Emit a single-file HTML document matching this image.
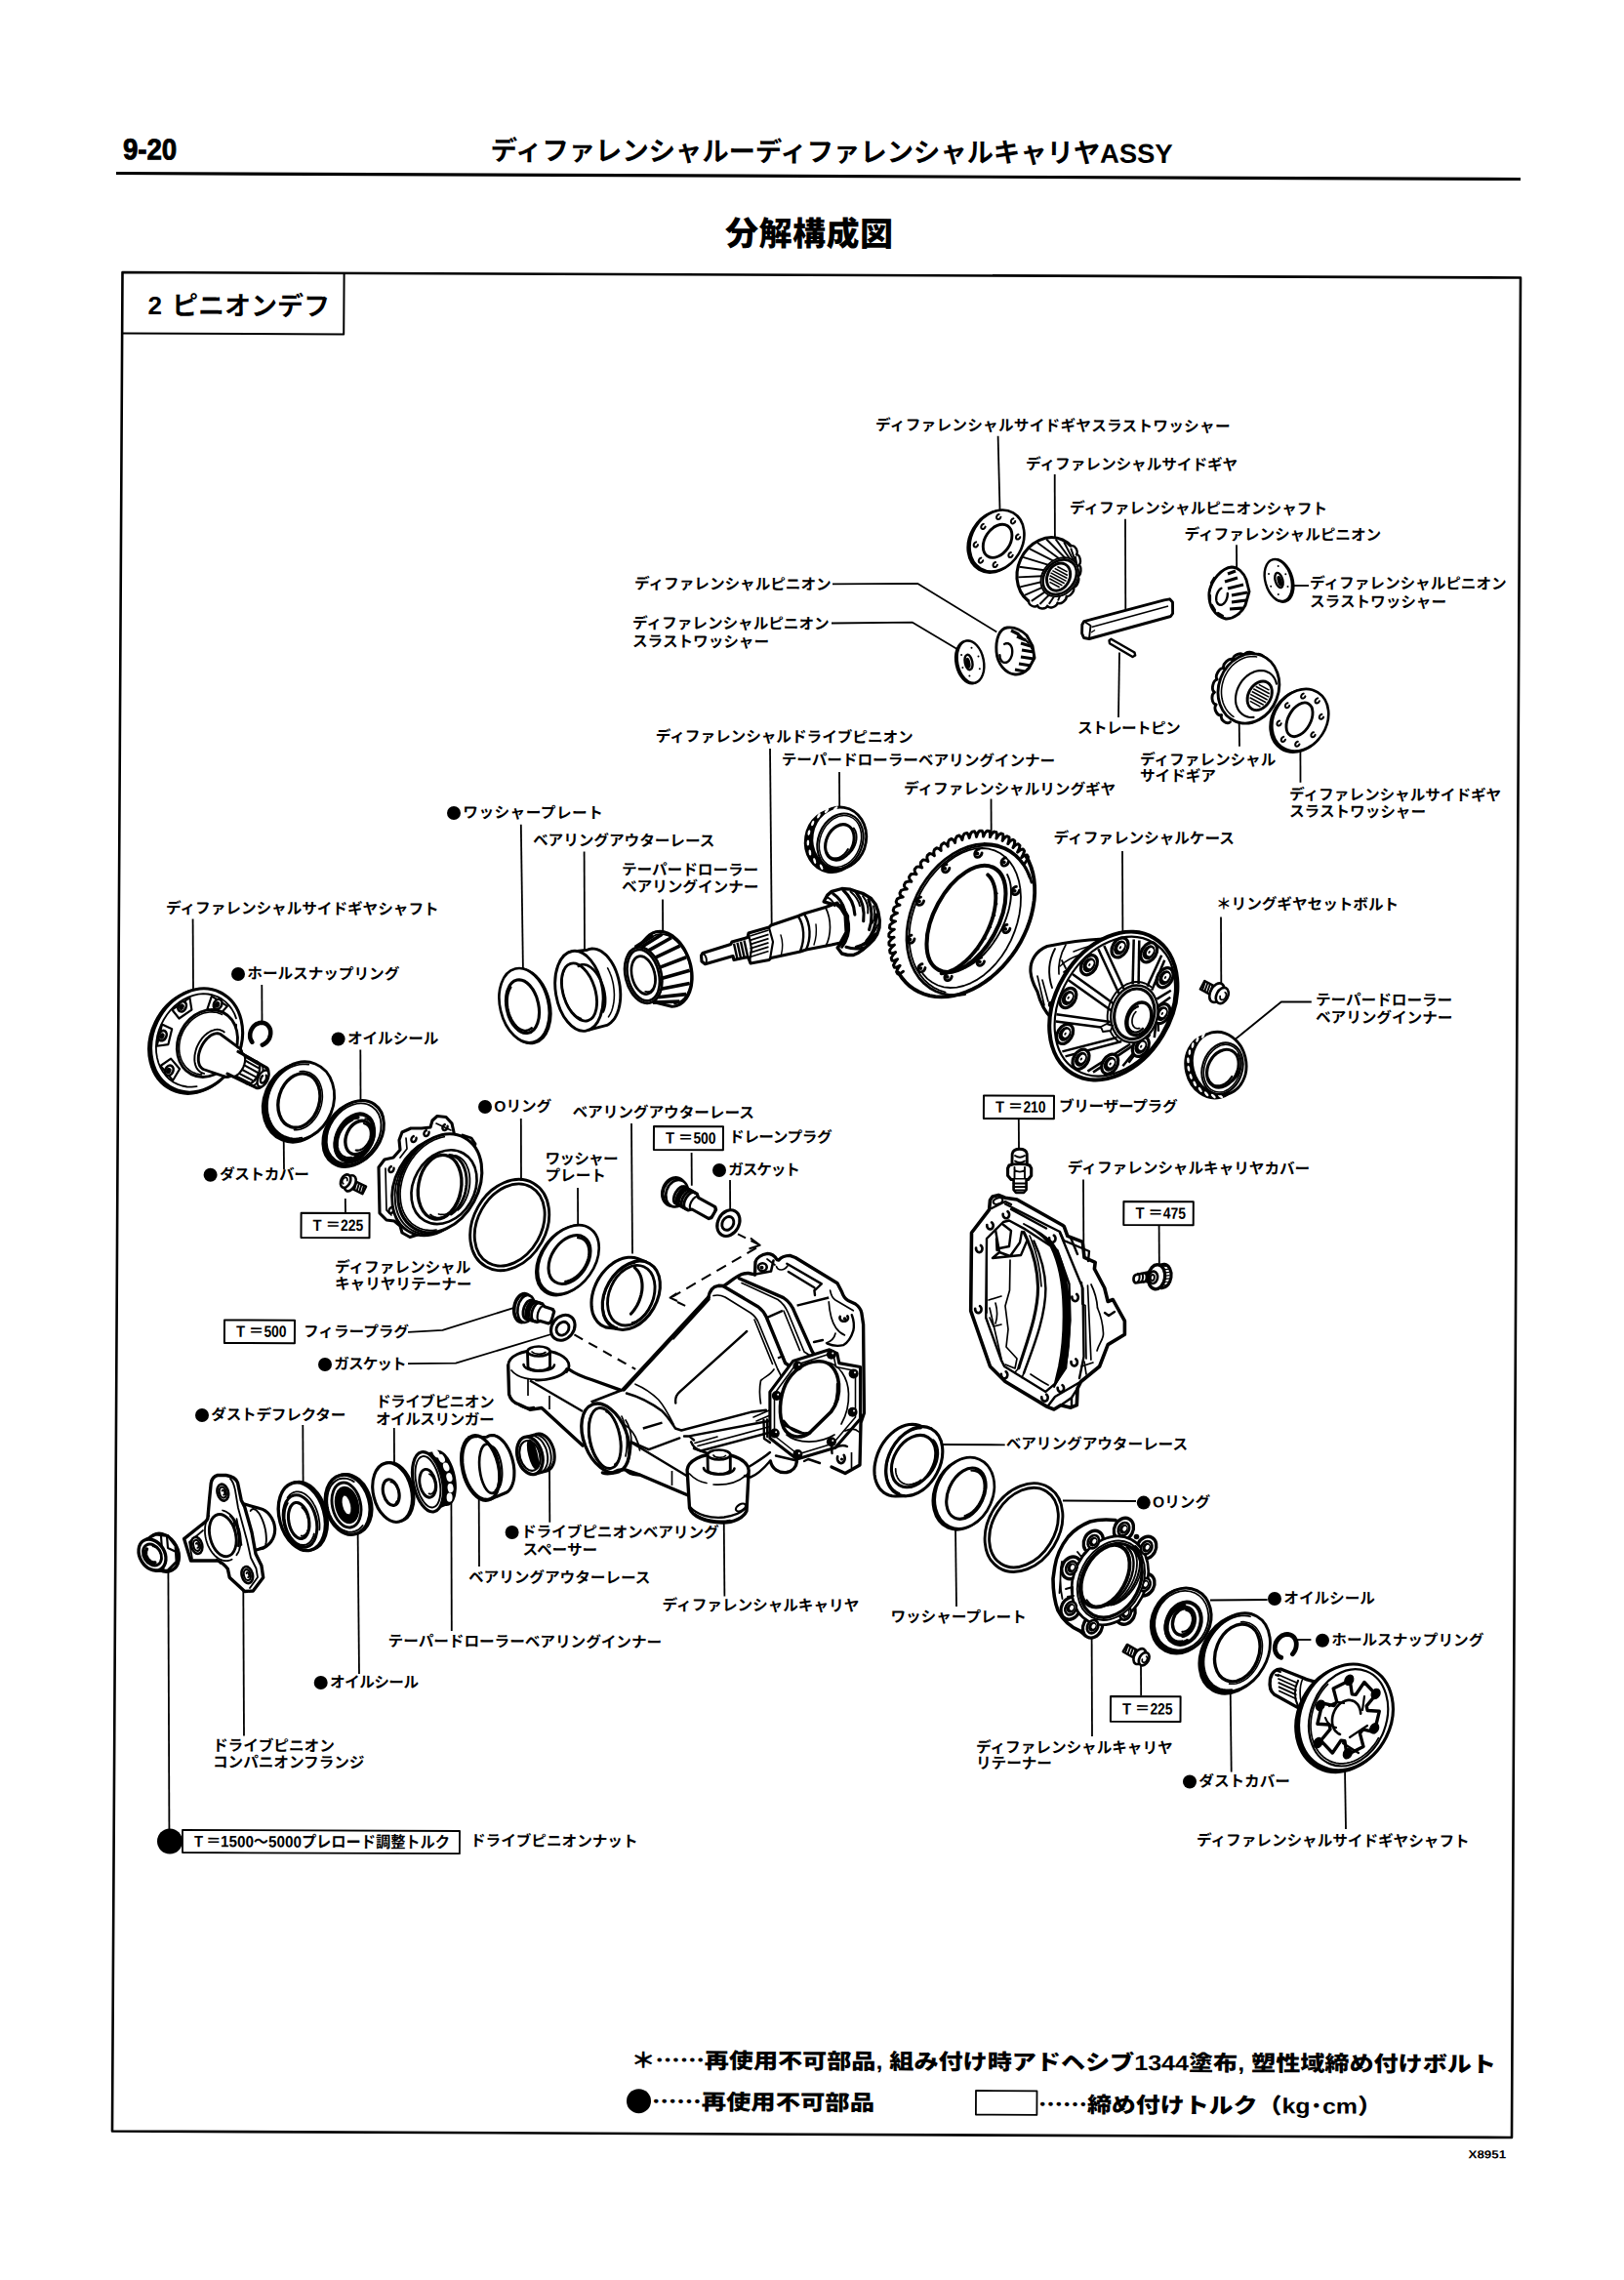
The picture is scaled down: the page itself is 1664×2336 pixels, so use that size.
<!DOCTYPE html>
<html lang="ja"><head><meta charset="utf-8"><title>9-20 分解構成図</title>
<style>
html,body{margin:0;padding:0;background:#fff;}
body{width:1664px;height:2336px;overflow:hidden;}
svg{display:block;}
text{font-family:"Liberation Sans","Noto Sans CJK JP",sans-serif;fill:#000;}
</style></head><body>
<svg width="1664" height="2336" viewBox="0 0 1664 2336">
<text x="126.0" y="163.1" font-size="30" font-weight="700" font-family='"Liberation Sans",sans-serif' stroke="#000" stroke-width="0.9" transform="rotate(0.27 126.0 163.1) translate(126.0 163.1) scale(0.92 1) translate(-126.0 -163.1)">9-20</text>
<path d="M119.0 177.5 L1558.0 183.5" fill="none" stroke="#000" stroke-width="3.20" stroke-linecap="butt" stroke-linejoin="round"/>
<text x="502.5" y="163.7" font-size="27.5" font-weight="700" textLength="699.0" lengthAdjust="spacing" transform="rotate(0.27 502.5 163.7)">ディファレンシャルーディファレンシャルキャリヤASSY</text>
<text x="743.0" y="251.1" font-size="34" font-weight="900" textLength="172.0" lengthAdjust="spacing" transform="rotate(0.27 743.0 251.1)">分解構成図</text>
<path d="M125.5 279.0 L1558.0 284.5 L1549.0 2190.0 L115.0 2183.5 Z" fill="none" stroke="#000" stroke-width="2.60" stroke-linecap="butt" stroke-linejoin="round"/>
<path d="M125.2 341.5 L352.2 342.5 L352.6 281.0" fill="none" stroke="#000" stroke-width="2.00" stroke-linecap="butt" stroke-linejoin="round"/>
<text x="151.5" y="322.1" font-size="26" font-weight="700" font-family='"Liberation Sans",sans-serif' transform="rotate(0.27 151.5 322.1)">2</text>
<text x="176.0" y="322.5" font-size="27" font-weight="700" textLength="162.0" lengthAdjust="spacing" transform="rotate(0.27 176.0 322.5)">ピニオンデフ</text>
<path d="M1022.6 446.8 L1024.5 522.4" fill="none" stroke="#000" stroke-width="1.80" stroke-linecap="butt" stroke-linejoin="round"/>
<path d="M1080.7 486.0 L1080.9 550.7" fill="none" stroke="#000" stroke-width="1.80" stroke-linecap="butt" stroke-linejoin="round"/>
<path d="M1153.0 531.8 L1153.3 624.6" fill="none" stroke="#000" stroke-width="1.80" stroke-linecap="butt" stroke-linejoin="round"/>
<path d="M853.0 598.3 L940.0 597.8 L1021.3 647.5" fill="none" stroke="#000" stroke-width="1.80" stroke-linecap="butt" stroke-linejoin="round"/>
<path d="M852.0 638.5 L935.0 637.7 L982.4 666.0" fill="none" stroke="#000" stroke-width="1.80" stroke-linecap="butt" stroke-linejoin="round"/>
<path d="M1147.0 668.5 L1146.0 735.0" fill="none" stroke="#000" stroke-width="1.80" stroke-linecap="butt" stroke-linejoin="round"/>
<path d="M1267.0 558.3 L1267.2 583.4" fill="none" stroke="#000" stroke-width="1.80" stroke-linecap="butt" stroke-linejoin="round"/>
<path d="M1324.4 600.0 L1341.0 600.0" fill="none" stroke="#000" stroke-width="1.80" stroke-linecap="butt" stroke-linejoin="round"/>
<path d="M1269.7 741.0 L1270.0 764.8" fill="none" stroke="#000" stroke-width="1.80" stroke-linecap="butt" stroke-linejoin="round"/>
<path d="M1332.4 768.0 L1332.5 801.7" fill="none" stroke="#000" stroke-width="1.80" stroke-linecap="butt" stroke-linejoin="round"/>
<path d="M1150.0 872.0 L1150.4 954.5" fill="none" stroke="#000" stroke-width="1.80" stroke-linecap="butt" stroke-linejoin="round"/>
<path d="M1251.0 939.6 L1251.3 1007.0" fill="none" stroke="#000" stroke-width="1.80" stroke-linecap="butt" stroke-linejoin="round"/>
<path d="M789.0 767.0 L790.7 947.0" fill="none" stroke="#000" stroke-width="1.80" stroke-linecap="butt" stroke-linejoin="round"/>
<path d="M860.0 791.0 L860.2 826.5" fill="none" stroke="#000" stroke-width="1.80" stroke-linecap="butt" stroke-linejoin="round"/>
<path d="M1015.5 818.6 L1015.7 854.0" fill="none" stroke="#000" stroke-width="1.80" stroke-linecap="butt" stroke-linejoin="round"/>
<path d="M533.8 844.8 L535.9 992.0" fill="none" stroke="#000" stroke-width="1.80" stroke-linecap="butt" stroke-linejoin="round"/>
<path d="M598.6 872.4 L599.0 973.0" fill="none" stroke="#000" stroke-width="1.80" stroke-linecap="butt" stroke-linejoin="round"/>
<path d="M679.0 921.4 L679.2 955.9" fill="none" stroke="#000" stroke-width="1.80" stroke-linecap="butt" stroke-linejoin="round"/>
<path d="M533.8 1146.0 L534.0 1209.7" fill="none" stroke="#000" stroke-width="1.80" stroke-linecap="butt" stroke-linejoin="round"/>
<path d="M647.0 1151.0 L648.0 1284.5" fill="none" stroke="#000" stroke-width="1.80" stroke-linecap="butt" stroke-linejoin="round"/>
<path d="M592.0 1217.0 L592.2 1255.0" fill="none" stroke="#000" stroke-width="1.80" stroke-linecap="butt" stroke-linejoin="round"/>
<path d="M708.6 1181.0 L708.8 1214.8" fill="none" stroke="#000" stroke-width="1.80" stroke-linecap="butt" stroke-linejoin="round"/>
<path d="M748.0 1209.0 L748.2 1240.7" fill="none" stroke="#000" stroke-width="1.80" stroke-linecap="butt" stroke-linejoin="round"/>
<path d="M1043.8 1147.0 L1044.0 1176.5" fill="none" stroke="#000" stroke-width="1.80" stroke-linecap="butt" stroke-linejoin="round"/>
<path d="M1343.8 1026.5 L1312.8 1026.5 L1266.0 1064.5" fill="none" stroke="#000" stroke-width="1.80" stroke-linecap="butt" stroke-linejoin="round"/>
<path d="M197.6 941.4 L198.0 1013.8" fill="none" stroke="#000" stroke-width="1.80" stroke-linecap="butt" stroke-linejoin="round"/>
<path d="M268.3 1009.0 L268.5 1048.0" fill="none" stroke="#000" stroke-width="1.80" stroke-linecap="butt" stroke-linejoin="round"/>
<path d="M369.3 1075.5 L369.5 1128.0" fill="none" stroke="#000" stroke-width="1.80" stroke-linecap="butt" stroke-linejoin="round"/>
<path d="M290.7 1166.0 L291.0 1198.0" fill="none" stroke="#000" stroke-width="1.80" stroke-linecap="butt" stroke-linejoin="round"/>
<path d="M353.8 1228.0 L354.0 1242.0" fill="none" stroke="#000" stroke-width="1.80" stroke-linecap="butt" stroke-linejoin="round"/>
<path d="M418.0 1364.8 L453.4 1362.8 L527.6 1339.7" fill="none" stroke="#000" stroke-width="1.80" stroke-linecap="butt" stroke-linejoin="round"/>
<path d="M418.0 1397.2 L467.0 1396.6 L564.8 1367.0" fill="none" stroke="#000" stroke-width="1.80" stroke-linecap="butt" stroke-linejoin="round"/>
<path d="M310.3 1460.0 L310.6 1518.0" fill="none" stroke="#000" stroke-width="1.80" stroke-linecap="butt" stroke-linejoin="round"/>
<path d="M403.8 1463.0 L404.0 1498.6" fill="none" stroke="#000" stroke-width="1.80" stroke-linecap="butt" stroke-linejoin="round"/>
<path d="M563.0 1502.8 L563.3 1559.7" fill="none" stroke="#000" stroke-width="1.80" stroke-linecap="butt" stroke-linejoin="round"/>
<path d="M490.7 1535.5 L491.0 1605.0" fill="none" stroke="#000" stroke-width="1.80" stroke-linecap="butt" stroke-linejoin="round"/>
<path d="M462.4 1537.0 L462.8 1671.0" fill="none" stroke="#000" stroke-width="1.80" stroke-linecap="butt" stroke-linejoin="round"/>
<path d="M366.6 1568.0 L368.0 1715.0" fill="none" stroke="#000" stroke-width="1.80" stroke-linecap="butt" stroke-linejoin="round"/>
<path d="M249.3 1630.0 L250.0 1778.6" fill="none" stroke="#000" stroke-width="1.80" stroke-linecap="butt" stroke-linejoin="round"/>
<path d="M172.4 1609.0 L173.4 1874.0" fill="none" stroke="#000" stroke-width="1.80" stroke-linecap="butt" stroke-linejoin="round"/>
<path d="M741.7 1556.0 L742.4 1635.5" fill="none" stroke="#000" stroke-width="1.80" stroke-linecap="butt" stroke-linejoin="round"/>
<path d="M979.0 1565.0 L980.0 1646.0" fill="none" stroke="#000" stroke-width="1.80" stroke-linecap="butt" stroke-linejoin="round"/>
<path d="M966.0 1480.0 L1029.7 1480.3" fill="none" stroke="#000" stroke-width="1.80" stroke-linecap="butt" stroke-linejoin="round"/>
<path d="M1089.0 1537.5 L1164.0 1538.0" fill="none" stroke="#000" stroke-width="1.80" stroke-linecap="butt" stroke-linejoin="round"/>
<path d="M1118.6 1676.0 L1119.0 1779.0" fill="none" stroke="#000" stroke-width="1.80" stroke-linecap="butt" stroke-linejoin="round"/>
<path d="M1169.0 1707.0 L1169.2 1737.0" fill="none" stroke="#000" stroke-width="1.80" stroke-linecap="butt" stroke-linejoin="round"/>
<path d="M1240.0 1639.5 L1298.6 1639.0" fill="none" stroke="#000" stroke-width="1.80" stroke-linecap="butt" stroke-linejoin="round"/>
<path d="M1328.0 1680.0 L1343.4 1680.0" fill="none" stroke="#000" stroke-width="1.80" stroke-linecap="butt" stroke-linejoin="round"/>
<path d="M1260.7 1732.8 L1261.7 1815.5" fill="none" stroke="#000" stroke-width="1.80" stroke-linecap="butt" stroke-linejoin="round"/>
<path d="M1378.0 1812.0 L1379.0 1874.0" fill="none" stroke="#000" stroke-width="1.80" stroke-linecap="butt" stroke-linejoin="round"/>
<path d="M1110.0 1208.6 L1110.3 1272.4" fill="none" stroke="#000" stroke-width="1.80" stroke-linecap="butt" stroke-linejoin="round"/>
<path d="M1187.6 1256.0 L1187.8 1295.0" fill="none" stroke="#000" stroke-width="1.80" stroke-linecap="butt" stroke-linejoin="round"/>
<text x="897.0" y="440.7" font-size="15.6" font-weight="700" textLength="363.5" lengthAdjust="spacing" transform="rotate(0.27 897.0 440.7)">ディファレンシャルサイドギヤスラストワッシャー</text>
<text x="1051.0" y="480.7" font-size="15.6" font-weight="700" transform="rotate(0.27 1051.0 480.7)">ディファレンシャルサイドギヤ</text>
<text x="1096.0" y="525.7" font-size="15.6" font-weight="700" transform="rotate(0.27 1096.0 525.7)">ディファレンシャルピニオンシャフト</text>
<text x="1213.5" y="552.7" font-size="15.6" font-weight="700" transform="rotate(0.27 1213.5 552.7)">ディファレンシャルピニオン</text>
<text x="1342.0" y="602.7" font-size="15.6" font-weight="700" transform="rotate(0.27 1342.0 602.7)">ディファレンシャルピニオン</text>
<text x="1342.0" y="621.7" font-size="15.6" font-weight="700" transform="rotate(0.27 1342.0 621.7)">スラストワッシャー</text>
<text x="650.0" y="603.3" font-size="15.6" font-weight="700" transform="rotate(0.27 650.0 603.3)">ディファレンシャルピニオン</text>
<text x="648.0" y="643.7" font-size="15.6" font-weight="700" transform="rotate(0.27 648.0 643.7)">ディファレンシャルピニオン</text>
<text x="648.0" y="662.5" font-size="15.6" font-weight="700" transform="rotate(0.27 648.0 662.5)">スラストワッシャー</text>
<text x="1104.0" y="751.2" font-size="15.6" font-weight="700" textLength="105.5" lengthAdjust="spacing" transform="rotate(0.27 1104.0 751.2)">ストレートピン</text>
<text x="1168.0" y="783.5" font-size="15.6" font-weight="700" transform="rotate(0.27 1168.0 783.5)">ディファレンシャル</text>
<text x="1168.0" y="800.2" font-size="15.6" font-weight="700" transform="rotate(0.27 1168.0 800.2)">サイドギア</text>
<text x="1321.0" y="819.3" font-size="15.6" font-weight="700" transform="rotate(0.27 1321.0 819.3)">ディファレンシャルサイドギヤ</text>
<text x="1321.0" y="836.7" font-size="15.6" font-weight="700" transform="rotate(0.27 1321.0 836.7)">スラストワッシャー</text>
<text x="1079.6" y="863.7" font-size="15.6" font-weight="700" transform="rotate(0.27 1079.6 863.7)">ディファレンシャルケース</text>
<text x="1246.0" y="931.4" font-size="15.6" font-weight="700" transform="rotate(0.27 1246.0 931.4)">＊リングギヤセットボルト</text>
<text x="671.7" y="759.7" font-size="15.6" font-weight="700" transform="rotate(0.27 671.7 759.7)">ディファレンシャルドライブピニオン</text>
<text x="800.7" y="783.7" font-size="15.6" font-weight="700" transform="rotate(0.27 800.7 783.7)">テーパードローラーベアリングインナー</text>
<text x="926.0" y="813.3" font-size="15.6" font-weight="700" transform="rotate(0.27 926.0 813.3)">ディファレンシャルリングギヤ</text>
<circle cx="465.0" cy="833.0" r="7.0" fill="#000" stroke="none" stroke-width="0"/>
<text x="474.3" y="837.7" font-size="15.6" font-weight="700" textLength="143.5" lengthAdjust="spacing" transform="rotate(0.27 474.3 837.7)">ワッシャープレート</text>
<text x="546.0" y="866.2" font-size="15.6" font-weight="700" transform="rotate(0.27 546.0 866.2)">ベアリングアウターレース</text>
<text x="637.0" y="896.2" font-size="15.6" font-weight="700" transform="rotate(0.27 637.0 896.2)">テーパードローラー</text>
<text x="637.0" y="913.7" font-size="15.6" font-weight="700" transform="rotate(0.27 637.0 913.7)">ベアリングインナー</text>
<circle cx="497.0" cy="1134.0" r="7.0" fill="#000" stroke="none" stroke-width="0"/>
<text x="506.3" y="1138.7" font-size="15.6" font-weight="700" transform="rotate(0.27 506.3 1138.7)">Oリング</text>
<text x="586.5" y="1144.7" font-size="15.6" font-weight="700" transform="rotate(0.27 586.5 1144.7)">ベアリングアウターレース</text>
<path d="M670.0 1154.0 L741.0 1154.3 L740.9 1178.3 L669.9 1178.0 Z" fill="#fff" stroke="#000" stroke-width="2.00" stroke-linecap="butt" stroke-linejoin="round"/>
<text x="682.0" y="1171.6" font-size="16.4" font-weight="700" font-family='"Liberation Sans",sans-serif' transform="rotate(0.27 682.0 1171.6) translate(682.0 1171.6) scale(0.9 1) translate(-682.0 -1171.6)">T</text>
<text x="694.8" y="1170.9" font-size="15.5" font-weight="700" transform="rotate(0.27 694.8 1170.9) translate(694.8 1170.9) scale(1.0 1) translate(-694.8 -1170.9)">＝</text>
<text x="710.4" y="1171.6" font-size="16.4" font-weight="700" textLength="23.2" lengthAdjust="spacingAndGlyphs" font-family='"Liberation Sans",sans-serif' transform="rotate(0.27 710.4 1171.6)">500</text>
<text x="747.0" y="1170.2" font-size="15.6" font-weight="700" textLength="105.5" lengthAdjust="spacing" transform="rotate(0.27 747.0 1170.2)">ドレーンプラグ</text>
<text x="558.5" y="1192.5" font-size="15.6" font-weight="700" textLength="75.0" lengthAdjust="spacing" transform="rotate(0.27 558.5 1192.5)">ワッシャー</text>
<text x="558.5" y="1209.7" font-size="15.6" font-weight="700" transform="rotate(0.27 558.5 1209.7)">プレート</text>
<circle cx="737.0" cy="1199.0" r="7.0" fill="#000" stroke="none" stroke-width="0"/>
<text x="746.3" y="1203.7" font-size="15.6" font-weight="700" textLength="73.5" lengthAdjust="spacing" transform="rotate(0.27 746.3 1203.7)">ガスケット</text>
<path d="M1008.0 1122.4 L1080.0 1122.7 L1079.9 1146.3 L1007.9 1146.0 Z" fill="#fff" stroke="#000" stroke-width="2.00" stroke-linecap="butt" stroke-linejoin="round"/>
<text x="1020.0" y="1139.8" font-size="16.4" font-weight="700" font-family='"Liberation Sans",sans-serif' transform="rotate(0.27 1020.0 1139.8) translate(1020.0 1139.8) scale(0.9 1) translate(-1020.0 -1139.8)">T</text>
<text x="1032.8" y="1139.1" font-size="15.5" font-weight="700" transform="rotate(0.27 1032.8 1139.1) translate(1032.8 1139.1) scale(1.0 1) translate(-1032.8 -1139.1)">＝</text>
<text x="1048.4" y="1139.8" font-size="16.4" font-weight="700" textLength="23.2" lengthAdjust="spacingAndGlyphs" font-family='"Liberation Sans",sans-serif' transform="rotate(0.27 1048.4 1139.8)">210</text>
<text x="1085.0" y="1138.7" font-size="15.6" font-weight="700" textLength="121.5" lengthAdjust="spacing" transform="rotate(0.27 1085.0 1138.7)">ブリーザープラグ</text>
<text x="1348.0" y="1029.7" font-size="15.6" font-weight="700" transform="rotate(0.27 1348.0 1029.7)">テーパードローラー</text>
<text x="1348.0" y="1047.7" font-size="15.6" font-weight="700" transform="rotate(0.27 1348.0 1047.7)">ベアリングインナー</text>
<text x="170.0" y="935.7" font-size="15.6" font-weight="700" transform="rotate(0.27 170.0 935.7)">ディファレンシャルサイドギヤシャフト</text>
<circle cx="244.0" cy="998.0" r="7.0" fill="#000" stroke="none" stroke-width="0"/>
<text x="253.3" y="1002.7" font-size="15.6" font-weight="700" transform="rotate(0.27 253.3 1002.7)">ホールスナップリング</text>
<circle cx="346.6" cy="1064.5" r="7.0" fill="#000" stroke="none" stroke-width="0"/>
<text x="355.9" y="1069.2" font-size="15.6" font-weight="700" transform="rotate(0.27 355.9 1069.2)">オイルシール</text>
<circle cx="215.6" cy="1203.8" r="7.0" fill="#000" stroke="none" stroke-width="0"/>
<text x="224.9" y="1208.5" font-size="15.6" font-weight="700" textLength="92.0" lengthAdjust="spacing" transform="rotate(0.27 224.9 1208.5)">ダストカバー</text>
<path d="M308.6 1242.8 L378.6 1243.1 L378.5 1268.3 L308.5 1268.0 Z" fill="#fff" stroke="#000" stroke-width="2.00" stroke-linecap="butt" stroke-linejoin="round"/>
<text x="320.6" y="1261.0" font-size="16.4" font-weight="700" font-family='"Liberation Sans",sans-serif' transform="rotate(0.27 320.6 1261.0) translate(320.6 1261.0) scale(0.9 1) translate(-320.6 -1261.0)">T</text>
<text x="333.4" y="1260.3" font-size="15.5" font-weight="700" transform="rotate(0.27 333.4 1260.3) translate(333.4 1260.3) scale(1.0 1) translate(-333.4 -1260.3)">＝</text>
<text x="349.0" y="1261.0" font-size="16.4" font-weight="700" textLength="23.2" lengthAdjust="spacingAndGlyphs" font-family='"Liberation Sans",sans-serif' transform="rotate(0.27 349.0 1261.0)">225</text>
<text x="343.0" y="1303.5" font-size="15.6" font-weight="700" transform="rotate(0.27 343.0 1303.5)">ディファレンシャル</text>
<text x="343.0" y="1320.7" font-size="15.6" font-weight="700" transform="rotate(0.27 343.0 1320.7)">キャリヤリテーナー</text>
<path d="M230.0 1352.4 L302.0 1352.7 L301.9 1376.3 L229.9 1376.0 Z" fill="#fff" stroke="#000" stroke-width="2.00" stroke-linecap="butt" stroke-linejoin="round"/>
<text x="242.0" y="1369.8" font-size="16.4" font-weight="700" font-family='"Liberation Sans",sans-serif' transform="rotate(0.27 242.0 1369.8) translate(242.0 1369.8) scale(0.9 1) translate(-242.0 -1369.8)">T</text>
<text x="254.8" y="1369.1" font-size="15.5" font-weight="700" transform="rotate(0.27 254.8 1369.1) translate(254.8 1369.1) scale(1.0 1) translate(-254.8 -1369.1)">＝</text>
<text x="270.4" y="1369.8" font-size="16.4" font-weight="700" textLength="23.2" lengthAdjust="spacingAndGlyphs" font-family='"Liberation Sans",sans-serif' transform="rotate(0.27 270.4 1369.8)">500</text>
<text x="311.0" y="1369.5" font-size="15.6" font-weight="700" transform="rotate(0.27 311.0 1369.5)">フィラープラグ</text>
<circle cx="333.0" cy="1398.0" r="7.0" fill="#000" stroke="none" stroke-width="0"/>
<text x="342.3" y="1402.7" font-size="15.6" font-weight="700" textLength="74.3" lengthAdjust="spacing" transform="rotate(0.27 342.3 1402.7)">ガスケット</text>
<circle cx="207.0" cy="1450.0" r="7.0" fill="#000" stroke="none" stroke-width="0"/>
<text x="216.3" y="1454.7" font-size="15.6" font-weight="700" textLength="138.0" lengthAdjust="spacing" transform="rotate(0.27 216.3 1454.7)">ダストデフレクター</text>
<text x="385.0" y="1441.4" font-size="15.6" font-weight="700" textLength="121.5" lengthAdjust="spacing" transform="rotate(0.27 385.0 1441.4)">ドライブピニオン</text>
<text x="385.0" y="1459.4" font-size="15.6" font-weight="700" textLength="121.5" lengthAdjust="spacing" transform="rotate(0.27 385.0 1459.4)">オイルスリンガー</text>
<text x="1093.8" y="1201.7" font-size="15.6" font-weight="700" transform="rotate(0.27 1093.8 1201.7)">ディファレンシャルキャリヤカバー</text>
<path d="M1151.4 1231.0 L1222.8 1231.3 L1222.7 1255.3 L1151.3 1255.0 Z" fill="#fff" stroke="#000" stroke-width="2.00" stroke-linecap="butt" stroke-linejoin="round"/>
<text x="1163.4" y="1248.6" font-size="16.4" font-weight="700" font-family='"Liberation Sans",sans-serif' transform="rotate(0.27 1163.4 1248.6) translate(1163.4 1248.6) scale(0.9 1) translate(-1163.4 -1248.6)">T</text>
<text x="1176.2" y="1247.9" font-size="15.5" font-weight="700" transform="rotate(0.27 1176.2 1247.9) translate(1176.2 1247.9) scale(1.0 1) translate(-1176.2 -1247.9)">＝</text>
<text x="1191.8" y="1248.6" font-size="16.4" font-weight="700" textLength="23.2" lengthAdjust="spacingAndGlyphs" font-family='"Liberation Sans",sans-serif' transform="rotate(0.27 1191.8 1248.6)">475</text>
<text x="1030.7" y="1484.4" font-size="15.6" font-weight="700" transform="rotate(0.27 1030.7 1484.4)">ベアリングアウターレース</text>
<circle cx="524.6" cy="1570.0" r="7.0" fill="#000" stroke="none" stroke-width="0"/>
<text x="533.9" y="1574.7" font-size="15.6" font-weight="700" transform="rotate(0.27 533.9 1574.7)">ドライブピニオンベアリング</text>
<text x="535.5" y="1593.1" font-size="15.6" font-weight="700" transform="rotate(0.27 535.5 1593.1)">スペーサー</text>
<text x="480.0" y="1621.2" font-size="15.6" font-weight="700" transform="rotate(0.27 480.0 1621.2)">ベアリングアウターレース</text>
<text x="397.6" y="1686.7" font-size="15.6" font-weight="700" transform="rotate(0.27 397.6 1686.7)">テーパードローラーベアリングインナー</text>
<circle cx="328.7" cy="1724.0" r="7.0" fill="#000" stroke="none" stroke-width="0"/>
<text x="338.0" y="1728.7" font-size="15.6" font-weight="700" textLength="91.0" lengthAdjust="spacing" transform="rotate(0.27 338.0 1728.7)">オイルシール</text>
<text x="218.0" y="1793.7" font-size="15.6" font-weight="700" transform="rotate(0.27 218.0 1793.7)">ドライブピニオン</text>
<text x="218.0" y="1810.7" font-size="15.6" font-weight="700" transform="rotate(0.27 218.0 1810.7)">コンパニオンフランジ</text>
<text x="678.6" y="1649.7" font-size="15.6" font-weight="700" transform="rotate(0.27 678.6 1649.7)">ディファレンシャルキャリヤ</text>
<text x="912.4" y="1661.7" font-size="15.6" font-weight="700" transform="rotate(0.27 912.4 1661.7)">ワッシャープレート</text>
<text x="1000.0" y="1795.4" font-size="15.6" font-weight="700" transform="rotate(0.27 1000.0 1795.4)">ディファレンシャルキャリヤ</text>
<text x="1000.0" y="1811.7" font-size="15.6" font-weight="700" transform="rotate(0.27 1000.0 1811.7)">リテーナー</text>
<path d="M1138.0 1738.0 L1209.6 1738.3 L1209.5 1764.1 L1137.9 1763.8 Z" fill="#fff" stroke="#000" stroke-width="2.00" stroke-linecap="butt" stroke-linejoin="round"/>
<text x="1150.0" y="1756.5" font-size="16.4" font-weight="700" font-family='"Liberation Sans",sans-serif' transform="rotate(0.27 1150.0 1756.5) translate(1150.0 1756.5) scale(0.9 1) translate(-1150.0 -1756.5)">T</text>
<text x="1162.8" y="1755.8" font-size="15.5" font-weight="700" transform="rotate(0.27 1162.8 1755.8) translate(1162.8 1755.8) scale(1.0 1) translate(-1162.8 -1755.8)">＝</text>
<text x="1178.4" y="1756.5" font-size="16.4" font-weight="700" textLength="23.2" lengthAdjust="spacingAndGlyphs" font-family='"Liberation Sans",sans-serif' transform="rotate(0.27 1178.4 1756.5)">225</text>
<circle cx="1171.8" cy="1539.6" r="7.0" fill="#000" stroke="none" stroke-width="0"/>
<text x="1181.1" y="1544.3" font-size="15.6" font-weight="700" transform="rotate(0.27 1181.1 1544.3)">Oリング</text>
<circle cx="1306.0" cy="1638.0" r="7.0" fill="#000" stroke="none" stroke-width="0"/>
<text x="1315.3" y="1642.7" font-size="15.6" font-weight="700" transform="rotate(0.27 1315.3 1642.7)">オイルシール</text>
<circle cx="1355.0" cy="1680.7" r="7.0" fill="#000" stroke="none" stroke-width="0"/>
<text x="1364.3" y="1685.4" font-size="15.6" font-weight="700" transform="rotate(0.27 1364.3 1685.4)">ホールスナップリング</text>
<circle cx="1219.0" cy="1825.5" r="7.0" fill="#000" stroke="none" stroke-width="0"/>
<text x="1228.3" y="1830.2" font-size="15.6" font-weight="700" transform="rotate(0.27 1228.3 1830.2)">ダストカバー</text>
<text x="1226.0" y="1890.7" font-size="15.6" font-weight="700" transform="rotate(0.27 1226.0 1890.7)">ディファレンシャルサイドギヤシャフト</text>
<path d="M187.0 1874.8 L471.0 1876.0 L470.9 1899.2 L187.0 1898.0 Z" fill="#fff" stroke="#000" stroke-width="1.80" stroke-linecap="butt" stroke-linejoin="round"/>
<circle cx="174.0" cy="1886.5" r="13.0" fill="#000" stroke="none" stroke-width="0"/>
<text x="199.0" y="1892.3" font-size="16.4" font-weight="700" font-family='"Liberation Sans",sans-serif' transform="rotate(0.27 199.0 1892.3) translate(199.0 1892.3) scale(0.9 1) translate(-199.0 -1892.3)">T</text>
<text x="211.0" y="1891.6" font-size="15.5" font-weight="700" transform="rotate(0.27 211.0 1891.6)">＝</text>
<text x="226.0" y="1892.3" font-size="16.4" font-weight="700" textLength="235.0" lengthAdjust="spacingAndGlyphs" transform="rotate(0.27 226.0 1892.3)">1500～5000プレロード調整トルク</text>
<text x="482.0" y="1891.2" font-size="15.6" font-weight="700" transform="rotate(0.27 482.0 1891.2)">ドライブピニオンナット</text>
<text x="646.5" y="2118.6" font-size="22" font-weight="900" textLength="886.5" lengthAdjust="spacingAndGlyphs" transform="rotate(0.27 646.5 2118.6)">＊<tspan font-family="Noto Sans CJK JP, sans-serif">……</tspan>再使用不可部品, 組み付け時アドヘシブ1344塗布, 塑性域締め付けボルト</text>
<circle cx="654.5" cy="2152.7" r="12.5" fill="#000" stroke="none" stroke-width="0"/>
<text x="668.0" y="2161.1" font-size="22" font-weight="900" textLength="228.0" lengthAdjust="spacingAndGlyphs" transform="rotate(0.27 668.0 2161.1)"><tspan font-family="Noto Sans CJK JP, sans-serif">……</tspan>再使用不可部品</text>
<path d="M1000.0 2142.0 L1062.5 2142.3 L1062.4 2166.8 L999.9 2166.5 Z" fill="none" stroke="#000" stroke-width="1.80" stroke-linecap="butt" stroke-linejoin="round"/>
<text x="1064.0" y="2164.1" font-size="22" font-weight="900" textLength="352.0" lengthAdjust="spacingAndGlyphs" transform="rotate(0.27 1064.0 2164.1)"><tspan font-family="Noto Sans CJK JP, sans-serif">……</tspan>締め付けトルク（kg･cm）</text>
<text x="1504.6" y="2211.2" font-size="11.5" font-weight="700" textLength="38.5" lengthAdjust="spacingAndGlyphs" transform="rotate(0.27 1504.6 2211.2)">X8951</text>
<ellipse cx="1019.9" cy="554.9" rx="33.0" ry="26.0" fill="#fff" stroke="#000" stroke-width="3.12" transform="rotate(-59.8 1019.9 554.9)"/>
<ellipse cx="1021.5" cy="554.0" rx="33.0" ry="26.0" fill="#fff" stroke="#000" stroke-width="2.64" transform="rotate(-59.8 1021.5 554.0)"/>
<ellipse cx="1022.1" cy="554.3" rx="18.6" ry="12.8" fill="none" stroke="#000" stroke-width="2.88" transform="rotate(-56.4 1022.1 554.3)"/>
<path d="M1040.2 534.0 L1039.8 535.0 L1039.2 535.7 L1038.4 536.2 L1037.5 536.4 L1036.8 536.2 L1036.2 535.7 L1035.9 534.9 L1035.9 534.0 L1036.2 533.0 L1036.8 532.2 L1037.5 531.6 L1038.4 531.3" fill="none" stroke="#000" stroke-width="2.04" stroke-linecap="round" stroke-linejoin="round"/>
<path d="M1045.3 550.2 L1044.9 551.1 L1044.3 551.9 L1043.5 552.4 L1042.6 552.6 L1041.9 552.4 L1041.3 551.9 L1041.0 551.1 L1041.0 550.2 L1041.3 549.2 L1041.9 548.4 L1042.6 547.8 L1043.5 547.5" fill="none" stroke="#000" stroke-width="2.04" stroke-linecap="round" stroke-linejoin="round"/>
<path d="M1037.7 568.7 L1037.3 569.6 L1036.7 570.4 L1035.9 570.9 L1035.1 571.1 L1034.3 570.9 L1033.7 570.4 L1033.4 569.6 L1033.4 568.6 L1033.7 567.7 L1034.3 566.9 L1035.1 566.3 L1035.9 566.0" fill="none" stroke="#000" stroke-width="2.04" stroke-linecap="round" stroke-linejoin="round"/>
<path d="M1021.9 578.7 L1021.5 579.6 L1020.9 580.4 L1020.1 580.9 L1019.3 581.1 L1018.5 580.9 L1017.9 580.4 L1017.6 579.6 L1017.6 578.6 L1017.9 577.7 L1018.5 576.9 L1019.3 576.3 L1020.1 576.0" fill="none" stroke="#000" stroke-width="2.04" stroke-linecap="round" stroke-linejoin="round"/>
<path d="M1007.2 574.3 L1006.8 575.2 L1006.1 576.0 L1005.3 576.5 L1004.5 576.7 L1003.7 576.5 L1003.1 576.0 L1002.8 575.2 L1002.8 574.3 L1003.2 573.3 L1003.7 572.5 L1004.5 571.9 L1005.3 571.6" fill="none" stroke="#000" stroke-width="2.04" stroke-linecap="round" stroke-linejoin="round"/>
<path d="M1002.0 558.1 L1001.6 559.1 L1001.0 559.8 L1000.2 560.4 L999.4 560.5 L998.6 560.3 L998.0 559.8 L997.7 559.0 L997.7 558.1 L998.0 557.2 L998.6 556.3 L999.4 555.7 L1000.2 555.4" fill="none" stroke="#000" stroke-width="2.04" stroke-linecap="round" stroke-linejoin="round"/>
<path d="M1009.6 539.6 L1009.2 540.6 L1008.6 541.3 L1007.8 541.9 L1006.9 542.0 L1006.2 541.8 L1005.6 541.3 L1005.3 540.5 L1005.3 539.6 L1005.6 538.7 L1006.2 537.8 L1006.9 537.2 L1007.8 536.9" fill="none" stroke="#000" stroke-width="2.04" stroke-linecap="round" stroke-linejoin="round"/>
<path d="M1025.4 529.7 L1025.0 530.6 L1024.4 531.4 L1023.6 531.9 L1022.7 532.0 L1022.0 531.9 L1021.4 531.3 L1021.1 530.5 L1021.1 529.6 L1021.4 528.7 L1022.0 527.8 L1022.7 527.2 L1023.6 527.0" fill="none" stroke="#000" stroke-width="2.04" stroke-linecap="round" stroke-linejoin="round"/>
<ellipse cx="1073.5" cy="585.7" rx="36.0" ry="30.5" fill="#fff" stroke="#000" stroke-width="3.12" transform="rotate(-65.2 1073.5 585.7)"/>
<path d="M1097.4 559.4 C1101.1 557.8 1105.4 564.8 1102.9 568.4 C1106.7 568.1 1108.5 576.5 1105.2 579.2 C1108.8 580.3 1107.9 589.3 1104.2 590.7 C1107.0 593.1 1103.7 601.7 1099.9 601.7 C1101.7 605.1 1096.2 612.3 1092.7 610.9 C1093.4 615.0 1086.3 620.1 1083.6 617.5 C1083.0 621.8 1075.0 624.2 1073.3 620.7 C1071.6 624.7 1063.6 624.2 1063.2 620.1 C1060.4 623.4 1053.4 620.0 1054.1 615.8" fill="#fff" stroke="#000" stroke-width="2.40" stroke-linecap="round" stroke-linejoin="round" />
<path d="M1090.2 555.5 L1100.9 576.1" fill="none" stroke="#000" stroke-width="1.92" stroke-linecap="butt" stroke-linejoin="round"/>
<path d="M1097.2 561.6 L1103.7 580.6" fill="none" stroke="#000" stroke-width="1.92" stroke-linecap="butt" stroke-linejoin="round"/>
<path d="M1101.8 570.0 L1104.7 586.2" fill="none" stroke="#000" stroke-width="1.92" stroke-linecap="butt" stroke-linejoin="round"/>
<path d="M1103.7 580.0 L1103.9 592.3" fill="none" stroke="#000" stroke-width="1.92" stroke-linecap="butt" stroke-linejoin="round"/>
<path d="M1102.6 590.6 L1101.3 598.3" fill="none" stroke="#000" stroke-width="1.92" stroke-linecap="butt" stroke-linejoin="round"/>
<path d="M1098.7 600.6 L1097.2 603.6" fill="none" stroke="#000" stroke-width="1.92" stroke-linecap="butt" stroke-linejoin="round"/>
<path d="M1092.3 609.2 L1092.0 607.6" fill="none" stroke="#000" stroke-width="1.92" stroke-linecap="butt" stroke-linejoin="round"/>
<path d="M1084.0 615.5 L1086.2 610.1" fill="none" stroke="#000" stroke-width="1.92" stroke-linecap="butt" stroke-linejoin="round"/>
<path d="M1074.8 618.9 L1080.3 610.7" fill="none" stroke="#000" stroke-width="1.92" stroke-linecap="butt" stroke-linejoin="round"/>
<path d="M1065.4 619.0 L1075.0 609.5" fill="none" stroke="#000" stroke-width="1.92" stroke-linecap="butt" stroke-linejoin="round"/>
<path d="M1056.8 615.9 L1070.8 606.4" fill="none" stroke="#000" stroke-width="1.92" stroke-linecap="butt" stroke-linejoin="round"/>
<path d="M1049.8 609.8 L1068.0 601.9" fill="none" stroke="#000" stroke-width="1.92" stroke-linecap="butt" stroke-linejoin="round"/>
<path d="M1045.2 601.4 L1067.0 596.3" fill="none" stroke="#000" stroke-width="1.92" stroke-linecap="butt" stroke-linejoin="round"/>
<path d="M1043.3 591.4 L1067.8 590.2" fill="none" stroke="#000" stroke-width="1.92" stroke-linecap="butt" stroke-linejoin="round"/>
<path d="M1044.4 580.8 L1070.4 584.2" fill="none" stroke="#000" stroke-width="1.92" stroke-linecap="butt" stroke-linejoin="round"/>
<path d="M1048.3 570.8 L1074.5 578.9" fill="none" stroke="#000" stroke-width="1.92" stroke-linecap="butt" stroke-linejoin="round"/>
<path d="M1054.7 562.2 L1079.7 574.9" fill="none" stroke="#000" stroke-width="1.92" stroke-linecap="butt" stroke-linejoin="round"/>
<path d="M1063.0 555.9 L1085.5 572.4" fill="none" stroke="#000" stroke-width="1.92" stroke-linecap="butt" stroke-linejoin="round"/>
<path d="M1072.2 552.5 L1091.4 571.8" fill="none" stroke="#000" stroke-width="1.92" stroke-linecap="butt" stroke-linejoin="round"/>
<path d="M1081.6 552.4 L1096.7 573.0" fill="none" stroke="#000" stroke-width="1.92" stroke-linecap="butt" stroke-linejoin="round"/>
<ellipse cx="1085.8" cy="591.2" rx="21.7" ry="17.4" fill="#fff" stroke="#000" stroke-width="1.80" transform="rotate(-49.0 1085.8 591.2)"/>
<ellipse cx="1085.8" cy="591.2" rx="19.5" ry="15.2" fill="#fff" stroke="#000" stroke-width="2.64" transform="rotate(-49.0 1085.8 591.2)"/>
<ellipse cx="1084.6" cy="591.1" rx="14.7" ry="11.4" fill="#fff" stroke="#000" stroke-width="2.88" transform="rotate(-63.6 1084.6 591.1)"/>
<path d="M1083.4 580.5 L1093.6 585.9" fill="none" stroke="#000" stroke-width="1.56" stroke-linecap="butt" stroke-linejoin="round"/>
<path d="M1080.7 582.4 L1093.9 589.5" fill="none" stroke="#000" stroke-width="1.56" stroke-linecap="butt" stroke-linejoin="round"/>
<path d="M1078.4 584.6 L1093.4 592.5" fill="none" stroke="#000" stroke-width="1.56" stroke-linecap="butt" stroke-linejoin="round"/>
<path d="M1076.6 586.9 L1092.5 595.4" fill="none" stroke="#000" stroke-width="1.56" stroke-linecap="butt" stroke-linejoin="round"/>
<path d="M1075.7 589.8 L1090.7 597.7" fill="none" stroke="#000" stroke-width="1.56" stroke-linecap="butt" stroke-linejoin="round"/>
<path d="M1075.2 592.8 L1088.4 599.9" fill="none" stroke="#000" stroke-width="1.56" stroke-linecap="butt" stroke-linejoin="round"/>
<path d="M1075.5 596.4 L1085.7 601.8" fill="none" stroke="#000" stroke-width="1.56" stroke-linecap="butt" stroke-linejoin="round"/>
<path d="M1110.8 636.6 L1192.8 614.9 L1198.5 613.8 L1201.5 617.0 L1201.6 628.5 L1199.5 631.5 L1116.0 654.5 L1110.5 653.5 L1108.6 649.0 L1108.8 640.0 Z" fill="#fff" stroke="#000" stroke-width="2.88" stroke-linecap="round" stroke-linejoin="round"/>
<path d="M1118.5 642.5 L1197.0 621.0" fill="none" stroke="#000" stroke-width="1.68" stroke-linecap="butt" stroke-linejoin="round"/>
<path d="M1116.0 654.0 L1117.5 641.0 L1111.0 636.8" fill="none" stroke="#000" stroke-width="1.92" stroke-linecap="butt" stroke-linejoin="round"/>
<path d="M1118.0 648.0 L1122.0 645.5" fill="none" stroke="#000" stroke-width="1.44" stroke-linecap="butt" stroke-linejoin="round"/>
<path d="M1138.5 654.8 L1162.5 668.5 L1163.2 671.5 L1160.5 673.0 L1137.0 659.2 L1136.5 656.3 Z" fill="#fff" stroke="#000" stroke-width="2.40" stroke-linecap="round" stroke-linejoin="round"/>
<ellipse cx="993.2" cy="678.5" rx="21.9" ry="13.4" fill="#fff" stroke="#000" stroke-width="2.88" transform="rotate(-101.6 993.2 678.5)"/>
<ellipse cx="994.5" cy="678.1" rx="21.9" ry="13.4" fill="#fff" stroke="#000" stroke-width="2.40" transform="rotate(-101.6 994.5 678.1)"/>
<ellipse cx="992.5" cy="678.5" rx="7.8" ry="3.8" fill="none" stroke="#000" stroke-width="2.40" transform="rotate(-101.6 992.5 678.5)"/>
<ellipse cx="991.9" cy="679.3" rx="4.6" ry="1.5" fill="#000" stroke="#000" stroke-width="1.80" transform="rotate(-101.6 991.9 679.3)"/>
<circle cx="995.5" cy="663.7" r="1.0" fill="#000" stroke="none" stroke-width="0"/>
<circle cx="1002.5" cy="672.4" r="1.0" fill="#000" stroke="none" stroke-width="0"/>
<circle cx="1003.8" cy="685.2" r="1.0" fill="#000" stroke="none" stroke-width="0"/>
<circle cx="993.4" cy="692.6" r="1.0" fill="#000" stroke="none" stroke-width="0"/>
<circle cx="986.4" cy="683.9" r="1.0" fill="#000" stroke="none" stroke-width="0"/>
<circle cx="985.1" cy="671.1" r="1.0" fill="#000" stroke="none" stroke-width="0"/>
<path d="M1032 643 C1024 644 1020 655 1021 668 C1022 680 1030 690 1040 691 C1046 691.5 1050 689 1054 685 L1060 674 L1058 662 L1052 651 C1046 645 1040 642 1032 643 Z" fill="#fff" stroke="#000" stroke-width="2.88" stroke-linecap="round" stroke-linejoin="round" />
<path d="M1029.2 659.9 L1030.1 659.5 L1030.9 659.2 L1031.8 659.1 L1032.7 659.2 L1033.5 659.4 L1034.2 659.9 L1034.9 660.5 L1035.6 661.3 L1036.1 662.2 L1036.6 663.2 L1036.9 664.3 L1037.1 665.6 L1037.2 666.8 L1037.2 668.2 L1037.1 669.5 L1036.9 670.9 L1036.5 672.2 L1036.0 673.4 L1035.5 674.6 L1034.8 675.6 L1034.1 676.6 L1033.3 677.4 L1032.5 678.0 L1031.7 678.5 L1030.8 678.8 L1029.9 678.9 L1029.1 678.8 L1028.2 678.6 L1027.5 678.2 L1026.7 677.6 L1026.1 676.9 L1025.6 676.0 L1025.1 675.0 L1024.7 673.8 L1024.5 672.6 L1024.4 671.3" fill="none" stroke="#000" stroke-width="2.40" stroke-linecap="round" stroke-linejoin="round"/>
<path d="M1036.0 646.0 L1044.0 650.0" fill="none" stroke="#000" stroke-width="3.12" stroke-linecap="butt" stroke-linejoin="round"/>
<path d="M1042.0 652.0 L1051.0 656.0" fill="none" stroke="#000" stroke-width="3.12" stroke-linecap="butt" stroke-linejoin="round"/>
<path d="M1046.0 659.0 L1056.0 662.0" fill="none" stroke="#000" stroke-width="3.12" stroke-linecap="butt" stroke-linejoin="round"/>
<path d="M1047.0 666.0 L1059.0 668.0" fill="none" stroke="#000" stroke-width="3.12" stroke-linecap="butt" stroke-linejoin="round"/>
<path d="M1046.0 673.0 L1059.0 675.0" fill="none" stroke="#000" stroke-width="3.12" stroke-linecap="butt" stroke-linejoin="round"/>
<path d="M1044.0 680.0 L1056.0 682.0" fill="none" stroke="#000" stroke-width="3.12" stroke-linecap="butt" stroke-linejoin="round"/>
<path d="M1040.0 686.0 L1050.0 688.0" fill="none" stroke="#000" stroke-width="3.12" stroke-linecap="butt" stroke-linejoin="round"/>
<path d="M1044 650 l3 3 M1051 656 l3 3 M1056 662 l2 4 M1059 668 l0 5 M1059 675 l-2 5 M1056 682 l-4 4" fill="none" stroke="#000" stroke-width="1.92" stroke-linecap="round" stroke-linejoin="round" />
<path d="M1262 581 C1252 582 1241 594 1239 607 C1238 620 1244 631 1256 634 C1264 634.5 1272 628 1276 620 L1280 606 L1277 594 C1274 586 1268 581 1262 581 Z" fill="#fff" stroke="#000" stroke-width="2.88" stroke-linecap="round" stroke-linejoin="round" />
<path d="M1257.8 607.9 L1257.8 609.0 L1257.7 610.1 L1257.6 611.3 L1257.3 612.4 L1257.0 613.5 L1256.5 614.6 L1256.0 615.6 L1255.4 616.6 L1254.8 617.4 L1254.1 618.2 L1253.4 618.8 L1252.6 619.2 L1251.9 619.6 L1251.1 619.8 L1250.4 619.8 L1249.7 619.7 L1249.0 619.4 L1248.4 619.0 L1247.8 618.5 L1247.3 617.8 L1246.9 617.0 L1246.6 616.1 L1246.4 615.2 L1246.2 614.1 L1246.2 613.0 L1246.3 611.9 L1246.4 610.7 L1246.7 609.6 L1247.0 608.5 L1247.5 607.4 L1248.0 606.4 L1248.6 605.4 L1249.2 604.6 L1249.9 603.8 L1250.6 603.2 L1251.4 602.8" fill="none" stroke="#000" stroke-width="2.40" stroke-linecap="round" stroke-linejoin="round"/>
<path d="M1258.0 588.0 L1266.0 585.0" fill="none" stroke="#000" stroke-width="3.12" stroke-linecap="butt" stroke-linejoin="round"/>
<path d="M1255.0 596.0 L1268.0 592.0" fill="none" stroke="#000" stroke-width="3.12" stroke-linecap="butt" stroke-linejoin="round"/>
<path d="M1258.0 603.0 L1274.0 599.0" fill="none" stroke="#000" stroke-width="3.12" stroke-linecap="butt" stroke-linejoin="round"/>
<path d="M1262.0 610.0 L1278.0 607.0" fill="none" stroke="#000" stroke-width="3.12" stroke-linecap="butt" stroke-linejoin="round"/>
<path d="M1262.0 617.0 L1277.0 615.0" fill="none" stroke="#000" stroke-width="3.12" stroke-linecap="butt" stroke-linejoin="round"/>
<path d="M1260.0 624.0 L1273.0 623.0" fill="none" stroke="#000" stroke-width="3.12" stroke-linecap="butt" stroke-linejoin="round"/>
<path d="M1244 592 l-3 5 M1241 600 l-2 6 M1240 610 l0 6 M1242 620 l3 5 M1248 628 l5 3" fill="none" stroke="#000" stroke-width="2.16" stroke-linecap="round" stroke-linejoin="round" />
<ellipse cx="1311.0" cy="595.0" rx="22.0" ry="13.3" fill="#fff" stroke="#000" stroke-width="2.88" transform="rotate(-105.8 1311.0 595.0)"/>
<ellipse cx="1309.8" cy="594.5" rx="22.0" ry="13.3" fill="#fff" stroke="#000" stroke-width="2.40" transform="rotate(-105.8 1309.8 594.5)"/>
<ellipse cx="1310.5" cy="594.5" rx="7.8" ry="3.8" fill="none" stroke="#000" stroke-width="2.40" transform="rotate(-105.8 1310.5 594.5)"/>
<ellipse cx="1311.2" cy="595.3" rx="4.6" ry="1.5" fill="#000" stroke="#000" stroke-width="1.80" transform="rotate(-105.8 1311.2 595.3)"/>
<circle cx="1309.7" cy="580.0" r="1.0" fill="#000" stroke="none" stroke-width="0"/>
<circle cx="1317.3" cy="588.2" r="1.0" fill="#000" stroke="none" stroke-width="0"/>
<circle cx="1319.5" cy="600.9" r="1.0" fill="#000" stroke="none" stroke-width="0"/>
<circle cx="1309.8" cy="609.0" r="1.0" fill="#000" stroke="none" stroke-width="0"/>
<circle cx="1302.2" cy="600.8" r="1.0" fill="#000" stroke="none" stroke-width="0"/>
<circle cx="1300.0" cy="588.1" r="1.0" fill="#000" stroke="none" stroke-width="0"/>
<path d="M1260.4 739.7 C1256.7 743.0 1249.8 737.3 1251.6 732.5 C1247.3 734.2 1242.9 725.8 1246.1 721.8 C1241.6 721.7 1240.4 711.7 1244.5 709.2 C1240.6 707.3 1242.7 697.0 1247.2 696.2 C1244.3 692.7 1249.5 683.6 1253.7 684.7 C1252.3 680.1 1259.8 673.3 1263.2 676.1 C1263.4 671.0 1272.3 667.5 1274.4 671.7 C1276.2 666.8 1285.2 667.0 1285.8 672.0 C1288.9 667.9 1296.9 671.9 1295.9 676.9" fill="#fff" stroke="#000" stroke-width="2.88" stroke-linecap="round" stroke-linejoin="round" />
<ellipse cx="1279.4" cy="705.4" rx="36.3" ry="30.6" fill="#fff" stroke="#000" stroke-width="2.88" transform="rotate(-69.0 1279.4 705.4)"/>
<path d="M1264.0 734.3 L1262.2 733.1 L1260.6 731.6 L1259.0 730.0 L1257.5 728.3 L1256.2 726.4 L1255.1 724.4 L1254.1 722.2 L1253.2 720.0 L1252.6 717.7 L1252.0 715.3 L1251.7 712.8 L1251.5 710.3 L1251.5 707.8 L1251.7 705.3 L1252.1 702.7 L1252.6 700.2 L1253.3 697.7 L1254.1 695.3 L1255.1 692.9 L1256.3 690.6 L1257.6 688.3 L1259.0 686.2 L1260.6 684.2 L1262.3 682.3 L1264.1 680.6 L1266.0 679.0 L1268.0 677.6 L1270.0 676.3 L1272.1 675.2 L1274.3 674.3 L1276.5 673.6 L1278.8 673.0 L1281.0 672.7 L1283.2 672.6 L1285.4 672.6 L1287.6 672.9" fill="none" stroke="#000" stroke-width="1.56" stroke-linecap="round" stroke-linejoin="round"/>
<path d="M1284.5 734.9 L1281.9 735.0 L1279.5 734.7 L1277.2 734.1 L1275.0 733.2 L1273.0 731.9 L1271.2 730.3 L1269.6 728.5 L1268.3 726.4 L1267.3 724.0 L1266.5 721.5 L1266.1 718.8 L1266.0 716.0 L1266.2 713.1 L1266.7 710.2 L1267.5 707.3 L1268.6 704.5 L1270.0 701.7 L1271.6 699.1 L1273.4 696.7 L1275.5 694.5 L1277.7 692.5 L1280.1 690.8 L1282.6 689.4 L1285.1 688.3 L1287.7 687.5 L1290.2 687.1 L1292.8 687.0 L1295.2 687.3 L1297.5 687.9 L1299.7 688.9 L1301.7 690.2 L1303.5 691.8 L1305.0 693.7 L1306.3 695.8 L1307.3 698.2 L1308.0 700.7" fill="none" stroke="#000" stroke-width="2.16" stroke-linecap="round" stroke-linejoin="round"/>
<ellipse cx="1290.7" cy="712.8" rx="15.7" ry="11.5" fill="#fff" stroke="#000" stroke-width="2.88" transform="rotate(-60.0 1290.7 712.8)"/>
<path d="M1289.9 701.4 L1300.5 707.1" fill="none" stroke="#000" stroke-width="1.56" stroke-linecap="butt" stroke-linejoin="round"/>
<path d="M1286.7 703.3 L1300.8 710.8" fill="none" stroke="#000" stroke-width="1.56" stroke-linecap="butt" stroke-linejoin="round"/>
<path d="M1284.3 705.7 L1300.2 714.1" fill="none" stroke="#000" stroke-width="1.56" stroke-linecap="butt" stroke-linejoin="round"/>
<path d="M1282.8 708.5 L1298.6 717.0" fill="none" stroke="#000" stroke-width="1.56" stroke-linecap="butt" stroke-linejoin="round"/>
<path d="M1281.2 711.4 L1297.1 719.8" fill="none" stroke="#000" stroke-width="1.56" stroke-linecap="butt" stroke-linejoin="round"/>
<path d="M1280.6 714.7 L1294.7 722.2" fill="none" stroke="#000" stroke-width="1.56" stroke-linecap="butt" stroke-linejoin="round"/>
<path d="M1280.9 718.4 L1291.5 724.1" fill="none" stroke="#000" stroke-width="1.56" stroke-linecap="butt" stroke-linejoin="round"/>
<ellipse cx="1330.8" cy="738.6" rx="33.5" ry="26.9" fill="#fff" stroke="#000" stroke-width="3.12" transform="rotate(-57.5 1330.8 738.6)"/>
<ellipse cx="1332.3" cy="737.7" rx="33.5" ry="26.9" fill="#fff" stroke="#000" stroke-width="2.64" transform="rotate(-57.5 1332.3 737.7)"/>
<ellipse cx="1331.5" cy="737.3" rx="18.8" ry="11.4" fill="none" stroke="#000" stroke-width="2.88" transform="rotate(-60.8 1331.5 737.3)"/>
<path d="M1351.9 718.2 L1351.4 719.1 L1350.8 719.8 L1349.9 720.3 L1349.1 720.5 L1348.4 720.3 L1347.8 719.7 L1347.6 718.9 L1347.6 718.0 L1348.0 717.1 L1348.6 716.3 L1349.4 715.7 L1350.2 715.4" fill="none" stroke="#000" stroke-width="2.04" stroke-linecap="round" stroke-linejoin="round"/>
<path d="M1356.1 734.6 L1355.7 735.5 L1355.0 736.2 L1354.2 736.7 L1353.4 736.8 L1352.6 736.6 L1352.1 736.1 L1351.8 735.3 L1351.9 734.4 L1352.2 733.5 L1352.8 732.6 L1353.6 732.1 L1354.4 731.8" fill="none" stroke="#000" stroke-width="2.04" stroke-linecap="round" stroke-linejoin="round"/>
<path d="M1347.6 752.9 L1347.2 753.8 L1346.5 754.6 L1345.7 755.1 L1344.9 755.2 L1344.2 755.0 L1343.6 754.5 L1343.4 753.7 L1343.4 752.8 L1343.8 751.8 L1344.4 751.0 L1345.2 750.4 L1346.0 750.2" fill="none" stroke="#000" stroke-width="2.04" stroke-linecap="round" stroke-linejoin="round"/>
<path d="M1331.4 762.5 L1331.0 763.4 L1330.3 764.2 L1329.5 764.6 L1328.7 764.8 L1328.0 764.6 L1327.4 764.0 L1327.2 763.3 L1327.2 762.3 L1327.6 761.4 L1328.2 760.6 L1329.0 760.0 L1329.8 759.8" fill="none" stroke="#000" stroke-width="2.04" stroke-linecap="round" stroke-linejoin="round"/>
<path d="M1317.0 757.7 L1316.6 758.6 L1315.9 759.3 L1315.1 759.8 L1314.2 760.0 L1313.5 759.8 L1313.0 759.2 L1312.7 758.4 L1312.8 757.5 L1313.1 756.6 L1313.7 755.8 L1314.5 755.2 L1315.3 754.9" fill="none" stroke="#000" stroke-width="2.04" stroke-linecap="round" stroke-linejoin="round"/>
<path d="M1312.7 741.3 L1312.3 742.2 L1311.6 743.0 L1310.8 743.4 L1310.0 743.6 L1309.3 743.4 L1308.7 742.8 L1308.5 742.1 L1308.5 741.1 L1308.9 740.2 L1309.5 739.4 L1310.3 738.8 L1311.1 738.6" fill="none" stroke="#000" stroke-width="2.04" stroke-linecap="round" stroke-linejoin="round"/>
<path d="M1321.2 722.9 L1320.8 723.8 L1320.1 724.6 L1319.3 725.1 L1318.5 725.2 L1317.7 725.0 L1317.2 724.5 L1316.9 723.7 L1317.0 722.8 L1317.3 721.8 L1317.9 721.0 L1318.7 720.5 L1319.5 720.2" fill="none" stroke="#000" stroke-width="2.04" stroke-linecap="round" stroke-linejoin="round"/>
<path d="M1337.4 713.4 L1337.0 714.3 L1336.3 715.0 L1335.5 715.5 L1334.7 715.6 L1333.9 715.4 L1333.4 714.9 L1333.1 714.1 L1333.2 713.2 L1333.5 712.3 L1334.1 711.5 L1334.9 710.9 L1335.7 710.6" fill="none" stroke="#000" stroke-width="2.04" stroke-linecap="round" stroke-linejoin="round"/>
<ellipse cx="538.5" cy="1030.7" rx="38.7" ry="24.7" fill="#fff" stroke="#000" stroke-width="2.88" transform="rotate(-103.6 538.5 1030.7)"/>
<ellipse cx="537.1" cy="1030.1" rx="38.7" ry="24.7" fill="#fff" stroke="#000" stroke-width="2.64" transform="rotate(-103.6 537.1 1030.1)"/>
<ellipse cx="535.5" cy="1031.2" rx="27.7" ry="16.4" fill="none" stroke="#000" stroke-width="3.12" transform="rotate(-101.9 535.5 1031.2)"/>
<path d="M544.8 1053.2 L543.8 1054.0 L542.7 1054.7 L541.6 1055.2 L540.4 1055.6 L539.2 1055.8 L538.0 1055.9 L536.8 1055.7 L535.5 1055.4 L534.2 1055.0 L533.0 1054.4 L531.7 1053.6 L530.5 1052.7 L529.3 1051.6 L528.2 1050.4 L527.1 1049.0 L526.0 1047.6 L525.0 1046.0 L524.1 1044.3 L523.3 1042.6 L522.5 1040.7 L521.8 1038.8 L521.2 1036.9 L520.7 1034.9 L520.3 1032.9 L520.0 1030.8 L519.8 1028.8 L519.7 1026.8 L519.7 1024.8 L519.8 1022.9 L520.0 1021.0 L520.3 1019.2 L520.8 1017.5 L521.3 1015.8 L521.9 1014.3 L522.6 1012.9 L523.3 1011.6" fill="none" stroke="#000" stroke-width="2.40" stroke-linecap="round" stroke-linejoin="round"/>
<path d="M583.1 975.5 L601.9 973.2 L604.2 972.4 L606.6 972.0 L609.1 972.1 L611.6 972.7 L614.1 973.6 L616.6 975.0 L619.0 976.8 L621.4 978.9 L623.6 981.5 L625.7 984.3 L627.7 987.5 L629.5 990.9 L631.1 994.6 L632.4 998.4 L633.6 1002.4 L634.5 1006.5 L635.2 1010.6 L635.6 1014.8 L635.8 1018.9 L635.7 1023.0 L635.3 1026.9 L634.7 1030.7 L633.8 1034.2 L632.7 1037.5 L631.3 1040.6 L629.8 1043.3 L628.0 1045.6 L626.1 1047.6 L624.0 1049.2 L621.8 1050.4 L603.6 1055.1" fill="#fff" stroke="#000" stroke-width="2.88" stroke-linecap="round" stroke-linejoin="round"/>
<ellipse cx="593.4" cy="1015.3" rx="41.4" ry="24.0" fill="#fff" stroke="#000" stroke-width="2.88" transform="rotate(-99.8 593.4 1015.3)"/>
<ellipse cx="593.5" cy="1016.5" rx="30.5" ry="16.4" fill="none" stroke="#000" stroke-width="2.88" transform="rotate(-107.2 593.5 1016.5)"/>
<path d="M595.4 1043.5 L594.3 1043.1 L593.3 1042.6 L592.2 1042.0 L591.1 1041.4 L590.1 1040.6 L589.0 1039.7 L588.0 1038.7 L587.0 1037.7 L586.0 1036.5 L585.0 1035.3 L584.1 1034.0 L583.2 1032.6 L582.3 1031.2 L581.5 1029.7 L580.7 1028.2 L580.0 1026.6 L579.3 1025.0 L578.7 1023.3 L578.1 1021.6 L577.6 1019.9 L577.1 1018.2 L576.7 1016.4 L576.4 1014.7 L576.1 1013.0 L575.9 1011.3 L575.8 1009.6 L575.7 1007.9 L575.7 1006.3 L575.7 1004.7 L575.9 1003.2 L576.0 1001.7 L576.3 1000.3 L576.6 998.9 L577.0 997.6 L577.4 996.4 L577.9 995.2" fill="none" stroke="#000" stroke-width="1.68" stroke-linecap="round" stroke-linejoin="round"/>
<path d="M592.8 989.8 L593.9 989.2 L594.9 988.7 L596.1 988.4 L597.3 988.3 L598.5 988.3 L599.7 988.5 L601.0 988.8 L602.3 989.3 L603.6 990.0 L604.8 990.8 L606.1 991.8 L607.4 992.9 L608.6 994.1 L609.8 995.5 L611.0 997.0 L612.2 998.6 L613.2 1000.3 L614.2 1002.1 L615.2 1004.0 L616.1 1005.9 L616.9 1007.9 L617.6 1010.0 L618.3 1012.0 L618.8 1014.1 L619.3 1016.2 L619.6 1018.3 L619.9 1020.4 L620.1 1022.5 L620.1 1024.5 L620.1 1026.5 L620.0 1028.4 L619.8 1030.2 L619.4 1031.9 L619.0 1033.5 L618.5 1035.0 L617.9 1036.4" fill="none" stroke="#000" stroke-width="2.64" stroke-linecap="round" stroke-linejoin="round"/>
<path d="M622.6 991.9 L623.3 993.2 L623.9 994.5 L624.6 995.9 L625.1 997.3 L625.7 998.7 L626.2 1000.1 L626.7 1001.6 L627.1 1003.1 L627.5 1004.6 L627.9 1006.2 L628.2 1007.7 L628.5 1009.2 L628.7 1010.8 L628.9 1012.4 L629.1 1013.9 L629.2 1015.5 L629.3 1017.0 L629.4 1018.6 L629.4 1020.1 L629.3 1021.6 L629.3 1023.1 L629.1 1024.6 L629.0 1026.1 L628.8 1027.5 L628.5 1028.9 L628.3 1030.3 L627.9 1031.7 L627.6 1033.0 L627.2 1034.2 L626.8 1035.5 L626.3 1036.7 L625.8 1037.8 L625.3 1038.9 L624.7 1039.9 L624.1 1040.9 L623.5 1041.9" fill="none" stroke="#000" stroke-width="1.56" stroke-linecap="round" stroke-linejoin="round"/>
<path d="M594.8 975.6 L598.0 977.0" fill="none" stroke="#000" stroke-width="1.44" stroke-linecap="butt" stroke-linejoin="round"/>
<path d="M649.2 975.0 L663.4 959.8 L665.3 958.1 L667.3 956.8 L669.4 955.7 L671.7 954.9 L674.0 954.5 L676.4 954.4 L678.8 954.6 L681.3 955.1 L683.8 956.0 L686.2 957.2 L688.7 958.6 L691.0 960.4 L693.3 962.4 L695.5 964.6 L697.6 967.1 L699.6 969.9 L701.4 972.8 L703.0 975.9 L704.5 979.1 L705.8 982.4 L706.9 985.9 L707.8 989.3 L708.4 992.8 L708.9 996.4 L709.1 999.8 L709.1 1003.3 L708.8 1006.6 L708.4 1009.8 L707.7 1012.9 L706.8 1015.8 L705.7 1018.5 L704.4 1021.0 L702.9 1023.3 L701.2 1025.3 L699.4 1027.0 L697.4 1028.5 L695.3 1029.6 L693.1 1030.5 L690.8 1031.0 L688.4 1031.2 L664.2 1025.3" fill="#fff" stroke="#000" stroke-width="3.12" stroke-linecap="round" stroke-linejoin="round"/>
<path d="M650.7 970.5 L669.2 958.8" fill="none" stroke="#000" stroke-width="3.60" stroke-linecap="butt" stroke-linejoin="round"/>
<path d="M657.5 970.1 L678.3 957.2" fill="none" stroke="#000" stroke-width="3.60" stroke-linecap="butt" stroke-linejoin="round"/>
<path d="M664.6 973.9 L687.9 960.8" fill="none" stroke="#000" stroke-width="3.60" stroke-linecap="butt" stroke-linejoin="round"/>
<path d="M670.9 981.3 L696.6 969.1" fill="none" stroke="#000" stroke-width="3.60" stroke-linecap="butt" stroke-linejoin="round"/>
<path d="M675.5 991.4 L703.2 980.8" fill="none" stroke="#000" stroke-width="3.60" stroke-linecap="butt" stroke-linejoin="round"/>
<path d="M677.7 1002.6 L706.8 994.2" fill="none" stroke="#000" stroke-width="3.60" stroke-linecap="butt" stroke-linejoin="round"/>
<path d="M677.3 1013.2 L706.7 1007.5" fill="none" stroke="#000" stroke-width="3.60" stroke-linecap="butt" stroke-linejoin="round"/>
<path d="M674.2 1021.8 L703.1 1018.6" fill="none" stroke="#000" stroke-width="3.60" stroke-linecap="butt" stroke-linejoin="round"/>
<path d="M668.9 1027.1 L696.3 1026.0" fill="none" stroke="#000" stroke-width="3.60" stroke-linecap="butt" stroke-linejoin="round"/>
<path d="M667.4 960.6 L669.3 959.3 L671.4 958.2 L673.7 957.5 L676.0 957.2 L678.3 957.1 L680.7 957.4 L683.2 958.0 L685.6 959.0 L688.0 960.3 L690.4 961.8 L692.7 963.7 L694.9 965.8 L697.0 968.2 L698.9 970.9 L700.8 973.7 L702.4 976.7 L703.9 979.9 L705.1 983.2 L706.2 986.5 L707.0 990.0 L707.7 993.4 L708.1 996.9 L708.2 1000.3 L708.1 1003.6 L707.8 1006.9 L707.3 1010.0 L706.5 1012.9 L705.5 1015.7 L704.3 1018.2 L702.9 1020.5 L701.3 1022.6 L699.5 1024.4 L697.6 1025.8 L695.5 1027.0 L693.3 1027.8 L691.1 1028.3" fill="none" stroke="#000" stroke-width="1.80" stroke-linecap="round" stroke-linejoin="round"/>
<ellipse cx="659.2" cy="999.1" rx="29.2" ry="18.4" fill="#fff" stroke="#000" stroke-width="2.64" transform="rotate(-103.7 659.2 999.1)"/>
<ellipse cx="659.2" cy="999.1" rx="26.7" ry="15.9" fill="#fff" stroke="#000" stroke-width="2.64" transform="rotate(-103.7 659.2 999.1)"/>
<ellipse cx="659.2" cy="999.1" rx="19.8" ry="11.7" fill="none" stroke="#000" stroke-width="2.64" transform="rotate(-103.7 659.2 999.1)"/>
<path d="M667.4 988.5 L667.9 989.5 L668.5 990.4 L669.0 991.5 L669.4 992.5 L669.9 993.6 L670.2 994.7 L670.6 995.8 L670.9 997.0 L671.1 998.1 L671.3 999.3 L671.4 1000.4 L671.5 1001.6 L671.6 1002.7 L671.6 1003.9 L671.5 1005.0 L671.4 1006.0 L671.3 1007.1 L671.1 1008.1 L670.8 1009.0 L670.5 1010.0 L670.2 1010.8 L669.8 1011.6 L669.4 1012.4 L668.9 1013.1 L668.4 1013.7 L667.9 1014.3 L667.3 1014.8 L666.7 1015.2 L666.1 1015.5 L665.4 1015.8 L664.8 1016.0 L664.1 1016.1 L663.4 1016.2 L662.7 1016.1 L661.9 1016.0 L661.2 1015.8" fill="none" stroke="#000" stroke-width="1.80" stroke-linecap="round" stroke-linejoin="round"/>
<path d="M844.1 923.8 L847.8 917.1 L852.2 913.4 L862.6 910.5 L871.4 911.2 L877.3 913.4 L884.7 915.7 L892.1 920.1 L897.3 926.7 L899.8 934.1 L901.3 943.0 L901.0 950.4 L898.8 957.0 L895.1 962.9 L889.9 968.1 L884.7 972.6 L879.5 976.2 L874.4 978.5 L868.5 978.5 L862.6 977.0 L858.1 971.1 L864.0 963.7 L868.5 951.9 L868.5 938.6 L862.6 928.2 L853.7 926.7 Z" fill="#fff" stroke="#000" stroke-width="3.36" stroke-linecap="round" stroke-linejoin="round"/>
<path d="M720 976.5 L748.8 967.4 L750 965 L766 960.5 L767 956 L788 950 L790 948 L818 938.5 L824 936 L846 929.5 L858 925 L866 938 L867 955 L861 966 L852 968 L826 973 L820 975 L790 981.5 L788 983.5 L769 987 L766.5 980.5 L752 983.5 L751 979.5 L722.5 987.8 L719 985 L718.5 979 Z" fill="#fff" stroke="#000" stroke-width="3.12" stroke-linecap="round" stroke-linejoin="round" />
<path d="M719.1 977.2 L719.3 977.1 L719.5 977.0 L719.8 977.0 L720.0 977.0 L720.3 977.0 L720.6 977.1 L720.9 977.3 L721.2 977.5 L721.4 977.7 L721.7 978.0 L722.0 978.3 L722.2 978.6 L722.5 979.0 L722.7 979.4 L722.9 979.8 L723.1 980.3 L723.3 980.8 L723.5 981.2 L723.6 981.7 L723.7 982.2 L723.8 982.7 L723.9 983.2 L723.9 983.6 L723.9 984.1 L723.9 984.5 L723.8 984.9 L723.8 985.3 L723.7 985.7 L723.5 986.0 L723.4 986.3 L723.2 986.5 L723.0 986.7 L722.8 986.9 L722.6 987.0 L722.3 987.0 L722.1 987.0" fill="none" stroke="#000" stroke-width="1.92" stroke-linecap="round" stroke-linejoin="round"/>
<path d="M752.0 966.8 L755.5 982.5" fill="none" stroke="#000" stroke-width="2.40" stroke-linecap="butt" stroke-linejoin="round"/>
<path d="M755.5 965.8 L759.0 981.5" fill="none" stroke="#000" stroke-width="2.40" stroke-linecap="butt" stroke-linejoin="round"/>
<path d="M759.0 964.7 L762.5 980.4" fill="none" stroke="#000" stroke-width="2.40" stroke-linecap="butt" stroke-linejoin="round"/>
<path d="M762.5 963.6 L766.0 979.4" fill="none" stroke="#000" stroke-width="2.40" stroke-linecap="butt" stroke-linejoin="round"/>
<path d="M768.5 959.0 L787.5 953.0" fill="none" stroke="#000" stroke-width="1.80" stroke-linecap="butt" stroke-linejoin="round"/>
<path d="M768.5 963.3 L787.5 957.3" fill="none" stroke="#000" stroke-width="1.80" stroke-linecap="butt" stroke-linejoin="round"/>
<path d="M768.5 967.6 L787.5 961.6" fill="none" stroke="#000" stroke-width="1.80" stroke-linecap="butt" stroke-linejoin="round"/>
<path d="M768.5 971.9 L787.5 965.9" fill="none" stroke="#000" stroke-width="1.80" stroke-linecap="butt" stroke-linejoin="round"/>
<path d="M768.5 976.2 L787.5 970.2" fill="none" stroke="#000" stroke-width="1.80" stroke-linecap="butt" stroke-linejoin="round"/>
<path d="M768.5 980.5 L787.5 974.5" fill="none" stroke="#000" stroke-width="1.80" stroke-linecap="butt" stroke-linejoin="round"/>
<path d="M788.0 950.5 L792.0 965.0 L789.0 982.5" fill="none" stroke="#000" stroke-width="2.16" stroke-linecap="butt" stroke-linejoin="round"/>
<path d="M767.0 956.5 L770.0 972.0 L768.0 986.0" fill="none" stroke="#000" stroke-width="2.16" stroke-linecap="butt" stroke-linejoin="round"/>
<path d="M818 939 C824 948 825 962 820 974.5" fill="none" stroke="#000" stroke-width="2.40" stroke-linecap="round" stroke-linejoin="round" />
<path d="M824 936.5 C831 947 831 962 826 973" fill="none" stroke="#000" stroke-width="2.40" stroke-linecap="round" stroke-linejoin="round" />
<path d="M800 958 C802 964 802 972 800.5 978" fill="none" stroke="#000" stroke-width="1.44" stroke-linecap="round" stroke-linejoin="round" />
<path d="M846 930 C852 942 852 958 846 969.5" fill="none" stroke="#000" stroke-width="1.68" stroke-linecap="round" stroke-linejoin="round" />
<path d="M836 947 C837 955 836 962 834 968" fill="none" stroke="#000" stroke-width="1.44" stroke-linecap="round" stroke-linejoin="round" />
<path d="M856.6 926.7 C872.2 935.6 873.6 956.3 862.6 970.3" fill="none" stroke="#000" stroke-width="2.88" stroke-linecap="round" stroke-linejoin="round" />
<path d="M853.7 915.7 Q862.6 921.6 865.5 932.7" fill="none" stroke="#000" stroke-width="3.12" stroke-linecap="round" stroke-linejoin="round" />
<path d="M864.0 912.0 Q875.1 922.3 875.9 937.1" fill="none" stroke="#000" stroke-width="3.12" stroke-linecap="round" stroke-linejoin="round" />
<path d="M877.3 914.2 Q886.9 926.7 884.7 943.7" fill="none" stroke="#000" stroke-width="3.12" stroke-linecap="round" stroke-linejoin="round" />
<path d="M889.9 921.6 Q895.8 937.1 890.6 952.6" fill="none" stroke="#000" stroke-width="3.12" stroke-linecap="round" stroke-linejoin="round" />
<path d="M898.0 937.1 Q897.3 954.1 887.7 964.4" fill="none" stroke="#000" stroke-width="3.12" stroke-linecap="round" stroke-linejoin="round" />
<path d="M897.3 957.0 Q888.4 967.4 877.3 970.3" fill="none" stroke="#000" stroke-width="3.12" stroke-linecap="round" stroke-linejoin="round" />
<path d="M885.5 971.1 Q875.1 973.3 867.0 970.3" fill="none" stroke="#000" stroke-width="3.12" stroke-linecap="round" stroke-linejoin="round" />
<path d="M847.8 919.4 Q853.7 922.3 855.2 928.2" fill="none" stroke="#000" stroke-width="1.92" stroke-linecap="round" stroke-linejoin="round" />
<path d="M871.4 913.4 Q879.5 920.1 881.0 928.2" fill="none" stroke="#000" stroke-width="1.92" stroke-linecap="round" stroke-linejoin="round" />
<path d="M884.0 917.9 Q890.6 926.7 889.2 935.6" fill="none" stroke="#000" stroke-width="1.92" stroke-linecap="round" stroke-linejoin="round" />
<path d="M895.1 928.2 Q898.0 940.0 893.6 946.0" fill="none" stroke="#000" stroke-width="1.92" stroke-linecap="round" stroke-linejoin="round" />
<path d="M899.5 947.4 Q895.1 957.8 890.6 960.7" fill="none" stroke="#000" stroke-width="1.92" stroke-linecap="round" stroke-linejoin="round" />
<path d="M892.1 965.2 Q884.7 968.9 881.8 968.9" fill="none" stroke="#000" stroke-width="1.92" stroke-linecap="round" stroke-linejoin="round" />
<ellipse cx="853.3" cy="861.7" rx="31.8" ry="27.8" fill="#000" stroke="#000" stroke-width="3.12" transform="rotate(-80.9 853.3 861.7)"/>
<ellipse cx="859.8" cy="858.7" rx="31.8" ry="27.8" fill="#fff" stroke="#000" stroke-width="2.88" transform="rotate(-80.9 859.8 858.7)"/>
<ellipse cx="841.6" cy="888.2" rx="3.0" ry="1.3" fill="#fff" stroke="none" transform="rotate(-115.9 841.6 888.2)"/>
<ellipse cx="834.7" cy="882.0" rx="3.0" ry="1.3" fill="#fff" stroke="none" transform="rotate(-106.5 834.7 882.0)"/>
<ellipse cx="829.9" cy="873.4" rx="3.0" ry="1.3" fill="#fff" stroke="none" transform="rotate(-97.1 829.9 873.4)"/>
<ellipse cx="827.9" cy="863.4" rx="3.0" ry="1.3" fill="#fff" stroke="none" transform="rotate(-87.8 827.9 863.4)"/>
<ellipse cx="828.9" cy="853.1" rx="3.0" ry="1.3" fill="#fff" stroke="none" transform="rotate(-78.4 828.9 853.1)"/>
<ellipse cx="832.7" cy="843.5" rx="3.0" ry="1.3" fill="#fff" stroke="none" transform="rotate(-69.0 832.7 843.5)"/>
<ellipse cx="838.9" cy="835.8" rx="3.0" ry="1.3" fill="#fff" stroke="none" transform="rotate(-59.6 838.9 835.8)"/>
<ellipse cx="847.0" cy="830.6" rx="3.0" ry="1.3" fill="#fff" stroke="none" transform="rotate(-50.3 847.0 830.6)"/>
<ellipse cx="856.0" cy="828.5" rx="3.0" ry="1.3" fill="#fff" stroke="none" transform="rotate(-40.9 856.0 828.5)"/>
<ellipse cx="861.0" cy="862.0" rx="29.2" ry="22.7" fill="none" stroke="#000" stroke-width="2.16" transform="rotate(-69.0 861.0 862.0)"/>
<ellipse cx="861.0" cy="862.0" rx="27.2" ry="20.7" fill="none" stroke="#000" stroke-width="1.56" transform="rotate(-69.0 861.0 862.0)"/>
<ellipse cx="860.4" cy="862.9" rx="19.0" ry="13.7" fill="#fff" stroke="#000" stroke-width="3.12" transform="rotate(-65.1 860.4 862.9)"/>
<path d="M868.9 870.1 L868.4 870.9 L867.9 871.7 L867.4 872.5 L866.8 873.2 L866.2 873.9 L865.6 874.6 L865.0 875.2 L864.3 875.8 L863.6 876.4 L862.9 876.9 L862.2 877.4 L861.5 877.8 L860.8 878.2 L860.1 878.5 L859.3 878.8 L858.6 879.0 L857.9 879.2 L857.1 879.4 L856.4 879.4 L855.7 879.5 L855.0 879.4 L854.3 879.3 L853.6 879.2 L852.9 879.0 L852.3 878.8 L851.7 878.5 L851.1 878.2 L850.5 877.8 L850.0 877.3 L849.4 876.9 L849.0 876.3 L848.5 875.8 L848.1 875.2 L847.7 874.5 L847.4 873.8 L847.1 873.1" fill="none" stroke="#000" stroke-width="2.16" stroke-linecap="round" stroke-linejoin="round"/>
<path d="M874.8 848.6 L875.2 849.2 L875.5 849.7 L875.9 850.3 L876.2 850.9 L876.4 851.5 L876.7 852.2 L876.9 852.9 L877.1 853.6 L877.3 854.3 L877.4 855.1 L877.5 855.8 L877.5 856.6 L877.6 857.4 L877.6 858.2 L877.5 859.0 L877.5 859.8 L877.4 860.6 L877.2 861.4 L877.1 862.2 L876.9 863.0 L876.6 863.9 L876.4 864.7 L876.1 865.5 L875.8 866.3 L875.4 867.0 L875.1 867.8 L874.7 868.6 L874.3 869.3 L873.8 870.0 L873.4 870.8 L872.9 871.4 L872.3 872.1 L871.8 872.7 L871.3 873.3 L870.7 873.9 L870.1 874.5" fill="none" stroke="#000" stroke-width="1.92" stroke-linecap="round" stroke-linejoin="round"/>
<ellipse cx="986.0" cy="936.9" rx="91.2" ry="65.7" fill="#fff" stroke="none" transform="rotate(-57.1 986.0 936.9)"/>
<path d="M1051.4 877.1 L1054.2 882.6 L1056.5 888.4 L1058.3 894.6 L1059.5 901.2 L1060.1 908.0 L1060.2 915.0 L1059.7 922.2 L1058.6 929.5 L1057.0 936.9 L1054.9 944.2 L1052.2 951.5 L1049.0 958.7 L1045.4 965.8 L1041.3 972.6 L1036.7 979.1 L1031.8 985.3 L1026.6 991.2 L1021.0 996.6 L1015.2 1001.6 L1009.1 1006.1 L1002.9 1010.1 L996.5 1013.5 L990.1 1016.3 L983.6 1018.5 L977.2 1020.1 L970.8 1021.1 L964.5 1021.4 L958.4 1021.1 L952.5 1020.1 L946.9 1018.5 L941.6 1016.3 L936.6 1013.5 L931.9 1010.1 L927.7 1006.1 L924.0 1001.7 L920.7 996.7" fill="none" stroke="#000" stroke-width="3.84" stroke-linecap="round" stroke-linejoin="round"/>
<path d="M925.4 995.3 Q921.7 998.4 919.8 997.8 L918.6 995.7 Q919.7 992.2 922.1 989.3 Q918.2 992.0 916.4 991.1 L915.5 988.9 Q916.9 985.4 919.5 982.7 Q915.5 985.0 913.8 983.9 L913.2 981.5 Q914.8 978.0 917.5 975.6 Q913.5 977.5 912.0 976.1 L911.6 973.6 Q913.5 970.3 916.4 968.1 Q912.3 969.5 911.0 968.0 L910.9 965.3 Q913.0 962.1 916.0 960.3 Q911.9 961.2 910.8 959.4 L910.9 956.6 Q913.3 953.7 916.3 952.2 Q912.3 952.6 911.5 950.7 L911.8 947.8 Q914.4 945.1 917.5 943.9 Q913.6 943.9 912.9 941.7 L913.6 938.9 Q916.3 936.4 919.4 935.5 Q915.6 935.0 915.2 932.8 L916.1 929.9 Q919.0 927.7 922.0 927.2 Q918.4 926.2 918.2 923.8 L919.3 921.0 Q922.3 919.1 925.3 919.0 Q921.9 917.5 922.0 915.0 L923.4 912.3 Q926.4 910.7 929.3 910.9 Q926.2 909.0 926.5 906.5 L928.0 903.8 Q931.2 902.6 933.9 903.2 Q931.1 900.8 931.6 898.3 L933.4 895.7 Q936.5 894.8 939.0 895.8 Q936.6 893.0 937.3 890.5 L939.3 888.1 Q942.4 887.5 944.7 888.9 Q942.6 885.7 943.6 883.2 L945.7 881.0 Q948.7 880.8 950.9 882.5 Q949.2 879.0 950.3 876.5 L952.6 874.5 Q955.5 874.7 957.4 876.7 Q956.1 872.9 957.5 870.5 L959.8 868.7 Q962.6 869.2 964.2 871.5 Q963.3 867.5 964.9 865.2 L967.3 863.6 Q970.0 864.5 971.3 867.1 Q970.8 862.8 972.6 860.6 L975.0 859.4 Q977.5 860.6 978.6 863.4 Q978.5 859.0 980.4 857.0 L982.9 856.0 Q985.1 857.6 985.9 860.5 Q986.3 856.0 988.2 854.1 L990.8 853.4 Q992.8 855.4 993.2 858.5 Q994.0 853.9 996.1 852.2 L998.6 851.8 Q1000.3 854.1 1000.5 857.4 Q1001.7 852.7 1003.8 851.3 L1006.3 851.2 Q1007.7 853.7 1007.6 857.1 Q1009.2 852.4 1011.4 851.2 L1013.7 851.4 Q1014.9 854.2 1014.4 857.6 Q1016.4 853.1 1018.7 852.1 L1020.9 852.6 Q1021.8 855.6 1020.9 859.1 Q1023.3 854.7 1025.6 854.0 L1027.7 854.7 Q1028.2 857.9 1027.1 861.4 Q1029.8 857.1 1032.0 856.7 L1034.0 857.8 Q1034.2 861.1 1032.8 864.5 Q1035.8 860.5 1038.0 860.3 L1039.8 861.7 Q1039.7 865.1 1038.0 868.4 Q1041.3 864.7 1043.4 864.8 L1045.0 866.4 Q1044.6 869.9 1042.6 873.1 Q1046.2 869.7 1048.2 870.0 L1049.6 871.9 Q1048.8 875.4 1046.7 878.5 Q1050.4 875.4 1052.3 876.0 L1053.5 878.1 Q1052.4 881.6 1050.0 884.5" fill="none" stroke="#000" stroke-width="3.00" stroke-linecap="round" stroke-linejoin="round" />
<path d="M988.8 1018.7 L981.0 1019.6 L973.3 1019.5 L966.0 1018.1 L959.1 1015.7 L952.7 1012.2 L947.0 1007.7 L941.9 1002.2 L937.6 995.8 L934.1 988.6 L931.5 980.8 L929.8 972.4 L929.0 963.5 L929.2 954.3 L930.4 945.0 L932.5 935.6 L935.5 926.3 L939.4 917.2 L944.0 908.5 L949.5 900.3 L955.5 892.7 L962.1 885.8 L969.2 879.8 L976.7 874.6 L984.4 870.5 L992.3 867.4 L1000.2 865.4 L1008.0 864.5 L1015.6 864.8 L1022.8 866.2 L1029.7 868.7 L1036.0 872.3 L1041.8 876.9 L1046.8 882.5 L1051.0 888.9 L1054.5 896.2 L1057.0 904.1" fill="none" stroke="#000" stroke-width="2.76" stroke-linecap="round" stroke-linejoin="round"/>
<path d="M968.6 1016.5 L962.4 1014.5 L956.7 1011.7 L951.4 1008.0 L946.7 1003.6 L942.5 998.4 L938.9 992.6 L936.1 986.1 L933.9 979.2 L932.4 971.8 L931.7 964.0 L931.7 956.0 L932.5 947.8 L934.1 939.6 L936.4 931.4 L939.3 923.3 L942.9 915.4 L947.2 907.9 L952.0 900.7 L957.4 894.1 L963.1 888.0 L969.3 882.6 L975.8 877.8 L982.5 873.9 L989.3 870.7 L996.2 868.4 L1003.1 867.0 L1010.0 866.4 L1016.6 866.8 L1023.0 868.1 L1029.0 870.2 L1034.7 873.2 L1039.9 877.0 L1044.5 881.6 L1048.6 886.9 L1052.0 892.9 L1054.7 899.4" fill="none" stroke="#000" stroke-width="1.80" stroke-linecap="round" stroke-linejoin="round"/>
<path d="M965.3 888.2 L971.7 882.5 L978.5 877.7 L985.5 873.9 L992.5 871.2 L999.5 869.5 L1006.3 869.0 L1012.9 869.6 L1019.1 871.4 L1024.9 874.2 L1030.1 878.1 L1034.7 883.0 L1038.6 888.8 L1041.7 895.4 L1044.0 902.7 L1045.4 910.6 L1046.0 919.0 L1045.7 927.8 L1044.5 936.7 L1042.4 945.7 L1039.5 954.7 L1035.9 963.4 L1031.5 971.7 L1026.5 979.5 L1020.8 986.8 L1014.7 993.2 L1008.2 998.9 L1001.5 1003.6 L994.5 1007.3 L987.5 1010.0 L980.5 1011.6 L973.7 1012.0 L967.1 1011.3 L960.9 1009.5 L955.2 1006.5 L950.0 1002.6 L945.5 997.6" fill="none" stroke="#000" stroke-width="1.80" stroke-linecap="round" stroke-linejoin="round"/>
<ellipse cx="990.0" cy="941.4" rx="59.5" ry="32.8" fill="#fff" stroke="#000" stroke-width="4.08" transform="rotate(-61.4 990.0 941.4)"/>
<path d="M1012.2 896.3 L1013.9 898.0 L1015.4 900.0 L1016.7 902.3 L1017.8 904.8 L1018.7 907.5 L1019.4 910.4 L1019.9 913.5 L1020.2 916.7 L1020.3 920.1 L1020.1 923.6 L1019.8 927.3 L1019.2 931.0 L1018.5 934.8 L1017.5 938.7 L1016.3 942.6 L1014.9 946.5 L1013.4 950.4 L1011.7 954.2 L1009.8 958.0 L1007.7 961.8 L1005.5 965.4 L1003.2 968.9 L1000.8 972.3 L998.2 975.5 L995.6 978.6 L992.8 981.5 L990.1 984.2 L987.2 986.6 L984.3 988.9 L981.5 990.9 L978.6 992.6 L975.7 994.1 L972.8 995.3 L970.0 996.3 L967.3 996.9 L964.6 997.3" fill="none" stroke="#000" stroke-width="3.84" stroke-linecap="round" stroke-linejoin="round"/>
<path d="M1032.1 896.1 L1033.1 898.3 L1034.0 900.6 L1034.7 903.0 L1035.3 905.6 L1035.7 908.4 L1035.9 911.3 L1036.0 914.2 L1035.9 917.3 L1035.7 920.5 L1035.3 923.8 L1034.7 927.1 L1034.0 930.4 L1033.2 933.8 L1032.1 937.3 L1031.0 940.7 L1029.7 944.2 L1028.2 947.6 L1026.7 951.0 L1025.0 954.3 L1023.2 957.6 L1021.3 960.8 L1019.2 963.9 L1017.1 967.0 L1014.9 969.9 L1012.7 972.7 L1010.3 975.4 L1007.9 978.0 L1005.4 980.3 L1003.0 982.6 L1000.4 984.6 L997.9 986.5 L995.3 988.2 L992.8 989.7 L990.3 991.0 L987.7 992.1 L985.2 993.0" fill="none" stroke="#000" stroke-width="1.92" stroke-linecap="round" stroke-linejoin="round"/>
<circle cx="1021.3" cy="915.3" r="1.3" fill="#000" stroke="none" stroke-width="0"/>
<circle cx="1021.1" cy="926.0" r="1.3" fill="#000" stroke="none" stroke-width="0"/>
<circle cx="1019.0" cy="937.7" r="1.3" fill="#000" stroke="none" stroke-width="0"/>
<circle cx="1014.9" cy="949.7" r="1.3" fill="#000" stroke="none" stroke-width="0"/>
<circle cx="1009.2" cy="961.4" r="1.3" fill="#000" stroke="none" stroke-width="0"/>
<circle cx="1002.0" cy="972.2" r="1.3" fill="#000" stroke="none" stroke-width="0"/>
<circle cx="993.9" cy="981.6" r="1.3" fill="#000" stroke="none" stroke-width="0"/>
<circle cx="985.2" cy="989.2" r="1.3" fill="#000" stroke="none" stroke-width="0"/>
<circle cx="976.3" cy="994.4" r="1.3" fill="#000" stroke="none" stroke-width="0"/>
<path d="M1033.4 882.7 L1033.0 884.1 L1032.2 885.4 L1031.1 886.3 L1029.9 886.9 L1028.7 887.1 L1027.6 886.8 L1026.7 886.1 L1026.2 885.0 L1026.0 883.7 L1026.3 882.3 L1027.0 881.0 L1028.0 879.9 L1029.1 879.2 L1030.4 878.9" fill="none" stroke="#000" stroke-width="2.88" stroke-linecap="round" stroke-linejoin="round"/>
<circle cx="1028.7" cy="883.3" r="1.9" fill="#000" stroke="none" stroke-width="0"/>
<path d="M1044.4 912.3 L1044.0 913.6 L1043.2 914.9 L1042.1 915.9 L1040.9 916.5 L1039.7 916.6 L1038.6 916.3 L1037.7 915.6 L1037.1 914.5 L1037.0 913.2 L1037.3 911.8 L1038.0 910.5 L1038.9 909.4 L1040.1 908.7 L1041.4 908.4" fill="none" stroke="#000" stroke-width="2.88" stroke-linecap="round" stroke-linejoin="round"/>
<circle cx="1039.7" cy="912.8" r="1.9" fill="#000" stroke="none" stroke-width="0"/>
<path d="M1034.9 951.3 L1034.5 952.7 L1033.7 953.9 L1032.6 954.9 L1031.4 955.5 L1030.2 955.7 L1029.0 955.4 L1028.2 954.6 L1027.6 953.6 L1027.5 952.3 L1027.8 950.9 L1028.4 949.6 L1029.4 948.5 L1030.6 947.7 L1031.9 947.4" fill="none" stroke="#000" stroke-width="2.88" stroke-linecap="round" stroke-linejoin="round"/>
<circle cx="1030.2" cy="951.9" r="1.9" fill="#000" stroke="none" stroke-width="0"/>
<path d="M1008.5 984.9 L1008.1 986.3 L1007.3 987.6 L1006.2 988.5 L1005.0 989.1 L1003.8 989.3 L1002.7 989.0 L1001.8 988.3 L1001.2 987.2 L1001.1 985.9 L1001.4 984.5 L1002.1 983.2 L1003.0 982.1 L1004.2 981.4 L1005.5 981.1" fill="none" stroke="#000" stroke-width="2.88" stroke-linecap="round" stroke-linejoin="round"/>
<circle cx="1003.8" cy="985.5" r="1.9" fill="#000" stroke="none" stroke-width="0"/>
<path d="M975.3 1000.3 L974.9 1001.7 L974.1 1002.9 L973.1 1003.9 L971.8 1004.5 L970.6 1004.7 L969.5 1004.4 L968.6 1003.7 L968.1 1002.6 L967.9 1001.3 L968.2 999.9 L968.9 998.6 L969.9 997.5 L971.0 996.8 L972.3 996.4" fill="none" stroke="#000" stroke-width="2.88" stroke-linecap="round" stroke-linejoin="round"/>
<circle cx="970.7" cy="1000.9" r="1.9" fill="#000" stroke="none" stroke-width="0"/>
<path d="M948.0 991.6 L947.6 992.9 L946.8 994.2 L945.8 995.2 L944.6 995.8 L943.3 995.9 L942.2 995.6 L941.3 994.9 L940.8 993.8 L940.6 992.5 L940.9 991.1 L941.6 989.8 L942.6 988.7 L943.8 988.0 L945.0 987.7" fill="none" stroke="#000" stroke-width="2.88" stroke-linecap="round" stroke-linejoin="round"/>
<circle cx="943.4" cy="992.1" r="1.9" fill="#000" stroke="none" stroke-width="0"/>
<path d="M937.0 962.0 L936.6 963.4 L935.8 964.7 L934.8 965.6 L933.6 966.2 L932.3 966.4 L931.2 966.1 L930.3 965.4 L929.8 964.3 L929.7 963.0 L929.9 961.6 L930.6 960.3 L931.6 959.2 L932.8 958.5 L934.0 958.2" fill="none" stroke="#000" stroke-width="2.88" stroke-linecap="round" stroke-linejoin="round"/>
<circle cx="932.4" cy="962.6" r="1.9" fill="#000" stroke="none" stroke-width="0"/>
<path d="M946.6 923.0 L946.1 924.4 L945.4 925.6 L944.3 926.6 L943.1 927.2 L941.8 927.4 L940.7 927.1 L939.8 926.3 L939.3 925.3 L939.2 924.0 L939.5 922.6 L940.1 921.3 L941.1 920.2 L942.3 919.4 L943.5 919.1" fill="none" stroke="#000" stroke-width="2.88" stroke-linecap="round" stroke-linejoin="round"/>
<circle cx="941.9" cy="923.5" r="1.9" fill="#000" stroke="none" stroke-width="0"/>
<path d="M972.9 889.4 L972.5 890.7 L971.7 892.0 L970.7 893.0 L969.5 893.6 L968.2 893.7 L967.1 893.4 L966.2 892.7 L965.7 891.6 L965.6 890.3 L965.8 888.9 L966.5 887.6 L967.5 886.5 L968.7 885.8 L969.9 885.5" fill="none" stroke="#000" stroke-width="2.88" stroke-linecap="round" stroke-linejoin="round"/>
<circle cx="968.3" cy="889.9" r="1.9" fill="#000" stroke="none" stroke-width="0"/>
<path d="M1006.1 874.0 L1005.7 875.4 L1004.9 876.6 L1003.9 877.6 L1002.6 878.2 L1001.4 878.4 L1000.3 878.1 L999.4 877.3 L998.9 876.3 L998.7 874.9 L999.0 873.6 L999.7 872.3 L1000.7 871.2 L1001.8 870.4 L1003.1 870.1" fill="none" stroke="#000" stroke-width="2.88" stroke-linecap="round" stroke-linejoin="round"/>
<circle cx="1001.4" cy="874.5" r="1.9" fill="#000" stroke="none" stroke-width="0"/>
<path d="M1130 962 C1110 963 1090 966 1073 969.5 C1062 974 1055 984 1056 996 C1057 1006 1061 1012 1063 1016 C1066 1028 1072 1038 1078 1044 L1090 1060 L1130 1000 Z" fill="#fff" stroke="#000" stroke-width="3.12" stroke-linecap="round" stroke-linejoin="round" />
<path d="M1081 972 C1074 985 1074 1000 1078 1012" fill="none" stroke="#000" stroke-width="1.92" stroke-linecap="round" stroke-linejoin="round" />
<path d="M1092 968 C1086 978 1084 990 1085 998" fill="none" stroke="#000" stroke-width="1.68" stroke-linecap="round" stroke-linejoin="round" />
<path d="M1100 975 C1110 971 1120 968 1128 967" fill="none" stroke="#000" stroke-width="1.56" stroke-linecap="round" stroke-linejoin="round" />
<path d="M1086 990 C1092 984 1100 980 1110 977" fill="none" stroke="#000" stroke-width="1.56" stroke-linecap="round" stroke-linejoin="round" />
<path d="M1090 996 L1098 990 M1088 984 L1092 992" fill="none" stroke="#000" stroke-width="1.80" stroke-linecap="round" stroke-linejoin="round" />
<path d="M1063 1000 L1070 1030 M1068 1004 L1074 1026" fill="none" stroke="#000" stroke-width="1.68" stroke-linecap="round" stroke-linejoin="round" />
<circle cx="1077.0" cy="1029.0" r="3.2" fill="#000" stroke="none" stroke-width="0"/>
<ellipse cx="1140.8" cy="1030.6" rx="81.1" ry="58.9" fill="#fff" stroke="#000" stroke-width="4.08" transform="rotate(-58.9 1140.8 1030.6)"/>
<ellipse cx="1142.3" cy="1031.1" rx="76.3" ry="55.4" fill="none" stroke="#000" stroke-width="2.16" transform="rotate(-58.9 1142.3 1031.1)"/>
<path d="M1175.5 1010.6 L1190.2 978.7" fill="none" stroke="#000" stroke-width="2.52" stroke-linecap="butt" stroke-linejoin="round"/>
<path d="M1180.2 1014.6 L1193.3 983.7" fill="none" stroke="#000" stroke-width="2.52" stroke-linecap="butt" stroke-linejoin="round"/>
<path d="M1185.3 1023.6 L1199.8 1014.7" fill="none" stroke="#000" stroke-width="2.52" stroke-linecap="butt" stroke-linejoin="round"/>
<path d="M1186.9 1030.6 L1199.2 1021.8" fill="none" stroke="#000" stroke-width="2.52" stroke-linecap="butt" stroke-linejoin="round"/>
<path d="M1186.4 1042.4 L1186.9 1056.8" fill="none" stroke="#000" stroke-width="2.52" stroke-linecap="butt" stroke-linejoin="round"/>
<path d="M1184.2 1049.7 L1182.8 1063.2" fill="none" stroke="#000" stroke-width="2.52" stroke-linecap="butt" stroke-linejoin="round"/>
<path d="M1178.3 1059.8 L1156.4 1088.8" fill="none" stroke="#000" stroke-width="2.52" stroke-linecap="butt" stroke-linejoin="round"/>
<path d="M1173.2 1064.6 L1150.4 1092.2" fill="none" stroke="#000" stroke-width="2.52" stroke-linecap="butt" stroke-linejoin="round"/>
<path d="M1164.1 1069.1 L1120.0 1098.6" fill="none" stroke="#000" stroke-width="2.52" stroke-linecap="butt" stroke-linejoin="round"/>
<path d="M1158.1 1069.7 L1114.4 1097.6" fill="none" stroke="#000" stroke-width="2.52" stroke-linecap="butt" stroke-linejoin="round"/>
<path d="M1149.2 1067.0 L1091.5 1082.4" fill="none" stroke="#000" stroke-width="2.52" stroke-linecap="butt" stroke-linejoin="round"/>
<path d="M1144.5 1063.0 L1088.4 1077.4" fill="none" stroke="#000" stroke-width="2.52" stroke-linecap="butt" stroke-linejoin="round"/>
<path d="M1139.4 1054.0 L1081.9 1046.4" fill="none" stroke="#000" stroke-width="2.52" stroke-linecap="butt" stroke-linejoin="round"/>
<path d="M1137.8 1047.0 L1082.5 1039.3" fill="none" stroke="#000" stroke-width="2.52" stroke-linecap="butt" stroke-linejoin="round"/>
<path d="M1138.3 1035.2 L1094.8 1004.3" fill="none" stroke="#000" stroke-width="2.52" stroke-linecap="butt" stroke-linejoin="round"/>
<path d="M1140.5 1027.9 L1098.9 997.9" fill="none" stroke="#000" stroke-width="2.52" stroke-linecap="butt" stroke-linejoin="round"/>
<path d="M1146.4 1017.8 L1125.3 972.3" fill="none" stroke="#000" stroke-width="2.52" stroke-linecap="butt" stroke-linejoin="round"/>
<path d="M1151.5 1013.0 L1131.3 968.9" fill="none" stroke="#000" stroke-width="2.52" stroke-linecap="butt" stroke-linejoin="round"/>
<path d="M1160.6 1008.5 L1161.7 962.5" fill="none" stroke="#000" stroke-width="2.52" stroke-linecap="butt" stroke-linejoin="round"/>
<path d="M1166.6 1007.9 L1167.3 963.5" fill="none" stroke="#000" stroke-width="2.52" stroke-linecap="butt" stroke-linejoin="round"/>
<ellipse cx="1177.2" cy="975.8" rx="10.8" ry="7.5" fill="#fff" stroke="#000" stroke-width="3.24" transform="rotate(-58.9 1177.2 975.8)"/>
<ellipse cx="1177.2" cy="975.8" rx="6.7" ry="4.7" fill="#000" stroke="#000" stroke-width="2.40" transform="rotate(-58.9 1177.2 975.8)"/>
<ellipse cx="1178.4" cy="975.2" rx="4.4" ry="2.9" fill="#fff" stroke="none" transform="rotate(-58.9 1178.4 975.2)"/>
<ellipse cx="1177.6" cy="975.6" rx="1.6" ry="1.0" fill="#000" stroke="none" transform="rotate(-58.9 1177.6 975.6)"/>
<ellipse cx="1193.6" cy="1001.7" rx="10.8" ry="7.5" fill="#fff" stroke="#000" stroke-width="3.24" transform="rotate(-58.9 1193.6 1001.7)"/>
<ellipse cx="1193.6" cy="1001.7" rx="6.7" ry="4.7" fill="#000" stroke="#000" stroke-width="2.40" transform="rotate(-58.9 1193.6 1001.7)"/>
<ellipse cx="1194.8" cy="1001.1" rx="4.4" ry="2.9" fill="#fff" stroke="none" transform="rotate(-58.9 1194.8 1001.1)"/>
<ellipse cx="1194.0" cy="1001.5" rx="1.6" ry="1.0" fill="#000" stroke="none" transform="rotate(-58.9 1194.0 1001.5)"/>
<ellipse cx="1190.4" cy="1038.6" rx="10.8" ry="7.5" fill="#fff" stroke="#000" stroke-width="3.24" transform="rotate(-58.9 1190.4 1038.6)"/>
<ellipse cx="1190.4" cy="1038.6" rx="6.7" ry="4.7" fill="#000" stroke="#000" stroke-width="2.40" transform="rotate(-58.9 1190.4 1038.6)"/>
<ellipse cx="1191.6" cy="1038.0" rx="4.4" ry="2.9" fill="#fff" stroke="none" transform="rotate(-58.9 1191.6 1038.0)"/>
<ellipse cx="1190.8" cy="1038.4" rx="1.6" ry="1.0" fill="#000" stroke="none" transform="rotate(-58.9 1190.8 1038.4)"/>
<ellipse cx="1168.8" cy="1072.4" rx="10.8" ry="7.5" fill="#fff" stroke="#000" stroke-width="3.24" transform="rotate(-58.9 1168.8 1072.4)"/>
<ellipse cx="1168.8" cy="1072.4" rx="6.7" ry="4.7" fill="#000" stroke="#000" stroke-width="2.40" transform="rotate(-58.9 1168.8 1072.4)"/>
<ellipse cx="1170.0" cy="1071.8" rx="4.4" ry="2.9" fill="#fff" stroke="none" transform="rotate(-58.9 1170.0 1071.8)"/>
<ellipse cx="1169.2" cy="1072.2" rx="1.6" ry="1.0" fill="#000" stroke="none" transform="rotate(-58.9 1169.2 1072.2)"/>
<ellipse cx="1137.2" cy="1090.2" rx="10.8" ry="7.5" fill="#fff" stroke="#000" stroke-width="3.24" transform="rotate(-58.9 1137.2 1090.2)"/>
<ellipse cx="1137.2" cy="1090.2" rx="6.7" ry="4.7" fill="#000" stroke="#000" stroke-width="2.40" transform="rotate(-58.9 1137.2 1090.2)"/>
<ellipse cx="1138.4" cy="1089.6" rx="4.4" ry="2.9" fill="#fff" stroke="none" transform="rotate(-58.9 1138.4 1089.6)"/>
<ellipse cx="1137.6" cy="1090.0" rx="1.6" ry="1.0" fill="#000" stroke="none" transform="rotate(-58.9 1137.6 1090.0)"/>
<ellipse cx="1107.5" cy="1085.3" rx="10.8" ry="7.5" fill="#fff" stroke="#000" stroke-width="3.24" transform="rotate(-58.9 1107.5 1085.3)"/>
<ellipse cx="1107.5" cy="1085.3" rx="6.7" ry="4.7" fill="#000" stroke="#000" stroke-width="2.40" transform="rotate(-58.9 1107.5 1085.3)"/>
<ellipse cx="1108.7" cy="1084.7" rx="4.4" ry="2.9" fill="#fff" stroke="none" transform="rotate(-58.9 1108.7 1084.7)"/>
<ellipse cx="1107.9" cy="1085.1" rx="1.6" ry="1.0" fill="#000" stroke="none" transform="rotate(-58.9 1107.9 1085.1)"/>
<ellipse cx="1091.1" cy="1059.4" rx="10.8" ry="7.5" fill="#fff" stroke="#000" stroke-width="3.24" transform="rotate(-58.9 1091.1 1059.4)"/>
<ellipse cx="1091.1" cy="1059.4" rx="6.7" ry="4.7" fill="#000" stroke="#000" stroke-width="2.40" transform="rotate(-58.9 1091.1 1059.4)"/>
<ellipse cx="1092.3" cy="1058.8" rx="4.4" ry="2.9" fill="#fff" stroke="none" transform="rotate(-58.9 1092.3 1058.8)"/>
<ellipse cx="1091.5" cy="1059.2" rx="1.6" ry="1.0" fill="#000" stroke="none" transform="rotate(-58.9 1091.5 1059.2)"/>
<ellipse cx="1094.3" cy="1022.5" rx="10.8" ry="7.5" fill="#fff" stroke="#000" stroke-width="3.24" transform="rotate(-58.9 1094.3 1022.5)"/>
<ellipse cx="1094.3" cy="1022.5" rx="6.7" ry="4.7" fill="#000" stroke="#000" stroke-width="2.40" transform="rotate(-58.9 1094.3 1022.5)"/>
<ellipse cx="1095.5" cy="1021.9" rx="4.4" ry="2.9" fill="#fff" stroke="none" transform="rotate(-58.9 1095.5 1021.9)"/>
<ellipse cx="1094.7" cy="1022.3" rx="1.6" ry="1.0" fill="#000" stroke="none" transform="rotate(-58.9 1094.7 1022.3)"/>
<ellipse cx="1115.9" cy="988.7" rx="10.8" ry="7.5" fill="#fff" stroke="#000" stroke-width="3.24" transform="rotate(-58.9 1115.9 988.7)"/>
<ellipse cx="1115.9" cy="988.7" rx="6.7" ry="4.7" fill="#000" stroke="#000" stroke-width="2.40" transform="rotate(-58.9 1115.9 988.7)"/>
<ellipse cx="1117.1" cy="988.1" rx="4.4" ry="2.9" fill="#fff" stroke="none" transform="rotate(-58.9 1117.1 988.1)"/>
<ellipse cx="1116.3" cy="988.5" rx="1.6" ry="1.0" fill="#000" stroke="none" transform="rotate(-58.9 1116.3 988.5)"/>
<ellipse cx="1147.5" cy="970.9" rx="10.8" ry="7.5" fill="#fff" stroke="#000" stroke-width="3.24" transform="rotate(-58.9 1147.5 970.9)"/>
<ellipse cx="1147.5" cy="970.9" rx="6.7" ry="4.7" fill="#000" stroke="#000" stroke-width="2.40" transform="rotate(-58.9 1147.5 970.9)"/>
<ellipse cx="1148.7" cy="970.3" rx="4.4" ry="2.9" fill="#fff" stroke="none" transform="rotate(-58.9 1148.7 970.3)"/>
<ellipse cx="1147.9" cy="970.7" rx="1.6" ry="1.0" fill="#000" stroke="none" transform="rotate(-58.9 1147.9 970.7)"/>
<path d="M1145.4 1066.5 L1143.5 1064.9 L1141.8 1063.1 L1140.3 1061.0 L1138.9 1058.9 L1137.7 1056.5 L1136.7 1054.0 L1135.9 1051.5 L1135.3 1048.8 L1134.9 1046.0 L1134.7 1043.2 L1134.7 1040.3 L1135.0 1037.5 L1135.4 1034.6 L1136.1 1031.8 L1136.9 1029.0 L1137.9 1026.4 L1139.2 1023.8 L1140.6 1021.3 L1142.1 1018.9 L1143.8 1016.7 L1145.7 1014.7 L1147.7 1012.9 L1149.8 1011.2 L1152.0 1009.8 L1154.2 1008.5 L1156.6 1007.6 L1159.0 1006.8 L1161.4 1006.3 L1163.8 1006.0 L1166.2 1006.0 L1168.5 1006.3 L1170.9 1006.8 L1173.1 1007.5 L1175.3 1008.5 L1177.4 1009.7 L1179.3 1011.1" fill="none" stroke="#000" stroke-width="1.92" stroke-linecap="round" stroke-linejoin="round"/>
<ellipse cx="1162.3" cy="1038.8" rx="29.6" ry="23.7" fill="#fff" stroke="#000" stroke-width="2.28" transform="rotate(-75.1 1162.3 1038.8)"/>
<ellipse cx="1162.3" cy="1038.8" rx="26.1" ry="20.2" fill="#fff" stroke="#000" stroke-width="3.12" transform="rotate(-75.1 1162.3 1038.8)"/>
<ellipse cx="1166.8" cy="1043.8" rx="17.4" ry="12.1" fill="#fff" stroke="#000" stroke-width="3.36" transform="rotate(-68.0 1166.8 1043.8)"/>
<path d="M1170.9 1053.8 L1170.0 1054.7 L1169.0 1055.5 L1168.0 1056.2 L1166.9 1056.8 L1165.9 1057.2 L1164.8 1057.5 L1163.8 1057.6 L1162.7 1057.6 L1161.8 1057.5 L1160.8 1057.3 L1159.9 1056.9 L1159.1 1056.3 L1158.3 1055.7 L1157.6 1054.9 L1157.0 1054.0 L1156.5 1053.0 L1156.1 1052.0 L1155.7 1050.8 L1155.5 1049.6 L1155.4 1048.3 L1155.4 1047.0 L1155.5 1045.7 L1155.7 1044.3 L1156.0 1042.9 L1156.4 1041.6 L1157.0 1040.3 L1157.6 1039.0 L1158.2 1037.8 L1159.0 1036.6 L1159.8 1035.5 L1160.7 1034.5 L1161.7 1033.6 L1162.7 1032.9 L1163.7 1032.2 L1164.7 1031.7 L1165.8 1031.3" fill="none" stroke="#000" stroke-width="2.40" stroke-linecap="round" stroke-linejoin="round"/>
<path d="M1167.7 1053.5 L1167.2 1053.6 L1166.6 1053.7 L1166.0 1053.8 L1165.5 1053.8 L1165.0 1053.7 L1164.4 1053.6 L1163.9 1053.5 L1163.5 1053.3 L1163.0 1053.0 L1162.6 1052.7 L1162.2 1052.3 L1161.8 1051.9 L1161.4 1051.5 L1161.1 1051.0 L1160.8 1050.5 L1160.6 1049.9 L1160.4 1049.3 L1160.2 1048.7 L1160.1 1048.0 L1160.0 1047.4 L1160.0 1046.7 L1160.0 1046.0 L1160.0 1045.2 L1160.1 1044.5 L1160.2 1043.8 L1160.4 1043.1 L1160.6 1042.3 L1160.8 1041.6 L1161.1 1040.9 L1161.4 1040.2 L1161.7 1039.5 L1162.1 1038.9 L1162.5 1038.3 L1163.0 1037.7 L1163.4 1037.1 L1163.9 1036.6" fill="none" stroke="#000" stroke-width="1.68" stroke-linecap="round" stroke-linejoin="round"/>
<path d="M1128 1052 l6 -3 l6 2 l-2 5 l-8 1 Z" fill="#fff" stroke="#000" stroke-width="1.92" stroke-linecap="round" stroke-linejoin="round" />
<path d="M1246.7 1011.6 L1234.3 1005.0 L1229.8 1013.5 L1242.2 1020.1 Z" fill="#fff" stroke="#000" stroke-width="2.40" stroke-linecap="round" stroke-linejoin="round"/>
<path d="M1242.5 1009.4 L1239.3 1018.5" fill="none" stroke="#000" stroke-width="1.92" stroke-linecap="butt" stroke-linejoin="round"/>
<path d="M1240.0 1008.0 L1236.8 1017.2" fill="none" stroke="#000" stroke-width="1.92" stroke-linecap="butt" stroke-linejoin="round"/>
<path d="M1237.5 1006.7 L1234.3 1015.9" fill="none" stroke="#000" stroke-width="1.92" stroke-linecap="butt" stroke-linejoin="round"/>
<path d="M1235.0 1005.4 L1231.9 1014.6" fill="none" stroke="#000" stroke-width="1.92" stroke-linecap="butt" stroke-linejoin="round"/>
<ellipse cx="1246.8" cy="1017.1" rx="10.5" ry="6.5" fill="#fff" stroke="#000" stroke-width="2.64" transform="rotate(-62.0 1246.8 1017.1)"/>
<ellipse cx="1252.3" cy="1020.0" rx="8.6" ry="5.8" fill="#fff" stroke="#000" stroke-width="2.64" transform="rotate(-62.0 1252.3 1020.0)"/>
<path d="M1255.2 1016.8 L1255.5 1017.0 L1255.8 1017.2 L1256.0 1017.5 L1256.2 1017.9 L1256.3 1018.2 L1256.4 1018.6 L1256.4 1019.1 L1256.4 1019.5 L1256.4 1020.0 L1256.3 1020.5 L1256.1 1020.9 L1256.0 1021.4 L1255.7 1021.9 L1255.5 1022.3 L1255.2 1022.7 L1254.9 1023.1 L1254.5 1023.4 L1254.2 1023.7 L1253.8 1024.0 L1253.4 1024.2 L1253.0 1024.3 L1252.6 1024.4 L1252.3 1024.5 L1251.9 1024.4 L1251.6 1024.4 L1251.2 1024.2 L1251.0 1024.0 L1250.7 1023.8 L1250.5 1023.5 L1250.3 1023.2 L1250.2 1022.8 L1250.1 1022.4 L1250.1 1021.9 L1250.1 1021.5 L1250.1 1021.0 L1250.2 1020.5" fill="none" stroke="#000" stroke-width="1.68" stroke-linecap="round" stroke-linejoin="round"/>
<ellipse cx="1242.7" cy="1092.6" rx="32.6" ry="27.5" fill="#000" stroke="#000" stroke-width="3.12" transform="rotate(-103.7 1242.7 1092.6)"/>
<ellipse cx="1249.2" cy="1089.6" rx="32.6" ry="27.5" fill="#fff" stroke="#000" stroke-width="2.88" transform="rotate(-103.7 1249.2 1089.6)"/>
<ellipse cx="1250.5" cy="1123.2" rx="3.0" ry="1.3" fill="#fff" stroke="none" transform="rotate(-146.2 1250.5 1123.2)"/>
<ellipse cx="1243.3" cy="1123.1" rx="3.0" ry="1.3" fill="#fff" stroke="none" transform="rotate(-138.7 1243.3 1123.1)"/>
<ellipse cx="1236.2" cy="1120.8" rx="3.0" ry="1.3" fill="#fff" stroke="none" transform="rotate(-131.2 1236.2 1120.8)"/>
<ellipse cx="1229.7" cy="1116.4" rx="3.0" ry="1.3" fill="#fff" stroke="none" transform="rotate(-123.7 1229.7 1116.4)"/>
<ellipse cx="1224.2" cy="1110.4" rx="3.0" ry="1.3" fill="#fff" stroke="none" transform="rotate(-116.2 1224.2 1110.4)"/>
<ellipse cx="1220.2" cy="1103.0" rx="3.0" ry="1.3" fill="#fff" stroke="none" transform="rotate(-108.7 1220.2 1103.0)"/>
<ellipse cx="1217.9" cy="1094.8" rx="3.0" ry="1.3" fill="#fff" stroke="none" transform="rotate(-101.2 1217.9 1094.8)"/>
<ellipse cx="1217.4" cy="1086.3" rx="3.0" ry="1.3" fill="#fff" stroke="none" transform="rotate(-93.7 1217.4 1086.3)"/>
<ellipse cx="1218.9" cy="1078.2" rx="3.0" ry="1.3" fill="#fff" stroke="none" transform="rotate(-86.2 1218.9 1078.2)"/>
<ellipse cx="1222.1" cy="1071.0" rx="3.0" ry="1.3" fill="#fff" stroke="none" transform="rotate(-78.7 1222.1 1071.0)"/>
<ellipse cx="1226.9" cy="1065.1" rx="3.0" ry="1.3" fill="#fff" stroke="none" transform="rotate(-71.2 1226.9 1065.1)"/>
<ellipse cx="1232.9" cy="1061.0" rx="3.0" ry="1.3" fill="#fff" stroke="none" transform="rotate(-63.7 1232.9 1061.0)"/>
<ellipse cx="1252.5" cy="1094.7" rx="26.9" ry="20.4" fill="none" stroke="#000" stroke-width="2.16" transform="rotate(-71.6 1252.5 1094.7)"/>
<ellipse cx="1252.5" cy="1094.7" rx="24.9" ry="18.4" fill="none" stroke="#000" stroke-width="1.56" transform="rotate(-71.6 1252.5 1094.7)"/>
<ellipse cx="1252.9" cy="1094.7" rx="20.4" ry="15.0" fill="#fff" stroke="#000" stroke-width="3.12" transform="rotate(-62.4 1252.9 1094.7)"/>
<path d="M1262.2 1103.0 L1261.6 1103.9 L1261.0 1104.7 L1260.4 1105.5 L1259.8 1106.3 L1259.1 1107.0 L1258.4 1107.7 L1257.7 1108.4 L1256.9 1109.0 L1256.2 1109.5 L1255.4 1110.1 L1254.6 1110.5 L1253.8 1110.9 L1253.0 1111.3 L1252.2 1111.6 L1251.3 1111.9 L1250.5 1112.1 L1249.7 1112.2 L1248.9 1112.3 L1248.1 1112.4 L1247.3 1112.4 L1246.5 1112.3 L1245.8 1112.2 L1245.1 1112.0 L1244.3 1111.7 L1243.6 1111.4 L1243.0 1111.1 L1242.3 1110.7 L1241.7 1110.2 L1241.2 1109.7 L1240.6 1109.2 L1240.1 1108.6 L1239.6 1108.0 L1239.2 1107.3 L1238.8 1106.6 L1238.5 1105.8 L1238.2 1105.0" fill="none" stroke="#000" stroke-width="2.16" stroke-linecap="round" stroke-linejoin="round"/>
<path d="M1269.0 1080.1 L1269.4 1080.7 L1269.7 1081.3 L1270.1 1082.0 L1270.4 1082.6 L1270.7 1083.3 L1270.9 1084.1 L1271.1 1084.8 L1271.3 1085.6 L1271.4 1086.4 L1271.5 1087.2 L1271.6 1088.0 L1271.7 1088.8 L1271.7 1089.7 L1271.6 1090.6 L1271.5 1091.4 L1271.4 1092.3 L1271.3 1093.2 L1271.1 1094.0 L1270.9 1094.9 L1270.6 1095.8 L1270.4 1096.6 L1270.1 1097.5 L1269.7 1098.4 L1269.3 1099.2 L1268.9 1100.0 L1268.5 1100.8 L1268.0 1101.6 L1267.5 1102.4 L1267.0 1103.2 L1266.5 1103.9 L1265.9 1104.6 L1265.3 1105.3 L1264.7 1105.9 L1264.1 1106.6 L1263.4 1107.2 L1262.8 1107.7" fill="none" stroke="#000" stroke-width="1.92" stroke-linecap="round" stroke-linejoin="round"/>
<ellipse cx="199.8" cy="1067.0" rx="54.8" ry="44.9" fill="#fff" stroke="#000" stroke-width="3.36" transform="rotate(-64.0 199.8 1067.0)"/>
<ellipse cx="201.6" cy="1066.0" rx="54.8" ry="44.9" fill="#fff" stroke="#000" stroke-width="3.12" transform="rotate(-64.0 201.6 1066.0)"/>
<path d="M201.6 1113.2 L196.5 1113.7 L191.5 1113.5 L186.6 1112.5 L182.0 1110.9 L177.6 1108.7 L173.6 1105.8 L170.1 1102.3 L167.0 1098.3 L164.4 1093.8 L162.4 1089.0 L161.0 1083.7 L160.1 1078.2 L159.9 1072.6 L160.3 1066.8 L161.3 1061.0 L162.9 1055.3 L165.1 1049.8 L167.9 1044.5 L171.1 1039.5 L174.8 1034.9 L178.9 1030.7 L183.3 1027.1 L188.0 1024.0 L193.0 1021.6 L198.0 1019.8 L203.1 1018.6 L208.2 1018.2 L213.2 1018.5 L218.1 1019.5 L222.7 1021.1 L227.0 1023.4 L231.0 1026.4 L234.5 1029.9 L237.5 1033.9 L240.1 1038.4 L242.0 1043.4" fill="none" stroke="#000" stroke-width="1.80" stroke-linecap="round" stroke-linejoin="round"/>
<path d="M216.9 1020.7 L233.0 1030.8 L224.0 1040.9 L212.5 1033.7 Z" fill="#fff" stroke="#000" stroke-width="2.16" stroke-linecap="round" stroke-linejoin="round"/>
<ellipse cx="223.1" cy="1029.0" rx="5.4" ry="4.0" fill="#fff" stroke="#000" stroke-width="2.64" transform="rotate(-64.0 223.1 1029.0)"/>
<ellipse cx="222.5" cy="1029.4" rx="2.8" ry="2.0" fill="#000" stroke="#000" stroke-width="1.20" transform="rotate(-64.0 222.5 1029.4)"/>
<path d="M241.9 1049.9 L240.9 1072.2 L229.7 1070.4 L230.4 1054.5 Z" fill="#fff" stroke="#000" stroke-width="2.16" stroke-linecap="round" stroke-linejoin="round"/>
<ellipse cx="238.2" cy="1061.4" rx="5.4" ry="4.0" fill="#fff" stroke="#000" stroke-width="2.64" transform="rotate(-64.0 238.2 1061.4)"/>
<ellipse cx="237.6" cy="1061.8" rx="2.8" ry="2.0" fill="#000" stroke="#000" stroke-width="1.20" transform="rotate(-64.0 237.6 1061.8)"/>
<path d="M160.7 1071.8 L166.0 1049.5 L176.2 1054.2 L172.4 1070.1 Z" fill="#fff" stroke="#000" stroke-width="2.16" stroke-linecap="round" stroke-linejoin="round"/>
<ellipse cx="166.4" cy="1061.1" rx="5.4" ry="4.0" fill="#fff" stroke="#000" stroke-width="2.64" transform="rotate(-64.0 166.4 1061.1)"/>
<ellipse cx="165.8" cy="1061.5" rx="2.8" ry="2.0" fill="#000" stroke="#000" stroke-width="1.20" transform="rotate(-64.0 165.8 1061.5)"/>
<path d="M176.3 1034.5 L194.4 1022.2 L196.4 1034.7 L183.5 1043.5 Z" fill="#fff" stroke="#000" stroke-width="2.16" stroke-linecap="round" stroke-linejoin="round"/>
<ellipse cx="186.6" cy="1031.3" rx="5.4" ry="4.0" fill="#fff" stroke="#000" stroke-width="2.64" transform="rotate(-64.0 186.6 1031.3)"/>
<ellipse cx="186.0" cy="1031.7" rx="2.8" ry="2.0" fill="#000" stroke="#000" stroke-width="1.20" transform="rotate(-64.0 186.0 1031.7)"/>
<path d="M177.1 1107.0 L164.5 1092.0 L175.1 1084.6 L184.1 1095.2 Z" fill="#fff" stroke="#000" stroke-width="2.16" stroke-linecap="round" stroke-linejoin="round"/>
<ellipse cx="173.3" cy="1096.8" rx="5.4" ry="4.0" fill="#fff" stroke="#000" stroke-width="2.64" transform="rotate(-64.0 173.3 1096.8)"/>
<ellipse cx="172.7" cy="1097.2" rx="2.8" ry="2.0" fill="#000" stroke="#000" stroke-width="1.20" transform="rotate(-64.0 172.7 1097.2)"/>
<ellipse cx="212.4" cy="1069.0" rx="35.6" ry="29.7" fill="#fff" stroke="#000" stroke-width="2.88" transform="rotate(-62.7 212.4 1069.0)"/>
<path d="M206.5 1100.9 L203.8 1100.6 L201.2 1100.0 L198.7 1099.1 L196.3 1097.9 L194.0 1096.4 L192.0 1094.7 L190.1 1092.7 L188.4 1090.5 L187.0 1088.1 L185.8 1085.6 L184.8 1082.8 L184.2 1080.0 L183.7 1077.0 L183.6 1074.0 L183.7 1070.9 L184.1 1067.8 L184.7 1064.7 L185.6 1061.6 L186.8 1058.6 L188.2 1055.7 L189.8 1053.0 L191.7 1050.4 L193.7 1047.9 L195.9 1045.7 L198.3 1043.7 L200.8 1041.9 L203.4 1040.3 L206.1 1039.1 L208.8 1038.1 L211.6 1037.4 L214.4 1037.0 L217.2 1036.9 L219.9 1037.1 L222.6 1037.6 L225.1 1038.4 L227.6 1039.5" fill="none" stroke="#000" stroke-width="1.56" stroke-linecap="round" stroke-linejoin="round"/>
<path d="M209.1 1099.9 L207.6 1099.5 L206.2 1098.9 L204.9 1098.1 L203.7 1097.1 L202.7 1095.9 L201.7 1094.6 L200.9 1093.0 L200.3 1091.4 L199.8 1089.6 L199.5 1087.7 L199.3 1085.7 L199.4 1083.6 L199.5 1081.4 L199.9 1079.3 L200.4 1077.1 L201.0 1074.9 L201.8 1072.7 L202.8 1070.6 L203.9 1068.5 L205.1 1066.6 L206.4 1064.7 L207.8 1062.9 L209.3 1061.3 L210.9 1059.9 L212.5 1058.6 L214.2 1057.5 L215.9 1056.5 L217.6 1055.8 L219.3 1055.3 L221.0 1054.9 L222.7 1054.8 L224.3 1054.9 L225.8 1055.3 L227.2 1055.8 L228.6 1056.5 L229.8 1057.5" fill="none" stroke="#000" stroke-width="1.92" stroke-linecap="round" stroke-linejoin="round"/>
<path d="M225.8 1059.5 L244.2 1073.2 L244.2 1073.2 L245.5 1074.0 L246.5 1075.2 L247.3 1076.7 L247.8 1078.4 L248.1 1080.4 L248.1 1082.6 L247.8 1084.9 L247.3 1087.3 L246.5 1089.7 L245.4 1092.1 L244.2 1094.4 L242.8 1096.5 L241.2 1098.4 L239.6 1100.0 L237.9 1101.4 L236.1 1102.4 L234.4 1103.1 L232.7 1103.4 L231.2 1103.3 L229.8 1102.8 L208.2 1095.5 L208.2 1095.5 L206.9 1094.6 L205.8 1093.5 L204.8 1092.1 L204.1 1090.5 L203.6 1088.6 L203.3 1086.6 L203.3 1084.3 L203.4 1082.0 L203.8 1079.6 L204.5 1077.2 L205.3 1074.7 L206.4 1072.3 L207.6 1070.0 L209.0 1067.9 L210.6 1065.8 L212.2 1064.0 L213.9 1062.5 L215.7 1061.1 L217.5 1060.1 L219.3 1059.3 L221.0 1058.9 L222.7 1058.8 L224.3 1059.0 L225.8 1059.5 Z" fill="#fff" stroke="#000" stroke-width="2.88" stroke-linecap="round" stroke-linejoin="round"/>
<path d="M243.5 1072.9 L244.3 1073.2 L245.0 1073.6 L245.7 1074.2 L246.3 1074.9 L246.8 1075.7 L247.3 1076.6 L247.6 1077.6 L247.9 1078.7 L248.0 1079.8 L248.1 1081.1 L248.1 1082.4 L248.0 1083.7 L247.8 1085.1 L247.5 1086.5 L247.1 1087.9 L246.6 1089.3 L246.1 1090.7 L245.4 1092.1 L244.7 1093.5 L244.0 1094.8 L243.2 1096.0 L242.3 1097.2 L241.4 1098.3 L240.4 1099.3 L239.4 1100.2 L238.4 1101.0 L237.4 1101.7 L236.4 1102.3 L235.3 1102.8 L234.3 1103.1 L233.4 1103.3 L232.4 1103.4 L231.5 1103.3 L230.6 1103.2 L229.8 1102.9 L229.1 1102.4" fill="none" stroke="#000" stroke-width="2.40" stroke-linecap="round" stroke-linejoin="round"/>
<path d="M244.0 1077.5 L272.6 1093.6 L272.6 1093.6 L273.4 1094.1 L274.1 1094.9 L274.6 1095.9 L274.9 1097.2 L275.0 1098.5 L275.0 1100.1 L274.8 1101.7 L274.4 1103.4 L273.8 1105.1 L273.1 1106.7 L272.2 1108.3 L271.2 1109.8 L270.2 1111.2 L269.0 1112.3 L267.8 1113.3 L266.7 1114.0 L265.5 1114.5 L264.4 1114.8 L263.4 1114.7 L262.4 1114.4 L233.0 1100.1" fill="#fff" stroke="#000" stroke-width="3.12" stroke-linecap="round" stroke-linejoin="round"/>
<path d="M249.5 1079.9 L263.2 1088.0" fill="none" stroke="#000" stroke-width="2.04" stroke-linecap="butt" stroke-linejoin="round"/>
<path d="M251.1 1082.6 L264.8 1090.6" fill="none" stroke="#000" stroke-width="2.04" stroke-linecap="butt" stroke-linejoin="round"/>
<path d="M251.4 1086.6 L265.1 1094.4" fill="none" stroke="#000" stroke-width="2.04" stroke-linecap="butt" stroke-linejoin="round"/>
<path d="M250.4 1091.4 L264.1 1099.0" fill="none" stroke="#000" stroke-width="2.04" stroke-linecap="butt" stroke-linejoin="round"/>
<path d="M248.2 1096.0 L262.0 1103.4" fill="none" stroke="#000" stroke-width="2.04" stroke-linecap="butt" stroke-linejoin="round"/>
<path d="M245.2 1099.9 L259.1 1107.1" fill="none" stroke="#000" stroke-width="2.04" stroke-linecap="butt" stroke-linejoin="round"/>
<path d="M241.8 1102.4 L255.9 1109.5" fill="none" stroke="#000" stroke-width="2.04" stroke-linecap="butt" stroke-linejoin="round"/>
<path d="M238.6 1103.1 L252.8 1110.1" fill="none" stroke="#000" stroke-width="2.04" stroke-linecap="butt" stroke-linejoin="round"/>
<path d="M247.7 1078.7 L248.3 1078.9 L248.9 1079.3 L249.4 1079.7 L249.9 1080.3 L250.2 1080.9 L250.6 1081.6 L250.8 1082.4 L251.0 1083.3 L251.1 1084.2 L251.2 1085.2 L251.1 1086.2 L251.0 1087.3 L250.9 1088.4 L250.6 1089.5 L250.3 1090.6 L249.9 1091.7 L249.5 1092.8 L249.0 1094.0 L248.4 1095.0 L247.8 1096.1 L247.1 1097.1 L246.5 1098.0 L245.7 1098.9 L245.0 1099.7 L244.2 1100.5 L243.4 1101.1 L242.6 1101.7 L241.8 1102.2 L241.0 1102.5 L240.2 1102.8 L239.5 1103.0 L238.7 1103.1 L238.0 1103.0 L237.4 1102.9 L236.7 1102.7 L236.2 1102.3" fill="none" stroke="#000" stroke-width="2.16" stroke-linecap="round" stroke-linejoin="round"/>
<path d="M262.9 1087.6 L263.5 1087.9 L264.0 1088.2 L264.5 1088.6 L264.9 1089.1 L265.3 1089.7 L265.6 1090.4 L265.8 1091.1 L266.0 1091.9 L266.1 1092.8 L266.1 1093.7 L266.1 1094.6 L266.0 1095.6 L265.8 1096.7 L265.6 1097.7 L265.3 1098.8 L264.9 1099.8 L264.5 1100.9 L264.0 1101.9 L263.5 1102.9 L262.9 1103.9 L262.3 1104.9 L261.7 1105.8 L261.0 1106.6 L260.3 1107.4 L259.5 1108.0 L258.8 1108.7 L258.1 1109.2 L257.3 1109.7 L256.6 1110.0 L255.8 1110.3 L255.1 1110.4 L254.5 1110.5 L253.8 1110.5 L253.2 1110.4 L252.6 1110.2 L252.1 1109.8" fill="none" stroke="#000" stroke-width="2.40" stroke-linecap="round" stroke-linejoin="round"/>
<path d="M266.3 1089.8 L266.9 1090.0 L267.4 1090.4 L267.8 1090.8 L268.3 1091.3 L268.6 1091.8 L268.9 1092.5 L269.1 1093.2 L269.3 1094.0 L269.4 1094.8 L269.4 1095.7 L269.4 1096.7 L269.3 1097.7 L269.1 1098.7 L268.9 1099.7 L268.6 1100.7 L268.2 1101.8 L267.8 1102.8 L267.3 1103.8 L266.8 1104.8 L266.3 1105.8 L265.7 1106.7 L265.0 1107.6 L264.4 1108.4 L263.7 1109.2 L263.0 1109.9 L262.2 1110.5 L261.5 1111.0 L260.8 1111.5 L260.1 1111.8 L259.3 1112.1 L258.7 1112.3 L258.0 1112.3 L257.3 1112.3 L256.7 1112.2 L256.2 1112.0 L255.7 1111.7" fill="none" stroke="#000" stroke-width="1.68" stroke-linecap="round" stroke-linejoin="round"/>
<ellipse cx="269.5" cy="1105.0" rx="9.2" ry="4.9" fill="#fff" stroke="#000" stroke-width="2.40" transform="rotate(-64.0 269.5 1105.0)"/>
<path d="M272.7 1101.8 L272.9 1102.2 L273.0 1102.6 L273.1 1103.1 L273.1 1103.6 L273.0 1104.1 L272.9 1104.7 L272.8 1105.3 L272.6 1105.9 L272.3 1106.4 L272.0 1107.0 L271.7 1107.5 L271.3 1108.0 L271.0 1108.4 L270.6 1108.8 L270.1 1109.1 L269.7 1109.3 L269.3 1109.5 L268.9 1109.6 L268.5 1109.6 L268.2 1109.5 L267.9 1109.4 L267.6 1109.1 L267.3 1108.8 L267.2 1108.5 L267.0 1108.1 L266.9 1107.6 L266.9 1107.1 L266.9 1106.5 L267.0 1106.0 L267.2 1105.4 L267.4 1104.8 L267.6 1104.2 L267.9 1103.7 L268.2 1103.2 L268.6 1102.7 L269.0 1102.2" fill="none" stroke="#000" stroke-width="2.40" stroke-linecap="round" stroke-linejoin="round"/>
<path d="M258.3 1067.7 L257.6 1066.5 L257.0 1065.3 L256.5 1063.9 L256.2 1062.5 L256.2 1061.0 L256.2 1059.5 L256.5 1058.0 L256.9 1056.5 L257.5 1055.1 L258.3 1053.7 L259.1 1052.5 L260.1 1051.3 L261.3 1050.3 L262.5 1049.4 L263.7 1048.8 L265.1 1048.3 L266.4 1047.9 L267.8 1047.8 L269.1 1047.9 L270.4 1048.1 L271.7 1048.6 L272.8 1049.2 L273.9 1050.0 L274.8 1051.0 L275.6 1052.1 L276.3 1053.3 L276.8 1054.6 L277.1 1056.0 L277.2 1057.5 L277.2 1059.0 L277.0 1060.5 L276.6 1062.0 L276.1 1063.5 L275.4 1064.9 L274.6 1066.1 L273.6 1067.3 L272.5 1068.4 L271.3 1069.3 L270.1 1070.0 L268.8 1070.6" fill="none" stroke="#000" stroke-width="4.56" stroke-linecap="round" stroke-linejoin="round"/>
<ellipse cx="304.5" cy="1129.8" rx="41.0" ry="33.8" fill="#000" stroke="#000" stroke-width="3.36" transform="rotate(-68.0 304.5 1129.8)"/>
<ellipse cx="307.7" cy="1128.0" rx="41.0" ry="33.8" fill="#fff" stroke="#000" stroke-width="2.88" transform="rotate(-68.0 307.7 1128.0)"/>
<path d="M296.6 1168.5 L294.0 1167.9 L291.5 1167.1 L289.1 1166.1 L286.8 1164.8 L284.6 1163.3 L282.5 1161.6 L280.6 1159.7 L278.9 1157.7 L277.3 1155.4 L275.9 1153.0 L274.6 1150.5 L273.6 1147.8 L272.7 1145.0 L272.1 1142.1 L271.6 1139.1 L271.4 1136.1 L271.4 1133.0 L271.6 1129.9 L272.0 1126.8 L272.6 1123.7 L273.4 1120.6 L274.4 1117.6 L275.6 1114.7 L276.9 1111.8 L278.5 1109.1 L280.2 1106.4 L282.1 1103.9 L284.1 1101.5 L286.3 1099.3 L288.5 1097.3 L290.9 1095.5 L293.4 1093.9 L295.9 1092.4 L298.6 1091.2 L301.2 1090.3 L303.9 1089.5" fill="none" stroke="#000" stroke-width="1.20" stroke-linecap="round" stroke-linejoin="round"/>
<path d="M309.3 1165.7 L306.1 1166.2 L302.9 1166.5 L299.7 1166.3 L296.6 1165.8 L293.6 1164.9 L290.7 1163.7 L288.0 1162.2 L285.5 1160.4 L283.1 1158.2 L281.0 1155.8 L279.2 1153.1 L277.6 1150.2 L276.2 1147.0 L275.2 1143.7 L274.5 1140.3 L274.0 1136.7 L273.9 1133.1 L274.1 1129.4 L274.6 1125.7 L275.4 1122.1 L276.5 1118.5 L277.9 1114.9 L279.6 1111.5 L281.5 1108.3 L283.6 1105.3 L286.0 1102.4 L288.6 1099.9 L291.3 1097.6 L294.2 1095.5 L297.3 1093.8 L300.4 1092.4 L303.6 1091.4 L306.8 1090.7 L310.0 1090.3 L313.2 1090.3 L316.3 1090.7" fill="none" stroke="#000" stroke-width="1.68" stroke-linecap="round" stroke-linejoin="round"/>
<ellipse cx="306.4" cy="1127.6" rx="28.2" ry="20.8" fill="none" stroke="#000" stroke-width="3.36" transform="rotate(-72.9 306.4 1127.6)"/>
<path d="M307.2 1097.7 L309.4 1097.5 L311.6 1097.6 L313.7 1097.9 L315.8 1098.4 L317.8 1099.2 L319.7 1100.3 L321.5 1101.6 L323.1 1103.1 L324.6 1104.8 L326.0 1106.7 L327.2 1108.7 L328.2 1111.0 L329.0 1113.4 L329.7 1115.9 L330.1 1118.5 L330.3 1121.1 L330.4 1123.9 L330.2 1126.6 L329.8 1129.4 L329.3 1132.2 L328.5 1134.9 L327.6 1137.5 L326.4 1140.1 L325.1 1142.6 L323.7 1144.9 L322.1 1147.1 L320.3 1149.1 L318.5 1151.0 L316.5 1152.6 L314.5 1154.0 L312.3 1155.3 L310.2 1156.2 L308.0 1157.0 L305.8 1157.4 L303.5 1157.7 L301.4 1157.6" fill="none" stroke="#000" stroke-width="1.56" stroke-linecap="round" stroke-linejoin="round"/>
<ellipse cx="361.2" cy="1162.0" rx="35.8" ry="27.0" fill="#fff" stroke="#000" stroke-width="3.36" transform="rotate(-55.3 361.2 1162.0)"/>
<ellipse cx="363.2" cy="1160.8" rx="35.8" ry="27.0" fill="#fff" stroke="#000" stroke-width="3.12" transform="rotate(-55.3 363.2 1160.8)"/>
<ellipse cx="362.6" cy="1161.2" rx="33.1" ry="25.0" fill="none" stroke="#000" stroke-width="1.80" transform="rotate(-55.3 362.6 1161.2)"/>
<ellipse cx="363.2" cy="1165.6" rx="25.6" ry="17.8" fill="none" stroke="#000" stroke-width="4.08" transform="rotate(-62.2 363.2 1165.6)"/>
<path d="M365.3 1185.5 L363.6 1186.5 L361.7 1187.3 L359.9 1187.9 L358.1 1188.2 L356.4 1188.4 L354.7 1188.3 L353.0 1188.0 L351.5 1187.4 L350.0 1186.7 L348.7 1185.7 L347.5 1184.6 L346.4 1183.2 L345.5 1181.7 L344.8 1180.1 L344.2 1178.3 L343.8 1176.3 L343.6 1174.3 L343.6 1172.2 L343.8 1170.0 L344.1 1167.8 L344.6 1165.6 L345.3 1163.4 L346.2 1161.2 L347.2 1159.1 L348.4 1157.1 L349.7 1155.2 L351.1 1153.3 L352.6 1151.7 L354.3 1150.1 L356.0 1148.8 L357.7 1147.6 L359.5 1146.6 L361.3 1145.9 L363.1 1145.3 L364.9 1145.0 L366.7 1144.9" fill="none" stroke="#000" stroke-width="3.84" stroke-linecap="round" stroke-linejoin="round"/>
<path d="M360.0 1185.8 L358.6 1186.0 L357.3 1186.1 L356.1 1186.0 L354.9 1185.8 L353.7 1185.5 L352.6 1185.0 L351.5 1184.5 L350.5 1183.8 L349.6 1182.9 L348.8 1182.0 L348.1 1181.0 L347.4 1179.8 L346.9 1178.6 L346.4 1177.3 L346.1 1175.9 L345.9 1174.4 L345.8 1172.9 L345.8 1171.3 L345.9 1169.7 L346.1 1168.1 L346.4 1166.5 L346.9 1164.9 L347.4 1163.2 L348.0 1161.6 L348.7 1160.1 L349.6 1158.5 L350.5 1157.1 L351.4 1155.7 L352.5 1154.3 L353.6 1153.1 L354.8 1151.9 L356.0 1150.8 L357.3 1149.9 L358.6 1149.0 L359.9 1148.3 L361.2 1147.6" fill="none" stroke="#000" stroke-width="2.16" stroke-linecap="round" stroke-linejoin="round"/>
<ellipse cx="367.6" cy="1165.5" rx="18.0" ry="12.8" fill="none" stroke="#000" stroke-width="3.36" transform="rotate(-66.2 367.6 1165.5)"/>
<path d="M372.9 1151.1 L373.8 1151.4 L374.6 1151.7 L375.4 1152.1 L376.1 1152.6 L376.8 1153.2 L377.5 1153.9 L378.0 1154.6 L378.5 1155.5 L378.9 1156.4 L379.3 1157.4 L379.5 1158.4 L379.7 1159.5 L379.8 1160.7 L379.8 1161.8 L379.8 1163.0 L379.6 1164.2 L379.4 1165.4 L379.1 1166.6 L378.7 1167.8 L378.2 1169.0 L377.6 1170.1 L377.0 1171.2 L376.4 1172.2 L375.6 1173.2 L374.9 1174.1 L374.0 1175.0 L373.2 1175.8 L372.3 1176.5 L371.3 1177.1 L370.4 1177.6 L369.4 1178.0 L368.5 1178.3 L367.5 1178.5 L366.6 1178.6 L365.6 1178.6 L364.7 1178.5" fill="none" stroke="#000" stroke-width="2.16" stroke-linecap="round" stroke-linejoin="round"/>
<path d="M374.2 1146.2 L375.4 1146.5 L376.5 1146.9 L377.6 1147.5 L378.7 1148.2 L379.6 1149.0 L380.5 1149.9 L381.3 1150.9 L382.0 1152.1 L382.6 1153.3 L383.1 1154.7 L383.5 1156.1 L383.8 1157.6 L383.9 1159.1 L384.0 1160.7 L383.9 1162.3 L383.8 1163.9 L383.5 1165.6 L383.1 1167.2 L382.6 1168.9 L382.0 1170.5 L381.4 1172.1 L380.6 1173.6 L379.7 1175.1 L378.8 1176.5 L377.7 1177.8 L376.6 1179.1 L375.5 1180.2 L374.3 1181.2 L373.0 1182.2 L371.8 1183.0 L370.5 1183.6 L369.1 1184.2 L367.8 1184.6 L366.5 1184.9 L365.2 1185.0 L363.9 1185.0" fill="none" stroke="#000" stroke-width="1.80" stroke-linecap="round" stroke-linejoin="round"/>
<path d="M358.8 1217.0 L371.4 1223.2 L375.1 1215.6 L362.5 1209.5 Z" fill="#fff" stroke="#000" stroke-width="2.40" stroke-linecap="round" stroke-linejoin="round"/>
<path d="M363.1 1219.1 L365.4 1210.9" fill="none" stroke="#000" stroke-width="1.92" stroke-linecap="butt" stroke-linejoin="round"/>
<path d="M365.6 1220.4 L368.0 1212.2" fill="none" stroke="#000" stroke-width="1.92" stroke-linecap="butt" stroke-linejoin="round"/>
<path d="M368.1 1221.6 L370.5 1213.4" fill="none" stroke="#000" stroke-width="1.92" stroke-linecap="butt" stroke-linejoin="round"/>
<path d="M370.7 1222.8 L373.0 1214.6" fill="none" stroke="#000" stroke-width="1.92" stroke-linecap="butt" stroke-linejoin="round"/>
<ellipse cx="358.7" cy="1212.3" rx="8.6" ry="5.3" fill="#fff" stroke="#000" stroke-width="2.64" transform="rotate(116.0 358.7 1212.3)"/>
<ellipse cx="354.1" cy="1210.1" rx="7.1" ry="4.7" fill="#fff" stroke="#000" stroke-width="2.64" transform="rotate(116.0 354.1 1210.1)"/>
<path d="M351.8 1212.8 L351.5 1212.6 L351.3 1212.4 L351.1 1212.2 L351.0 1211.9 L350.9 1211.6 L350.8 1211.3 L350.7 1211.0 L350.7 1210.6 L350.7 1210.2 L350.8 1209.8 L350.9 1209.4 L351.0 1209.0 L351.2 1208.6 L351.4 1208.3 L351.6 1207.9 L351.9 1207.6 L352.2 1207.3 L352.5 1207.1 L352.8 1206.9 L353.1 1206.7 L353.4 1206.6 L353.7 1206.5 L354.0 1206.4 L354.3 1206.4 L354.6 1206.5 L354.8 1206.6 L355.1 1206.7 L355.3 1206.9 L355.5 1207.2 L355.6 1207.4 L355.7 1207.7 L355.8 1208.1 L355.9 1208.4 L355.9 1208.8 L355.8 1209.2 L355.8 1209.6" fill="none" stroke="#000" stroke-width="1.68" stroke-linecap="round" stroke-linejoin="round"/>
<path d="M388 1196 L389 1243 L396 1250 L404 1251 L410 1256 L412 1263 L420 1267.5 L428 1265 L431 1258 L445 1250 L470 1210 L465 1160 L463 1151 L457 1144.5 L448 1143.5 L443 1148 L441 1155 L432 1156 L421 1156 L412 1160 L409 1168 L410 1178 L403 1186 L394 1188 Z" fill="#fff" stroke="#000" stroke-width="3.12" stroke-linecap="round" stroke-linejoin="round" />
<path d="M395 1197 L396 1240 L401 1245 M416 1166 L417 1177 L410 1186 M447 1151 L462 1158" fill="none" stroke="#000" stroke-width="1.68" stroke-linecap="round" stroke-linejoin="round" />
<path d="M403.5 1196.6 L403.6 1197.7 L403.2 1199.0 L402.5 1200.0 L401.5 1200.8 L400.5 1201.0 L399.5 1200.8 L398.8 1200.1 L398.4 1199.1 L398.5 1197.9 L399.0 1196.7 L399.8 1195.7 L400.8 1195.1" fill="none" stroke="#000" stroke-width="2.40" stroke-linecap="round" stroke-linejoin="round"/>
<path d="M403.5 1238.6 L403.6 1239.7 L403.2 1241.0 L402.5 1242.0 L401.5 1242.8 L400.5 1243.0 L399.5 1242.8 L398.8 1242.1 L398.4 1241.1 L398.5 1239.9 L399.0 1238.7 L399.8 1237.7 L400.8 1237.1" fill="none" stroke="#000" stroke-width="2.40" stroke-linecap="round" stroke-linejoin="round"/>
<path d="M425.5 1256.6 L425.6 1257.7 L425.2 1259.0 L424.5 1260.0 L423.5 1260.8 L422.5 1261.0 L421.5 1260.8 L420.8 1260.1 L420.4 1259.1 L420.5 1257.9 L421.0 1256.7 L421.8 1255.7 L422.8 1255.1" fill="none" stroke="#000" stroke-width="2.40" stroke-linecap="round" stroke-linejoin="round"/>
<path d="M458.5 1153.6 L458.6 1154.7 L458.2 1156.0 L457.5 1157.0 L456.5 1157.8 L455.5 1158.0 L454.5 1157.8 L453.8 1157.1 L453.4 1156.1 L453.5 1154.9 L454.0 1153.7 L454.8 1152.7 L455.8 1152.1" fill="none" stroke="#000" stroke-width="2.40" stroke-linecap="round" stroke-linejoin="round"/>
<path d="M426.5 1165.6 L426.6 1166.7 L426.2 1168.0 L425.5 1169.0 L424.5 1169.8 L423.5 1170.0 L422.5 1169.8 L421.8 1169.1 L421.4 1168.1 L421.5 1166.9 L422.0 1165.7 L422.8 1164.7 L423.8 1164.1" fill="none" stroke="#000" stroke-width="2.40" stroke-linecap="round" stroke-linejoin="round"/>
<path d="M439.5 1159.6 L439.6 1160.7 L439.2 1162.0 L438.5 1163.0 L437.5 1163.8 L436.5 1164.0 L435.5 1163.8 L434.8 1163.1 L434.4 1162.1 L434.5 1160.9 L435.0 1159.7 L435.8 1158.7 L436.8 1158.1" fill="none" stroke="#000" stroke-width="2.40" stroke-linecap="round" stroke-linejoin="round"/>
<path d="M474 1163 l9 3 l4 6 l-1 4" fill="none" stroke="#000" stroke-width="2.88" stroke-linecap="round" stroke-linejoin="round" />
<ellipse cx="444.7" cy="1215.3" rx="53.1" ry="39.7" fill="#fff" stroke="#000" stroke-width="2.88" transform="rotate(-61.7 444.7 1215.3)"/>
<ellipse cx="447.7" cy="1213.8" rx="53.1" ry="39.7" fill="#fff" stroke="#000" stroke-width="1.92" transform="rotate(-61.7 447.7 1213.8)"/>
<ellipse cx="450.7" cy="1212.3" rx="53.1" ry="39.7" fill="#fff" stroke="#000" stroke-width="3.12" transform="rotate(-61.7 450.7 1212.3)"/>
<path d="M447.1 1260.0 L443.5 1260.5 L440.1 1260.5 L436.6 1260.2 L433.3 1259.5 L430.2 1258.5 L427.2 1257.1 L424.4 1255.3 L421.7 1253.3 L419.3 1250.9 L417.2 1248.2 L415.3 1245.3 L413.7 1242.1 L412.3 1238.7 L411.3 1235.1 L410.6 1231.3 L410.2 1227.3 L410.0 1223.3 L410.2 1219.1 L410.8 1215.0 L411.6 1210.8 L412.7 1206.6 L414.1 1202.4 L415.8 1198.4 L417.8 1194.4 L420.0 1190.6 L422.5 1186.9 L425.1 1183.4 L428.0 1180.2 L431.1 1177.2 L434.3 1174.4 L437.6 1172.0 L441.0 1169.9 L444.6 1168.0 L448.1 1166.6 L451.7 1165.4 L455.3 1164.7" fill="none" stroke="#000" stroke-width="1.68" stroke-linecap="round" stroke-linejoin="round"/>
<ellipse cx="455.0" cy="1216.2" rx="39.8" ry="31.2" fill="none" stroke="#000" stroke-width="2.64" transform="rotate(-59.9 455.0 1216.2)"/>
<ellipse cx="450.6" cy="1216.2" rx="33.1" ry="21.9" fill="#fff" stroke="#000" stroke-width="3.36" transform="rotate(-79.6 450.6 1216.2)"/>
<path d="M460.6 1183.5 L462.2 1183.7 L463.7 1184.0 L465.2 1184.6 L466.7 1185.3 L468.0 1186.1 L469.4 1187.1 L470.6 1188.3 L471.8 1189.7 L472.9 1191.1 L473.9 1192.7 L474.8 1194.5 L475.6 1196.3 L476.3 1198.3 L476.9 1200.3 L477.4 1202.5 L477.7 1204.7 L478.0 1206.9 L478.1 1209.2 L478.1 1211.6 L478.0 1213.9 L477.7 1216.3 L477.3 1218.7 L476.9 1221.0 L476.3 1223.3 L475.6 1225.6 L474.7 1227.8 L473.8 1229.9 L472.8 1231.9 L471.7 1233.9 L470.5 1235.7 L469.3 1237.4 L467.9 1239.0 L466.5 1240.5 L465.0 1241.8 L463.5 1243.0 L462.0 1244.0" fill="none" stroke="#000" stroke-width="2.88" stroke-linecap="round" stroke-linejoin="round"/>
<path d="M466.2 1183.9 L467.6 1184.2 L468.9 1184.7 L470.2 1185.3 L471.4 1186.0 L472.6 1186.9 L473.7 1187.9 L474.8 1189.0 L475.8 1190.2 L476.7 1191.5 L477.6 1192.9 L478.3 1194.5 L479.0 1196.1 L479.7 1197.8 L480.2 1199.6 L480.6 1201.4 L481.0 1203.4 L481.2 1205.3 L481.4 1207.3 L481.4 1209.3 L481.4 1211.4 L481.3 1213.5 L481.0 1215.5 L480.7 1217.6 L480.3 1219.6 L479.8 1221.7 L479.2 1223.7 L478.5 1225.6 L477.8 1227.5 L477.0 1229.3 L476.0 1231.1 L475.1 1232.8 L474.0 1234.4 L472.9 1235.9 L471.7 1237.3 L470.5 1238.6 L469.2 1239.8" fill="none" stroke="#000" stroke-width="1.80" stroke-linecap="round" stroke-linejoin="round"/>
<path d="M470.8 1226.8 L470.4 1228.2 L469.9 1229.5 L469.3 1230.8 L468.8 1232.1 L468.2 1233.3 L467.5 1234.5 L466.9 1235.7 L466.2 1236.8 L465.4 1237.9 L464.7 1239.0 L463.9 1240.0 L463.0 1240.9 L462.2 1241.8 L461.3 1242.6 L460.4 1243.4 L459.5 1244.1 L458.6 1244.8 L457.7 1245.4 L456.7 1245.9 L455.8 1246.4 L454.8 1246.8 L453.8 1247.1 L452.8 1247.3 L451.9 1247.5 L450.9 1247.7 L449.9 1247.7 L449.0 1247.7 L448.0 1247.6 L447.1 1247.5 L446.1 1247.2 L445.2 1247.0 L444.3 1246.6 L443.4 1246.2 L442.6 1245.7 L441.8 1245.1 L441.0 1244.5" fill="none" stroke="#000" stroke-width="1.92" stroke-linecap="round" stroke-linejoin="round"/>
<path d="M472.4 1223.6 L472.1 1224.7 L471.8 1225.8 L471.4 1226.9 L471.0 1228.0 L470.6 1229.1 L470.2 1230.1 L469.7 1231.1 L469.2 1232.1 L468.7 1233.0 L468.2 1234.0 L467.6 1234.9 L467.0 1235.7 L466.4 1236.6 L465.8 1237.4 L465.1 1238.1 L464.4 1238.9 L463.7 1239.5 L463.0 1240.2 L462.3 1240.8 L461.6 1241.4 L460.9 1241.9 L460.1 1242.3 L459.3 1242.8 L458.6 1243.1 L457.8 1243.5 L457.0 1243.8 L456.3 1244.0 L455.5 1244.2 L454.7 1244.3 L453.9 1244.4 L453.1 1244.4 L452.4 1244.4 L451.6 1244.4 L450.9 1244.2 L450.1 1244.1 L449.4 1243.9" fill="none" stroke="#000" stroke-width="1.56" stroke-linecap="round" stroke-linejoin="round"/>
<ellipse cx="522.2" cy="1255.0" rx="49.2" ry="37.3" fill="none" stroke="#000" stroke-width="2.88" transform="rotate(-60.5 522.2 1255.0)"/>
<ellipse cx="522.2" cy="1255.0" rx="44.6" ry="32.7" fill="none" stroke="#000" stroke-width="2.88" transform="rotate(-60.5 522.2 1255.0)"/>
<ellipse cx="580.8" cy="1291.5" rx="38.9" ry="26.8" fill="#fff" stroke="#000" stroke-width="2.88" transform="rotate(-54.7 580.8 1291.5)"/>
<ellipse cx="582.4" cy="1290.6" rx="38.9" ry="26.8" fill="#fff" stroke="#000" stroke-width="2.64" transform="rotate(-54.7 582.4 1290.6)"/>
<ellipse cx="583.5" cy="1290.5" rx="27.3" ry="18.4" fill="none" stroke="#000" stroke-width="3.12" transform="rotate(-56.7 583.5 1290.5)"/>
<path d="M592.1 1268.1 L593.5 1268.3 L594.9 1268.6 L596.2 1269.1 L597.4 1269.7 L598.5 1270.5 L599.5 1271.5 L600.4 1272.5 L601.2 1273.7 L601.9 1275.0 L602.5 1276.4 L602.9 1277.8 L603.2 1279.4 L603.4 1281.1 L603.5 1282.8 L603.4 1284.6 L603.2 1286.4 L602.9 1288.2 L602.4 1290.0 L601.8 1291.9 L601.1 1293.7 L600.3 1295.6 L599.4 1297.4 L598.3 1299.1 L597.2 1300.8 L596.0 1302.4 L594.7 1303.9 L593.3 1305.4 L591.9 1306.7 L590.4 1307.9 L588.8 1309.0 L587.3 1310.0 L585.7 1310.9 L584.1 1311.6 L582.5 1312.2 L580.9 1312.6 L579.4 1312.9" fill="none" stroke="#000" stroke-width="2.40" stroke-linecap="round" stroke-linejoin="round"/>
<path d="M631.4 1361.3 L620.6 1359.9 L618.0 1358.7 L615.5 1357.3 L613.3 1355.4 L611.4 1353.2 L609.7 1350.7 L608.3 1348.0 L607.2 1344.9 L606.5 1341.7 L606.1 1338.2 L606.0 1334.6 L606.2 1330.9 L606.8 1327.1 L607.7 1323.3 L608.9 1319.5 L610.4 1315.8 L612.2 1312.1 L614.3 1308.6 L616.6 1305.3 L619.2 1302.2 L621.9 1299.3 L624.8 1296.7 L627.8 1294.4 L630.9 1292.4 L634.1 1290.8 L637.3 1289.6 L640.5 1288.7 L643.6 1288.3 L646.7 1288.2 L649.7 1288.5 L652.5 1289.2 L662.1 1293.0" fill="#fff" stroke="#000" stroke-width="3.12" stroke-linecap="round" stroke-linejoin="round"/>
<ellipse cx="646.8" cy="1327.2" rx="37.6" ry="26.4" fill="#fff" stroke="#000" stroke-width="3.12" transform="rotate(-60.1 646.8 1327.2)"/>
<path d="M632.4 1360.0 L630.5 1359.4 L628.8 1358.5 L627.1 1357.5 L625.6 1356.3 L624.1 1354.9 L622.8 1353.4 L621.7 1351.7 L620.7 1349.8 L619.8 1347.8 L619.1 1345.7 L618.6 1343.5 L618.3 1341.2 L618.1 1338.8 L618.0 1336.3 L618.2 1333.8 L618.5 1331.2 L619.0 1328.6 L619.6 1326.0 L620.4 1323.4 L621.4 1320.8 L622.5 1318.3 L623.8 1315.8 L625.1 1313.4 L626.7 1311.1 L628.3 1308.8 L630.0 1306.7 L631.9 1304.7 L633.8 1302.8 L635.8 1301.1 L637.9 1299.6 L640.0 1298.2 L642.1 1296.9 L644.3 1295.9 L646.5 1295.0 L648.7 1294.4 L650.8 1293.9" fill="none" stroke="#000" stroke-width="1.56" stroke-linecap="round" stroke-linejoin="round"/>
<ellipse cx="646.8" cy="1327.2" rx="32.1" ry="22.5" fill="none" stroke="#000" stroke-width="2.88" transform="rotate(-66.5 646.8 1327.2)"/>
<path d="M650.3 1298.9 L651.2 1299.7 L652.0 1300.5 L652.8 1301.4 L653.6 1302.3 L654.3 1303.3 L654.9 1304.4 L655.5 1305.5 L656.0 1306.7 L656.5 1307.9 L656.9 1309.2 L657.2 1310.5 L657.5 1311.8 L657.7 1313.2 L657.9 1314.7 L658.0 1316.1 L658.0 1317.6 L658.0 1319.1 L657.9 1320.6 L657.8 1322.1 L657.5 1323.7 L657.2 1325.2 L656.9 1326.8 L656.5 1328.3 L656.0 1329.8 L655.5 1331.4 L654.9 1332.9 L654.3 1334.4 L653.6 1335.8 L652.9 1337.2 L652.1 1338.6 L651.2 1340.0 L650.4 1341.3 L649.4 1342.6 L648.5 1343.8 L647.5 1345.0 L646.4 1346.1" fill="none" stroke="#000" stroke-width="3.12" stroke-linecap="round" stroke-linejoin="round"/>
<path d="M670.8 1320.8 L670.7 1322.0 L670.6 1323.2 L670.5 1324.5 L670.3 1325.7 L670.1 1327.0 L669.8 1328.2 L669.5 1329.5 L669.2 1330.7 L668.8 1331.9 L668.4 1333.2 L667.9 1334.4 L667.4 1335.6 L666.9 1336.8 L666.3 1337.9 L665.7 1339.1 L665.0 1340.2 L664.4 1341.3 L663.7 1342.4 L662.9 1343.4 L662.2 1344.4 L661.4 1345.4 L660.6 1346.4 L659.7 1347.3 L658.9 1348.2 L658.0 1349.0 L657.1 1349.8 L656.2 1350.5 L655.3 1351.2 L654.3 1351.9 L653.4 1352.5 L652.4 1353.1 L651.4 1353.6 L650.5 1354.0 L649.5 1354.4 L648.5 1354.8 L647.5 1355.1" fill="none" stroke="#000" stroke-width="1.56" stroke-linecap="round" stroke-linejoin="round"/>
<path d="M756.0 1264.4 L778.0 1275.5" fill="none" stroke="#000" stroke-width="2.04" stroke-linecap="butt" stroke-linejoin="round" stroke-dasharray="9 6"/>
<path d="M769.0 1268.5 L778.6 1275.8 L767.5 1279.5" fill="none" stroke="#000" stroke-width="2.04" stroke-linecap="butt" stroke-linejoin="round"/>
<path d="M775.0 1278.5 L689.0 1328.6" fill="none" stroke="#000" stroke-width="2.04" stroke-linecap="butt" stroke-linejoin="round" stroke-dasharray="11 7"/>
<path d="M693.5 1325.0 L686.6 1329.6 L694.0 1333.0" fill="none" stroke="#000" stroke-width="2.04" stroke-linecap="butt" stroke-linejoin="round"/>
<path d="M694.0 1334.0 L707.5 1340.5" fill="none" stroke="#000" stroke-width="2.04" stroke-linecap="butt" stroke-linejoin="round" stroke-dasharray="9 6"/>
<path d="M588.4 1367.4 L651.2 1402.9" fill="none" stroke="#000" stroke-width="2.04" stroke-linecap="butt" stroke-linejoin="round" stroke-dasharray="10 7"/>
<path d="M639.0 1423.5 L725.8 1329.6 L728.0 1322.5 L733.0 1317.5 L741.6 1317.2 L748.0 1313.0 L755.4 1307.9 L765.2 1304.2 L773.5 1305.5 L774.0 1293.0 L777.5 1287.8 L786.5 1284.4 L793.5 1287.0 L797.5 1291.0 L803.0 1287.8 L809.3 1286.4 L815.0 1288.5 L858.0 1314.7 L862.5 1323.5 L866.9 1331.5 L876.5 1336.0 L882.4 1343.8 L884.6 1357.0 L885.4 1447.8 L882.0 1457.6 L881.0 1501.0 L866.0 1509.5 L852.0 1503.0 L840.0 1499.0 L828.3 1495.5 L816.0 1500.0 L806.0 1507.0 L796.0 1508.0 L789.0 1500.0 L784.0 1497.0 L767.0 1510.0 L767.5 1520.0 L765.0 1548.0 L757.0 1556.0 L740.0 1560.0 L720.0 1557.0 L708.0 1548.0 L705.5 1533.0 L655.0 1511.0 L640.0 1507.0 L630.0 1510.0 L617.0 1509.5 L604.0 1498.0 L597.0 1480.0 L556.0 1443.0 L543.0 1444.5 L528.0 1438.0 L522.0 1428.0 L520.7 1399.0 L523.0 1392.0 L532.0 1386.0 L540.0 1384.0 L541.0 1378.0 L548.0 1375.0 L558.0 1375.5 L563.0 1379.0 L563.5 1384.5 L573.0 1388.0 L582.0 1396.0 L584.0 1403.0 L592.0 1408.0 L600.0 1411.0 Z" fill="#fff" stroke="none"/>
<path d="M520.7 1399 L521.6 1428.6 C523 1434 527 1437.5 532 1439 L543.1 1444.3 L555 1442.5 L597 1481" fill="none" stroke="#000" stroke-width="3.36" stroke-linecap="round" stroke-linejoin="round" />
<path d="M531 1438.5 C535 1442 541 1443.5 547 1442" fill="none" stroke="#000" stroke-width="2.40" stroke-linecap="round" stroke-linejoin="round" />
<path d="M520.7 1399 C521 1389 535 1383.5 551.7 1383.5 C569 1383.5 583 1390 583 1399.5 C583 1402 582 1404 580.5 1405.5" fill="none" stroke="#000" stroke-width="2.88" stroke-linecap="round" stroke-linejoin="round" />
<path d="M583 1403 C590 1408 598 1411 606 1413.5 L636.2 1424.3" fill="none" stroke="#000" stroke-width="3.36" stroke-linecap="round" stroke-linejoin="round" />
<path d="M524 1404 C530 1412 545 1414.5 558 1413 C570 1411.5 578 1407 580.5 1402" fill="none" stroke="#000" stroke-width="1.68" stroke-linecap="round" stroke-linejoin="round" />
<path d="M549 1414.5 C562 1415 575 1411 581 1405" fill="none" stroke="#000" stroke-width="1.68" stroke-linecap="round" stroke-linejoin="round" />
<path d="M540.5 1386 L541 1401 C545 1405.5 560 1405.5 563.5 1400.5 L563.5 1385.5" fill="#fff" stroke="#000" stroke-width="2.88" stroke-linecap="round" stroke-linejoin="round" />
<ellipse cx="552.0" cy="1384.5" rx="11.5" ry="5.0" fill="#fff" stroke="#000" stroke-width="2.64" transform="rotate(0.0 552.0 1384.5)"/>
<path d="M545 1385 C548 1388 556 1388 559 1385.5" fill="none" stroke="#000" stroke-width="1.68" stroke-linecap="round" stroke-linejoin="round" />
<path d="M536.5 1398 C537 1406 566 1407.5 568 1398.5" fill="none" stroke="#000" stroke-width="2.64" stroke-linecap="round" stroke-linejoin="round" />
<path d="M541.0 1413.0 L541.0 1430.0" fill="none" stroke="#000" stroke-width="1.68" stroke-linecap="butt" stroke-linejoin="round"/>
<path d="M563.0 1430.0 L563.0 1444.0" fill="none" stroke="#000" stroke-width="1.68" stroke-linecap="butt" stroke-linejoin="round"/>
<path d="M543.0 1414.5 L597.0 1446.0" fill="none" stroke="#000" stroke-width="2.40" stroke-linecap="butt" stroke-linejoin="round"/>
<ellipse cx="620.4" cy="1473.5" rx="37.0" ry="22.1" fill="#fff" stroke="#000" stroke-width="3.36" transform="rotate(-111.2 620.4 1473.5)"/>
<ellipse cx="619.8" cy="1473.5" rx="31.5" ry="15.4" fill="none" stroke="#000" stroke-width="2.88" transform="rotate(-101.6 619.8 1473.5)"/>
<path d="M621.1 1446.4 L622.2 1446.9 L623.2 1447.6 L624.3 1448.5 L625.3 1449.5 L626.4 1450.6 L627.4 1451.8 L628.4 1453.2 L629.3 1454.6 L630.2 1456.2 L631.1 1457.8 L631.9 1459.5 L632.6 1461.3 L633.3 1463.2 L634.0 1465.1 L634.5 1467.0 L635.1 1469.0 L635.5 1471.1 L635.9 1473.1 L636.1 1475.1 L636.4 1477.1 L636.5 1479.1 L636.6 1481.1 L636.5 1483.1 L636.4 1484.9 L636.3 1486.8 L636.0 1488.5 L635.7 1490.2 L635.3 1491.8 L634.8 1493.2 L634.3 1494.6 L633.7 1495.9 L633.0 1497.0 L632.3 1498.1 L631.5 1499.0 L630.7 1499.7 L629.8 1500.3" fill="none" stroke="#000" stroke-width="1.68" stroke-linecap="round" stroke-linejoin="round"/>
<path d="M624.8 1503.9 L623.7 1504.1 L622.6 1504.0 L621.4 1503.9 L620.3 1503.5 L619.1 1503.0 L618.0 1502.4 L616.8 1501.6 L615.7 1500.6 L614.6 1499.6 L613.4 1498.3 L612.4 1497.0 L611.3 1495.5 L610.3 1493.9 L609.3 1492.2 L608.4 1490.5 L607.6 1488.6 L606.8 1486.6 L606.0 1484.6 L605.3 1482.5 L604.7 1480.4 L604.2 1478.3 L603.8 1476.1 L603.4 1473.9 L603.1 1471.7 L602.9 1469.5 L602.7 1467.4 L602.7 1465.3 L602.7 1463.2 L602.8 1461.2 L603.1 1459.2 L603.3 1457.4 L603.7 1455.6 L604.2 1453.9 L604.7 1452.3 L605.3 1450.8 L605.9 1449.5" fill="none" stroke="#000" stroke-width="1.68" stroke-linecap="round" stroke-linejoin="round"/>
<path d="M637 1451 C642 1462 644 1478 641 1492" fill="none" stroke="#000" stroke-width="1.68" stroke-linecap="round" stroke-linejoin="round" />
<path d="M641 1455 C648 1466 648 1482 644 1497" fill="none" stroke="#000" stroke-width="1.68" stroke-linecap="round" stroke-linejoin="round" />
<path d="M605.6 1436.5 L639.0 1423.5" fill="none" stroke="#000" stroke-width="2.88" stroke-linecap="butt" stroke-linejoin="round"/>
<path d="M639 1423.5 L725.8 1329.6" fill="none" stroke="#000" stroke-width="4.32" stroke-linecap="round" stroke-linejoin="round" />
<path d="M725.8 1329.6 C727 1322 731 1318 736 1317.3 L741.6 1317.5 C746 1315 750 1311 755.4 1307.9 C759 1305.5 763 1304.2 767 1304.5 L773.5 1305.8" fill="none" stroke="#000" stroke-width="3.36" stroke-linecap="round" stroke-linejoin="round" />
<path d="M690 1372 L727 1331.5" fill="none" stroke="#000" stroke-width="1.44" stroke-linecap="round" stroke-linejoin="round" />
<path d="M773.5 1306 L774 1293 C775 1289 780 1285.5 786.5 1284.4 C790 1284.5 794 1287 796 1290.5 L798 1291 C800 1288.5 805 1286.5 809.3 1286.4 L815 1288.5 L858 1314.7 L862.5 1323.5 C864 1328 866 1331 869 1332.5 L876.5 1336 C880 1338.5 882 1341 882.8 1345 L884.6 1357 L885.4 1447.8 L882 1457.6 L881 1501 L866 1509.5 L852 1503" fill="none" stroke="#000" stroke-width="3.36" stroke-linecap="round" stroke-linejoin="round" />
<path d="M774 1305.5 L790 1302.5 L792.5 1291.5" fill="none" stroke="#000" stroke-width="2.64" stroke-linecap="round" stroke-linejoin="round" />
<ellipse cx="781.3" cy="1298.3" rx="4.4" ry="4.0" fill="none" stroke="#000" stroke-width="2.64" transform="rotate(0.0 781.3 1298.3)"/>
<circle cx="780.5" cy="1298.8" r="2.0" fill="#000" stroke="none" stroke-width="0"/>
<path d="M786 1290 L794 1296 M795.5 1297.5 C797 1302 803 1302.5 807 1297" fill="none" stroke="#000" stroke-width="1.68" stroke-linecap="round" stroke-linejoin="round" />
<path d="M806.3 1294.7 L841.8 1315.4 L834.4 1322.5 M807.8 1302.9 L834.4 1319.3 M834.4 1322 L835 1327" fill="none" stroke="#000" stroke-width="2.40" stroke-linecap="round" stroke-linejoin="round" />
<path d="M741.6 1318 L777 1339 C781 1342 783.5 1345.5 785.3 1349.5 L804.6 1396.5 L810.5 1400.5" fill="none" stroke="#000" stroke-width="3.36" stroke-linecap="round" stroke-linejoin="round" />
<path d="M731 1327.5 C735 1326.5 739 1327 743 1329 L769.2 1345.3 C773 1348 775.5 1351 777.3 1355.5 L796.7 1402.5 L800.7 1410.3" fill="none" stroke="#000" stroke-width="1.68" stroke-linecap="round" stroke-linejoin="round" />
<path d="M773 1352 L791.5 1397.5" fill="none" stroke="#000" stroke-width="1.68" stroke-linecap="round" stroke-linejoin="round" />
<path d="M757.3 1309.8 L802.7 1329.6 C808 1333 812 1338 814.5 1345.3 L832.2 1384.7 L835.5 1390" fill="none" stroke="#000" stroke-width="3.36" stroke-linecap="round" stroke-linejoin="round" />
<path d="M760 1314.5 L797 1331.5 C802 1335 805 1339 807.5 1345 L824 1385 L829.5 1388.5" fill="none" stroke="#000" stroke-width="1.68" stroke-linecap="round" stroke-linejoin="round" />
<path d="M803 1343 L819.5 1383.5" fill="none" stroke="#000" stroke-width="1.68" stroke-linecap="round" stroke-linejoin="round" />
<path d="M785.6 1350.1 L801.9 1342.8" fill="none" stroke="#000" stroke-width="2.40" stroke-linecap="butt" stroke-linejoin="round"/>
<path d="M816.6 1337.6 L849.2 1329.5" fill="none" stroke="#000" stroke-width="2.40" stroke-linecap="butt" stroke-linejoin="round"/>
<path d="M797.0 1391.5 L803.0 1389.0" fill="none" stroke="#000" stroke-width="2.40" stroke-linecap="butt" stroke-linejoin="round"/>
<path d="M850.6 1322.1 C851.5 1327 853 1330 856 1332 L874.3 1342.8" fill="none" stroke="#000" stroke-width="1.68" stroke-linecap="round" stroke-linejoin="round" />
<path d="M849.2 1333.9 C850 1345 852 1354 856.5 1360.5 C859 1364 862 1366.5 865.4 1367.9" fill="none" stroke="#000" stroke-width="1.68" stroke-linecap="round" stroke-linejoin="round" />
<path d="M872.8 1347.2 C875 1353 875.5 1358 874.3 1363.4 C872 1371 868 1376 864 1378.2 C858 1379.5 852 1378.5 847.7 1376.7" fill="none" stroke="#000" stroke-width="2.40" stroke-linecap="round" stroke-linejoin="round" />
<path d="M856 1366 C855 1371 851 1374.5 846.5 1376" fill="none" stroke="#000" stroke-width="1.68" stroke-linecap="round" stroke-linejoin="round" />
<path d="M868.3 1348.4 L868.5 1348.8 L868.7 1349.1 L868.8 1349.5 L868.9 1349.9 L868.9 1350.3 L868.9 1350.7 L868.8 1351.1 L868.6 1351.5 L868.4 1351.9 L868.2 1352.2 L867.9 1352.5 L867.6 1352.8 L867.2 1353.1 L866.8 1353.3 L866.4 1353.5 L866.0 1353.6 L865.5 1353.7 L865.1 1353.8 L864.6 1353.8 L864.1 1353.8 L863.7 1353.7 L863.2 1353.6 L862.8 1353.4 L862.4 1353.2 L862.0 1353.0 L861.7 1352.7 L861.4 1352.4 L861.1 1352.1 L860.9 1351.7 L860.7 1351.3 L860.6 1350.9 L860.5 1350.5 L860.5 1350.1 L860.5 1349.7 L860.6 1349.4 L860.8 1349.0" fill="none" stroke="#000" stroke-width="2.64" stroke-linecap="round" stroke-linejoin="round"/>
<circle cx="865.5" cy="1351.0" r="1.8" fill="#000" stroke="none" stroke-width="0"/>
<path d="M834 1375 L843 1373" fill="none" stroke="#000" stroke-width="2.40" stroke-linecap="round" stroke-linejoin="round" />
<path d="M765.2 1364 L696.3 1426.1 C693 1429 691.5 1432 692.3 1437.5" fill="none" stroke="#000" stroke-width="2.40" stroke-linecap="round" stroke-linejoin="round" />
<path d="M651 1418.2 C660 1422 668 1427.5 674.6 1434 C681 1441 685.5 1450 690.3 1459.6" fill="none" stroke="#000" stroke-width="1.68" stroke-linecap="round" stroke-linejoin="round" />
<path d="M642 1427.5 C655 1431 668 1438 678.5 1445.8 C684 1451 688 1457.5 692 1463.5 L698.2 1465.5 L769.2 1446.8 L784.9 1444.8" fill="none" stroke="#000" stroke-width="2.40" stroke-linecap="round" stroke-linejoin="round" />
<path d="M658.8 1463.5 L678.5 1457.6" fill="none" stroke="#000" stroke-width="2.40" stroke-linecap="butt" stroke-linejoin="round"/>
<path d="M637 1458 C643 1461 648 1466 651 1472 C653.5 1477 655 1482 655.5 1486" fill="none" stroke="#000" stroke-width="1.68" stroke-linecap="round" stroke-linejoin="round" />
<path d="M647 1477.3 L664.7 1485.2 L696.3 1473.4" fill="none" stroke="#000" stroke-width="2.40" stroke-linecap="round" stroke-linejoin="round" />
<path d="M701 1471.5 L706.1 1471.4 L711 1475.5 M706.1 1471.4 L788.9 1455.7 M708.1 1477.3 C710 1482 714 1485.5 718 1486.5" fill="none" stroke="#000" stroke-width="2.40" stroke-linecap="round" stroke-linejoin="round" />
<path d="M712 1478.5 L735 1472 M715 1481.5 L792.8 1460.5" fill="none" stroke="#000" stroke-width="1.68" stroke-linecap="round" stroke-linejoin="round" />
<path d="M711 1484 L725 1489 M718 1486.5 L795 1466" fill="none" stroke="#000" stroke-width="2.40" stroke-linecap="round" stroke-linejoin="round" />
<path d="M772 1452 L795 1442 M775 1456 L796 1447" fill="none" stroke="#000" stroke-width="1.68" stroke-linecap="round" stroke-linejoin="round" />
<path d="M617.4 1508.9 C622 1510.5 628 1509.5 633 1506.5 L640 1505.5 L654.9 1510.8 L706.1 1532.5" fill="none" stroke="#000" stroke-width="3.36" stroke-linecap="round" stroke-linejoin="round" />
<path d="M640 1505.5 C644 1510 650 1512 656 1511" fill="none" stroke="#000" stroke-width="2.40" stroke-linecap="round" stroke-linejoin="round" />
<path d="M646.6 1477.8 L705.2 1513" fill="none" stroke="#000" stroke-width="2.40" stroke-linecap="round" stroke-linejoin="round" />
<path d="M688.5 1507.0 L688.5 1522.0" fill="none" stroke="#000" stroke-width="1.68" stroke-linecap="butt" stroke-linejoin="round"/>
<path d="M704.1 1506 C705 1496.5 719 1489.5 735.7 1489.5 C753 1489.5 766.5 1497 767.2 1506.5 L765 1548 C762 1555 752 1560 740 1560 C722 1560 709 1553 706.5 1545 Z" fill="#fff" stroke="#000" stroke-width="3.36" stroke-linecap="round" stroke-linejoin="round" />
<path d="M706.5 1510 C712 1516 718 1518.5 724 1519.5 M731 1521 C745 1522 758 1518 766 1510" fill="none" stroke="#000" stroke-width="1.68" stroke-linecap="round" stroke-linejoin="round" />
<path d="M707 1544 C714 1552 728 1556 742 1554.5 C753 1553 761 1549 765 1544" fill="none" stroke="#000" stroke-width="2.40" stroke-linecap="round" stroke-linejoin="round" />
<path d="M712 1551 C720 1557 735 1560 748 1557.5" fill="none" stroke="#000" stroke-width="1.68" stroke-linecap="round" stroke-linejoin="round" />
<ellipse cx="759.0" cy="1544.5" rx="5.5" ry="3.2" fill="#fff" stroke="#000" stroke-width="2.16" transform="rotate(-30.0 759.0 1544.5)"/>
<path d="M725 1491 L725.3 1507 C729 1511.5 745 1511.5 748.3 1506.5 L748.3 1491" fill="#fff" stroke="#000" stroke-width="2.88" stroke-linecap="round" stroke-linejoin="round" />
<ellipse cx="736.7" cy="1490.5" rx="11.6" ry="5.0" fill="#fff" stroke="#000" stroke-width="2.64" transform="rotate(0.0 736.7 1490.5)"/>
<path d="M731 1491 C733 1494 741 1494 743.5 1491.5" fill="none" stroke="#000" stroke-width="1.68" stroke-linecap="round" stroke-linejoin="round" />
<path d="M721 1504 C722 1512 751 1513 752.5 1504.5" fill="none" stroke="#000" stroke-width="2.64" stroke-linecap="round" stroke-linejoin="round" />
<path d="M767 1503 C775 1498 782 1494 789 1488" fill="none" stroke="#000" stroke-width="2.40" stroke-linecap="round" stroke-linejoin="round" />
<path d="M763 1512 L769 1513.5 C776 1511 783 1504 789 1497" fill="none" stroke="#000" stroke-width="2.40" stroke-linecap="round" stroke-linejoin="round" />
<path d="M789.4 1497 C791 1505 798 1509.5 806 1508.5 C812 1507.5 816 1503 816.5 1497" fill="none" stroke="#000" stroke-width="3.36" stroke-linecap="round" stroke-linejoin="round" />
<path d="M795 1491.5 L816.5 1496.5 M840 1499 L828.3 1495 L824 1497" fill="none" stroke="#000" stroke-width="2.40" stroke-linecap="round" stroke-linejoin="round" />
<path d="M788.9 1426.1 L812.5 1394.6 L849.9 1382.8 L857.8 1386.7 L859.8 1396.6 L881.5 1400.5 L881.5 1453.7 L855.9 1483.3 L816.5 1495.0 L788.9 1473.4 Z" fill="#fff" stroke="#000" stroke-width="3.12" stroke-linecap="round" stroke-linejoin="round"/>
<path d="M793.5 1428.0 L815.0 1398.5 L849.0 1387.5 L854.5 1390.5 L856.5 1400.5 L876.5 1404.5 L876.5 1452.0 L853.5 1479.0 L817.5 1490.0 L793.5 1471.0 Z" fill="none" stroke="#000" stroke-width="1.56" stroke-linecap="round" stroke-linejoin="round"/>
<path d="M782.5 1455 L783 1474 L789 1478 M786 1454.5 L786.3 1472" fill="none" stroke="#000" stroke-width="2.40" stroke-linecap="round" stroke-linejoin="round" />
<path d="M780 1414 C785 1410 790 1408 793 1403 M779.5 1414.5 C778 1422 778.5 1432 779.5 1438" fill="none" stroke="#000" stroke-width="1.68" stroke-linecap="round" stroke-linejoin="round" />
<path d="M838 1394.8 C851 1394 858 1404 859.5 1418 C860.5 1432 856 1441 851.5 1446.5 L829 1468.5 C820 1474.5 808 1473 803 1463 C797.5 1450 798.5 1432 805 1418 C812 1404 824 1395.5 838 1394.8 Z" fill="#fff" stroke="#000" stroke-width="3.60" stroke-linecap="round" stroke-linejoin="round" />
<path d="M846 1395.5 C860 1397 869 1412 869.5 1428 C870 1442 866 1452 862 1459" fill="none" stroke="#000" stroke-width="1.68" stroke-linecap="round" stroke-linejoin="round" />
<path d="M851.5 1446.5 C856 1440 858.5 1430 858 1418" fill="none" stroke="#000" stroke-width="2.40" stroke-linecap="round" stroke-linejoin="round" />
<path d="M803.5 1460 L826 1470 M803 1456 C810 1466 820 1470 830 1468" fill="none" stroke="#000" stroke-width="2.88" stroke-linecap="round" stroke-linejoin="round" />
<path d="M806 1470 C818 1480 840 1479 855 1470" fill="none" stroke="#000" stroke-width="1.68" stroke-linecap="round" stroke-linejoin="round" />
<circle cx="817.4" cy="1399.5" r="5.0" fill="#000" stroke="none" stroke-width="0"/>
<circle cx="818.8" cy="1398.3" r="1.0" fill="#fff" stroke="none" stroke-width="0"/>
<circle cx="851.9" cy="1387.7" r="5.0" fill="#000" stroke="none" stroke-width="0"/>
<circle cx="853.3" cy="1386.5" r="1.0" fill="#fff" stroke="none" stroke-width="0"/>
<circle cx="874.6" cy="1407.4" r="5.0" fill="#000" stroke="none" stroke-width="0"/>
<circle cx="876.0" cy="1406.2" r="1.0" fill="#fff" stroke="none" stroke-width="0"/>
<circle cx="873.6" cy="1446.8" r="5.0" fill="#000" stroke="none" stroke-width="0"/>
<circle cx="875.0" cy="1445.6" r="1.0" fill="#fff" stroke="none" stroke-width="0"/>
<circle cx="851.9" cy="1477.3" r="5.0" fill="#000" stroke="none" stroke-width="0"/>
<circle cx="853.3" cy="1476.1" r="1.0" fill="#fff" stroke="none" stroke-width="0"/>
<circle cx="817.4" cy="1490.1" r="5.0" fill="#000" stroke="none" stroke-width="0"/>
<circle cx="818.8" cy="1488.9" r="1.0" fill="#fff" stroke="none" stroke-width="0"/>
<circle cx="793.8" cy="1468.5" r="5.0" fill="#000" stroke="none" stroke-width="0"/>
<circle cx="795.2" cy="1467.3" r="1.0" fill="#fff" stroke="none" stroke-width="0"/>
<circle cx="795.8" cy="1430.0" r="5.0" fill="#000" stroke="none" stroke-width="0"/>
<circle cx="797.2" cy="1428.8" r="1.0" fill="#fff" stroke="none" stroke-width="0"/>
<path d="M855.9 1483.3 C860 1481 864 1480 868 1482 M851.9 1480 L852.5 1489" fill="none" stroke="#000" stroke-width="2.40" stroke-linecap="round" stroke-linejoin="round" />
<path d="M864.7 1490.9 L865.0 1491.4 L865.2 1491.9 L865.4 1492.4 L865.5 1492.9 L865.6 1493.5 L865.6 1494.1 L865.6 1494.7 L865.5 1495.3 L865.4 1495.8 L865.2 1496.3 L865.0 1496.8 L864.7 1497.3 L864.4 1497.7 L864.1 1498.1 L863.7 1498.4 L863.3 1498.7 L862.9 1498.9 L862.5 1499.0 L862.0 1499.1 L861.6 1499.1 L861.1 1499.0 L860.7 1498.9 L860.3 1498.7 L859.9 1498.4 L859.5 1498.1 L859.2 1497.7 L858.9 1497.3 L858.6 1496.8 L858.4 1496.3 L858.2 1495.8 L858.1 1495.3 L858.0 1494.7 L858.0 1494.1 L858.0 1493.5 L858.1 1492.9 L858.2 1492.4" fill="none" stroke="#000" stroke-width="2.64" stroke-linecap="round" stroke-linejoin="round"/>
<circle cx="862.5" cy="1495.0" r="1.6" fill="#000" stroke="none" stroke-width="0"/>
<path d="M872.5 1488.0 L872.5 1504.0" fill="none" stroke="#000" stroke-width="1.68" stroke-linecap="butt" stroke-linejoin="round"/>
<path d="M866 1466 C872 1463 877 1464 880 1467" fill="none" stroke="#000" stroke-width="1.68" stroke-linecap="round" stroke-linejoin="round" />
<path d="M881.5 1400.5 L881.5 1453.7" fill="none" stroke="#000" stroke-width="2.40" stroke-linecap="butt" stroke-linejoin="round"/>
<ellipse cx="690.7" cy="1221.1" rx="14.6" ry="11.5" fill="#fff" stroke="#000" stroke-width="3.60" transform="rotate(-70.0 690.7 1221.1)"/>
<ellipse cx="693.6" cy="1222.7" rx="14.1" ry="11.0" fill="#fff" stroke="#000" stroke-width="2.64" transform="rotate(-70.0 693.6 1222.7)"/>
<path d="M701.2 1215.9 L714.3 1223.2 L715.6 1227.1 L732.9 1236.7 L733.7 1239.4 L729.0 1247.8 L726.3 1248.6 L709.0 1239.0 L705.0 1240.0 L691.9 1232.7 Z" fill="#fff" stroke="#000" stroke-width="3.12" stroke-linecap="round" stroke-linejoin="round"/>
<path d="M693.1 1233.0 L692.6 1233.0 L692.1 1232.8 L691.7 1232.6 L691.3 1232.3 L691.0 1231.9 L690.7 1231.4 L690.5 1230.9 L690.4 1230.2 L690.3 1229.6 L690.3 1228.8 L690.3 1228.0 L690.4 1227.2 L690.6 1226.4 L690.8 1225.5 L691.1 1224.6 L691.5 1223.7 L691.9 1222.8 L692.3 1222.0 L692.8 1221.1 L693.4 1220.3 L693.9 1219.6 L694.5 1218.8 L695.1 1218.2 L695.8 1217.6 L696.4 1217.1 L697.0 1216.6 L697.7 1216.2 L698.3 1215.9 L698.9 1215.7 L699.5 1215.6 L700.0 1215.6 L700.5 1215.7 L701.0 1215.8 L701.4 1216.1 L701.8 1216.4 L702.1 1216.8" fill="none" stroke="#000" stroke-width="2.88" stroke-linecap="round" stroke-linejoin="round"/>
<path d="M695.7 1234.5 L695.2 1234.4 L694.7 1234.3 L694.3 1234.1 L693.9 1233.7 L693.6 1233.3 L693.3 1232.9 L693.1 1232.3 L693.0 1231.7 L692.9 1231.0 L692.9 1230.3 L692.9 1229.5 L693.0 1228.7 L693.2 1227.8 L693.5 1227.0 L693.7 1226.1 L694.1 1225.2 L694.5 1224.3 L695.0 1223.4 L695.4 1222.6 L696.0 1221.8 L696.5 1221.0 L697.1 1220.3 L697.8 1219.6 L698.4 1219.0 L699.0 1218.5 L699.7 1218.1 L700.3 1217.7 L700.9 1217.4 L701.5 1217.2 L702.1 1217.1 L702.6 1217.1 L703.1 1217.1 L703.6 1217.3 L704.0 1217.5 L704.4 1217.8 L704.7 1218.3" fill="none" stroke="#000" stroke-width="2.88" stroke-linecap="round" stroke-linejoin="round"/>
<path d="M698.4 1235.9 L697.8 1235.9 L697.4 1235.7 L696.9 1235.5 L696.6 1235.2 L696.2 1234.8 L696.0 1234.3 L695.8 1233.8 L695.6 1233.1 L695.5 1232.5 L695.5 1231.7 L695.6 1230.9 L695.7 1230.1 L695.8 1229.3 L696.1 1228.4 L696.4 1227.5 L696.7 1226.6 L697.1 1225.8 L697.6 1224.9 L698.1 1224.0 L698.6 1223.2 L699.2 1222.5 L699.8 1221.8 L700.4 1221.1 L701.0 1220.5 L701.6 1220.0 L702.3 1219.5 L702.9 1219.1 L703.5 1218.8 L704.1 1218.6 L704.7 1218.5 L705.3 1218.5 L705.8 1218.6 L706.2 1218.7 L706.7 1219.0 L707.0 1219.3 L707.4 1219.7" fill="none" stroke="#000" stroke-width="2.88" stroke-linecap="round" stroke-linejoin="round"/>
<path d="M701.0 1237.4 L700.5 1237.3 L700.0 1237.2 L699.6 1237.0 L699.2 1236.6 L698.9 1236.2 L698.6 1235.8 L698.4 1235.2 L698.2 1234.6 L698.1 1233.9 L698.1 1233.2 L698.2 1232.4 L698.3 1231.6 L698.5 1230.7 L698.7 1229.9 L699.0 1229.0 L699.3 1228.1 L699.7 1227.2 L700.2 1226.3 L700.7 1225.5 L701.2 1224.7 L701.8 1223.9 L702.4 1223.2 L703.0 1222.5 L703.6 1221.9 L704.3 1221.4 L704.9 1221.0 L705.5 1220.6 L706.2 1220.3 L706.8 1220.1 L707.3 1220.0 L707.9 1220.0 L708.4 1220.0 L708.9 1220.2 L709.3 1220.4 L709.7 1220.8 L710.0 1221.2" fill="none" stroke="#000" stroke-width="2.88" stroke-linecap="round" stroke-linejoin="round"/>
<path d="M703.6 1238.8 L703.1 1238.8 L702.6 1238.6 L702.2 1238.4 L701.8 1238.1 L701.5 1237.7 L701.2 1237.2 L701.0 1236.7 L700.9 1236.1 L700.8 1235.4 L700.8 1234.6 L700.8 1233.9 L700.9 1233.0 L701.1 1232.2 L701.3 1231.3 L701.6 1230.4 L702.0 1229.5 L702.4 1228.7 L702.8 1227.8 L703.3 1227.0 L703.9 1226.1 L704.4 1225.4 L705.0 1224.7 L705.6 1224.0 L706.3 1223.4 L706.9 1222.9 L707.5 1222.4 L708.2 1222.0 L708.8 1221.8 L709.4 1221.6 L710.0 1221.4 L710.5 1221.4 L711.0 1221.5 L711.5 1221.6 L711.9 1221.9 L712.3 1222.2 L712.6 1222.6" fill="none" stroke="#000" stroke-width="2.88" stroke-linecap="round" stroke-linejoin="round"/>
<path d="M708.4 1239.1 L708.1 1239.0 L707.8 1238.9 L707.5 1238.7 L707.3 1238.5 L707.1 1238.1 L707.0 1237.8 L706.9 1237.4 L706.9 1236.9 L706.8 1236.4 L706.9 1235.9 L706.9 1235.3 L707.0 1234.7 L707.2 1234.1 L707.4 1233.5 L707.6 1232.9 L707.9 1232.2 L708.2 1231.6 L708.5 1231.0 L708.9 1230.3 L709.3 1229.8 L709.7 1229.2 L710.1 1228.7 L710.5 1228.2 L710.9 1227.7 L711.4 1227.3 L711.8 1226.9 L712.3 1226.6 L712.7 1226.4 L713.1 1226.2 L713.5 1226.1 L713.9 1226.0 L714.2 1226.0 L714.6 1226.0 L714.9 1226.1 L715.1 1226.3 L715.4 1226.5" fill="none" stroke="#000" stroke-width="2.16" stroke-linecap="round" stroke-linejoin="round"/>
<path d="M731.7 1236.7 L731.9 1236.9 L732.1 1237.0 L732.2 1237.2 L732.3 1237.5 L732.4 1237.8 L732.4 1238.1 L732.4 1238.4 L732.4 1238.8 L732.4 1239.2 L732.3 1239.6 L732.2 1240.0 L732.1 1240.5 L732.0 1241.0 L731.8 1241.4 L731.6 1241.9 L731.4 1242.4 L731.2 1242.9 L730.9 1243.4 L730.6 1243.8 L730.3 1244.3 L730.1 1244.7 L729.7 1245.1 L729.4 1245.5 L729.1 1245.9 L728.8 1246.3 L728.5 1246.6 L728.1 1246.8 L727.8 1247.1 L727.5 1247.3 L727.2 1247.5 L726.9 1247.6 L726.7 1247.7 L726.4 1247.7 L726.2 1247.7 L725.9 1247.7 L725.7 1247.6" fill="none" stroke="#000" stroke-width="1.68" stroke-linecap="round" stroke-linejoin="round"/>
<ellipse cx="746.4" cy="1253.1" rx="14.0" ry="10.8" fill="#fff" stroke="#000" stroke-width="3.12" transform="rotate(-61.2 746.4 1253.1)"/>
<ellipse cx="745.8" cy="1253.4" rx="7.2" ry="5.7" fill="none" stroke="#000" stroke-width="2.88" transform="rotate(-61.1 745.8 1253.4)"/>
<ellipse cx="536.1" cy="1340.1" rx="14.6" ry="9.2" fill="#fff" stroke="#000" stroke-width="3.60" transform="rotate(-80.0 536.1 1340.1)"/>
<ellipse cx="539.2" cy="1341.0" rx="14.1" ry="8.7" fill="#fff" stroke="#000" stroke-width="2.64" transform="rotate(-80.0 539.2 1341.0)"/>
<path d="M544.3 1332.3 L555.8 1335.8 L558.0 1338.8 L566.5 1341.4 L567.8 1343.9 L564.6 1354.6 L562.1 1356.0 L553.6 1353.4 L550.1 1354.6 L538.6 1351.1 Z" fill="#fff" stroke="#000" stroke-width="3.12" stroke-linecap="round" stroke-linejoin="round"/>
<path d="M539.9 1351.1 L539.4 1351.2 L538.9 1351.1 L538.4 1351.0 L537.9 1350.8 L537.5 1350.4 L537.2 1350.0 L536.8 1349.5 L536.6 1348.9 L536.3 1348.3 L536.2 1347.5 L536.0 1346.8 L536.0 1345.9 L536.0 1345.0 L536.0 1344.1 L536.1 1343.2 L536.3 1342.2 L536.5 1341.2 L536.8 1340.3 L537.1 1339.3 L537.4 1338.4 L537.9 1337.5 L538.3 1336.7 L538.8 1335.9 L539.3 1335.2 L539.8 1334.5 L540.3 1333.9 L540.9 1333.4 L541.4 1333.0 L542.0 1332.7 L542.5 1332.4 L543.1 1332.3 L543.6 1332.2 L544.1 1332.3 L544.6 1332.4 L545.0 1332.7 L545.4 1333.0" fill="none" stroke="#000" stroke-width="2.88" stroke-linecap="round" stroke-linejoin="round"/>
<path d="M542.8 1352.0 L542.2 1352.1 L541.7 1352.0 L541.3 1351.9 L540.8 1351.7 L540.4 1351.3 L540.0 1350.9 L539.7 1350.4 L539.4 1349.8 L539.2 1349.2 L539.0 1348.4 L538.9 1347.6 L538.8 1346.8 L538.8 1345.9 L538.9 1345.0 L539.0 1344.0 L539.2 1343.1 L539.4 1342.1 L539.6 1341.2 L540.0 1340.2 L540.3 1339.3 L540.7 1338.4 L541.2 1337.6 L541.6 1336.8 L542.1 1336.0 L542.7 1335.4 L543.2 1334.8 L543.7 1334.3 L544.3 1333.9 L544.9 1333.5 L545.4 1333.3 L546.0 1333.2 L546.5 1333.1 L547.0 1333.2 L547.5 1333.3 L547.9 1333.6 L548.3 1333.9" fill="none" stroke="#000" stroke-width="2.88" stroke-linecap="round" stroke-linejoin="round"/>
<path d="M545.6 1352.9 L545.1 1352.9 L544.6 1352.9 L544.1 1352.8 L543.7 1352.5 L543.3 1352.2 L542.9 1351.8 L542.6 1351.3 L542.3 1350.7 L542.1 1350.0 L541.9 1349.3 L541.8 1348.5 L541.7 1347.7 L541.7 1346.8 L541.8 1345.9 L541.9 1344.9 L542.0 1344.0 L542.2 1343.0 L542.5 1342.0 L542.8 1341.1 L543.2 1340.2 L543.6 1339.3 L544.0 1338.4 L544.5 1337.6 L545.0 1336.9 L545.5 1336.3 L546.1 1335.7 L546.6 1335.2 L547.2 1334.7 L547.7 1334.4 L548.3 1334.2 L548.8 1334.0 L549.4 1334.0 L549.9 1334.0 L550.3 1334.2 L550.8 1334.4 L551.2 1334.8" fill="none" stroke="#000" stroke-width="2.88" stroke-linecap="round" stroke-linejoin="round"/>
<path d="M548.5 1353.8 L548.0 1353.8 L547.5 1353.8 L547.0 1353.6 L546.6 1353.4 L546.1 1353.1 L545.8 1352.7 L545.4 1352.2 L545.2 1351.6 L544.9 1350.9 L544.8 1350.2 L544.6 1349.4 L544.6 1348.5 L544.6 1347.7 L544.6 1346.7 L544.7 1345.8 L544.9 1344.8 L545.1 1343.9 L545.4 1342.9 L545.7 1342.0 L546.1 1341.0 L546.5 1340.2 L546.9 1339.3 L547.4 1338.5 L547.9 1337.8 L548.4 1337.1 L548.9 1336.5 L549.5 1336.0 L550.0 1335.6 L550.6 1335.3 L551.2 1335.0 L551.7 1334.9 L552.2 1334.9 L552.7 1334.9 L553.2 1335.1 L553.6 1335.3 L554.0 1335.7" fill="none" stroke="#000" stroke-width="2.88" stroke-linecap="round" stroke-linejoin="round"/>
<path d="M553.1 1353.6 L552.8 1353.6 L552.4 1353.5 L552.1 1353.4 L551.8 1353.1 L551.5 1352.9 L551.3 1352.5 L551.1 1352.1 L550.9 1351.6 L550.8 1351.1 L550.7 1350.5 L550.6 1349.8 L550.6 1349.2 L550.7 1348.5 L550.7 1347.7 L550.8 1347.0 L551.0 1346.3 L551.1 1345.5 L551.4 1344.7 L551.6 1344.0 L551.9 1343.3 L552.2 1342.6 L552.5 1341.9 L552.9 1341.3 L553.2 1340.7 L553.6 1340.1 L554.0 1339.6 L554.4 1339.2 L554.8 1338.8 L555.2 1338.5 L555.6 1338.3 L556.0 1338.1 L556.4 1338.0 L556.8 1338.0 L557.1 1338.0 L557.5 1338.2 L557.8 1338.4" fill="none" stroke="#000" stroke-width="2.16" stroke-linecap="round" stroke-linejoin="round"/>
<path d="M565.4 1341.7 L565.6 1341.8 L565.8 1341.9 L566.0 1342.1 L566.2 1342.4 L566.3 1342.7 L566.4 1343.0 L566.5 1343.4 L566.6 1343.8 L566.7 1344.2 L566.7 1344.7 L566.7 1345.2 L566.7 1345.8 L566.6 1346.3 L566.5 1346.9 L566.4 1347.5 L566.3 1348.0 L566.2 1348.6 L566.0 1349.2 L565.8 1349.8 L565.6 1350.4 L565.4 1350.9 L565.1 1351.5 L564.9 1352.0 L564.6 1352.5 L564.3 1352.9 L564.1 1353.3 L563.8 1353.7 L563.5 1354.0 L563.2 1354.3 L562.9 1354.6 L562.6 1354.8 L562.3 1355.0 L562.0 1355.1 L561.8 1355.1 L561.5 1355.1 L561.3 1355.1" fill="none" stroke="#000" stroke-width="1.68" stroke-linecap="round" stroke-linejoin="round"/>
<ellipse cx="576.8" cy="1360.3" rx="13.9" ry="11.2" fill="#fff" stroke="#000" stroke-width="3.12" transform="rotate(-52.6 576.8 1360.3)"/>
<ellipse cx="576.5" cy="1361.2" rx="7.3" ry="6.0" fill="none" stroke="#000" stroke-width="2.88" transform="rotate(-54.0 576.5 1361.2)"/>
<path d="M1036.9 1194.5 L1037.2 1182 C1038 1178.5 1041 1177.2 1044.7 1177.2 C1048.5 1177.2 1051.5 1178.5 1052.2 1182 L1052.4 1194.5 Z" fill="#fff" stroke="#000" stroke-width="2.88" stroke-linecap="round" stroke-linejoin="round" />
<path d="M1040 1184 C1043 1186 1047 1186 1050 1184 M1040 1189.5 C1043 1191.5 1047 1191.5 1050 1189.5" fill="none" stroke="#000" stroke-width="1.92" stroke-linecap="round" stroke-linejoin="round" />
<path d="M1034 1194 L1032.6 1197 L1032.6 1204.5 L1036 1208.5 L1053.5 1208.5 L1056.7 1204.5 L1056.7 1197 L1055 1194 C1050 1192 1039 1192 1034 1194 Z" fill="#fff" stroke="#000" stroke-width="3.12" stroke-linecap="round" stroke-linejoin="round" />
<path d="M1039.5 1196 L1039.5 1207 M1050 1196 L1050 1207 M1039.5 1199 C1043 1201 1047 1201 1050 1199" fill="none" stroke="#000" stroke-width="1.92" stroke-linecap="round" stroke-linejoin="round" />
<path d="M1038.6 1208.5 L1038.6 1219 L1041 1222 L1049 1222 L1051.6 1219 L1051.6 1208.5" fill="#fff" stroke="#000" stroke-width="2.64" stroke-linecap="round" stroke-linejoin="round" />
<path d="M1038.6 1212.5 L1051.6 1212.5 M1038.6 1216 L1051.6 1216 M1039.5 1219.5 L1050.8 1219.5" fill="none" stroke="#000" stroke-width="2.04" stroke-linecap="round" stroke-linejoin="round" />
<path d="M1014.5 1229.5 L1017.0 1226.0 L1023.1 1224.5 L1030.0 1227.2 L1042.0 1229.0 L1088.6 1255.2 L1090.3 1256.6 L1093.8 1266.4 L1109.3 1272.4 L1111.0 1288.4 L1122.2 1293.3 L1121.4 1300.0 L1131.7 1319.5 L1135.2 1333.5 L1140.3 1331.5 L1152.4 1353.4 L1152.4 1367.2 L1135.2 1377.6 L1126.6 1400.0 L1107.6 1415.5 L1104.1 1422.4 L1103.3 1439.7 L1097.2 1442.2 L1086.9 1439.7 L1080.0 1444.0 L1073.1 1441.4 L1030.0 1415.5 L1014.5 1400.0 L994.7 1343.1 L995.5 1263.0 L1013.6 1239.3 Z" fill="#fff" stroke="#000" stroke-width="3.60" stroke-linecap="round" stroke-linejoin="round"/>
<ellipse cx="1022.5" cy="1230.5" rx="5.0" ry="3.0" fill="none" stroke="#000" stroke-width="2.16" transform="rotate(-20.0 1022.5 1230.5)"/>
<path d="M1016 1238 L1030 1231 L1036 1234" fill="none" stroke="#000" stroke-width="2.40" stroke-linecap="round" stroke-linejoin="round" />
<path d="M1011.0 1269.0 L1028.0 1252.0 L1034.0 1250.5 L1049.0 1258.6 L1083.4 1281.0 L1095.5 1315.5 L1096.5 1353.0 L1092.1 1401.7 L1081.7 1417.2 L1071.4 1425.9 L1029.1 1400.0 L1025.7 1393.1 L1010.2 1350.0 Z" fill="none" stroke="#000" stroke-width="2.40" stroke-linecap="round" stroke-linejoin="round"/>
<path d="M1030 1233.5 L1074 1256 L1086 1262 M1036 1239 L1072 1258.5 M1086 1262 L1090 1271 L1109 1279" fill="none" stroke="#000" stroke-width="2.40" stroke-linecap="round" stroke-linejoin="round" />
<path d="M1086 1263 L1109.5 1320 L1110.5 1390 L1106 1412" fill="none" stroke="#000" stroke-width="2.40" stroke-linecap="round" stroke-linejoin="round" />
<path d="M1049 1254 C1066 1262 1078 1270 1083 1281 C1092 1300 1095.5 1325 1096 1353 C1096 1372 1094 1390 1092 1398 L1080 1421 L1085 1400 C1089 1380 1090 1360 1089.5 1340 C1089 1315 1084 1292 1076.6 1277 C1071 1268 1060 1260 1049 1254 Z" fill="#000" stroke="#000" stroke-width="1.92" stroke-linecap="round" stroke-linejoin="round" />
<path d="M1049 1262.5 C1058 1280 1063 1298 1063.5 1318 C1064 1345 1052 1375 1043.8 1401.7" fill="none" stroke="#000" stroke-width="3.12" stroke-linecap="round" stroke-linejoin="round" />
<path d="M1059.3 1271.5 C1067 1288 1071 1303 1071.4 1320 C1071.5 1350 1058 1382 1049 1407" fill="none" stroke="#000" stroke-width="2.40" stroke-linecap="round" stroke-linejoin="round" />
<path d="M1055 1266 C1062 1282 1066 1300 1067 1318" fill="none" stroke="#000" stroke-width="1.68" stroke-linecap="round" stroke-linejoin="round" />
<path d="M1043.8 1401.7 L1040 1406 M1049 1407 L1047 1411.5 M1056 1408 C1062 1412 1068 1416 1074 1419" fill="none" stroke="#000" stroke-width="1.68" stroke-linecap="round" stroke-linejoin="round" />
<path d="M1020 1260 L1024 1283 L1035 1287 L1045 1273 L1047 1262 M1024 1283 L1017 1289 L1046 1286 L1052 1272 M1021 1269 L1021.5 1281 M1027 1254 L1036 1261 L1034 1277 L1024 1279" fill="none" stroke="#000" stroke-width="2.40" stroke-linecap="round" stroke-linejoin="round" />
<path d="M1035 1291 L1034.5 1322 L1030 1338 L1033 1362 L1031 1380 L1042 1392 L1040 1402 L1030 1398" fill="none" stroke="#000" stroke-width="1.68" stroke-linecap="round" stroke-linejoin="round" />
<path d="M1013 1332 L1026 1328 M1020 1335 C1022 1342 1022 1350 1020 1356 M1014 1350 L1018 1359 L1026 1357" fill="none" stroke="#000" stroke-width="1.68" stroke-linecap="round" stroke-linejoin="round" />
<path d="M1011 1269 L1011 1345 M1014 1340 L1026 1392" fill="none" stroke="#000" stroke-width="1.68" stroke-linecap="round" stroke-linejoin="round" />
<path d="M1004.9 1276.0 L1005.7 1276.8 L1006.2 1277.7 L1006.5 1278.9 L1006.4 1280.1 L1006.1 1281.2 L1005.5 1282.1 L1004.7 1282.7 L1003.7 1283.1 L1002.7 1283.0 L1001.8 1282.6 L1001.0 1281.9 L1000.4 1280.9 L1000.1 1279.8 L1000.1 1278.6" fill="none" stroke="#000" stroke-width="2.64" stroke-linecap="round" stroke-linejoin="round"/>
<path d="M1004.0 1338.1 L1004.8 1338.9 L1005.3 1339.8 L1005.6 1341.0 L1005.5 1342.2 L1005.2 1343.3 L1004.6 1344.2 L1003.8 1344.8 L1002.8 1345.2 L1001.8 1345.1 L1000.9 1344.7 L1000.1 1344.0 L999.5 1343.0 L999.2 1341.9 L999.2 1340.7" fill="none" stroke="#000" stroke-width="2.64" stroke-linecap="round" stroke-linejoin="round"/>
<path d="M1030.7 1405.3 L1031.5 1406.1 L1032.0 1407.0 L1032.3 1408.2 L1032.2 1409.4 L1031.9 1410.5 L1031.3 1411.4 L1030.5 1412.0 L1029.5 1412.4 L1028.5 1412.3 L1027.6 1411.9 L1026.8 1411.2 L1026.2 1410.2 L1025.9 1409.1 L1025.9 1407.9" fill="none" stroke="#000" stroke-width="2.64" stroke-linecap="round" stroke-linejoin="round"/>
<path d="M1072.1 1428.6 L1072.9 1429.4 L1073.4 1430.3 L1073.7 1431.5 L1073.6 1432.7 L1073.3 1433.8 L1072.7 1434.7 L1071.9 1435.3 L1070.9 1435.7 L1069.9 1435.6 L1069.0 1435.2 L1068.2 1434.5 L1067.6 1433.5 L1067.3 1432.4 L1067.3 1431.2" fill="none" stroke="#000" stroke-width="2.64" stroke-linecap="round" stroke-linejoin="round"/>
<path d="M1088.5 1419.1 L1089.3 1419.9 L1089.8 1420.8 L1090.1 1422.0 L1090.0 1423.2 L1089.7 1424.3 L1089.1 1425.2 L1088.3 1425.8 L1087.3 1426.2 L1086.3 1426.1 L1085.4 1425.7 L1084.6 1425.0 L1084.0 1424.0 L1083.7 1422.9 L1083.7 1421.7" fill="none" stroke="#000" stroke-width="2.64" stroke-linecap="round" stroke-linejoin="round"/>
<path d="M1102.3 1392.4 L1103.1 1393.2 L1103.6 1394.1 L1103.9 1395.3 L1103.8 1396.5 L1103.5 1397.6 L1102.9 1398.5 L1102.1 1399.1 L1101.1 1399.5 L1100.1 1399.4 L1099.2 1399.0 L1098.4 1398.3 L1097.8 1397.3 L1097.5 1396.2 L1097.5 1395.0" fill="none" stroke="#000" stroke-width="2.64" stroke-linecap="round" stroke-linejoin="round"/>
<path d="M1103.2 1326.0 L1104.0 1326.8 L1104.5 1327.7 L1104.8 1328.9 L1104.7 1330.1 L1104.4 1331.2 L1103.8 1332.1 L1103.0 1332.7 L1102.0 1333.1 L1101.0 1333.0 L1100.1 1332.6 L1099.3 1331.9 L1098.7 1330.9 L1098.4 1329.8 L1098.4 1328.6" fill="none" stroke="#000" stroke-width="2.64" stroke-linecap="round" stroke-linejoin="round"/>
<path d="M1079.9 1265.7 L1080.7 1266.5 L1081.2 1267.4 L1081.5 1268.6 L1081.4 1269.8 L1081.1 1270.9 L1080.5 1271.8 L1079.7 1272.4 L1078.7 1272.8 L1077.7 1272.7 L1076.8 1272.3 L1076.0 1271.6 L1075.4 1270.6 L1075.1 1269.5 L1075.1 1268.3" fill="none" stroke="#000" stroke-width="2.64" stroke-linecap="round" stroke-linejoin="round"/>
<path d="M1032.5 1241.2 L1033.3 1242.0 L1033.8 1242.9 L1034.1 1244.1 L1034.0 1245.3 L1033.7 1246.4 L1033.1 1247.3 L1032.3 1247.9 L1031.3 1248.3 L1030.3 1248.2 L1029.4 1247.8 L1028.6 1247.1 L1028.0 1246.1 L1027.7 1245.0 L1027.7 1243.8" fill="none" stroke="#000" stroke-width="2.64" stroke-linecap="round" stroke-linejoin="round"/>
<path d="M1016.1 1252.4 L1016.9 1253.2 L1017.4 1254.1 L1017.7 1255.3 L1017.6 1256.5 L1017.3 1257.6 L1016.7 1258.5 L1015.9 1259.1 L1014.9 1259.5 L1013.9 1259.4 L1013.0 1259.0 L1012.2 1258.3 L1011.6 1257.3 L1011.3 1256.2 L1011.3 1255.0" fill="none" stroke="#000" stroke-width="2.64" stroke-linecap="round" stroke-linejoin="round"/>
<path d="M1108.4 1313.8 L1108.8 1336 L1112 1337.5 M1114.5 1317 L1117.9 1393.1 M1112 1337.5 L1113 1392 M1118 1316 C1122 1324 1124 1332 1124.5 1340" fill="none" stroke="#000" stroke-width="1.68" stroke-linecap="round" stroke-linejoin="round" />
<path d="M1111 1395 L1113 1408 M1108 1400 L1120 1396 M1124.5 1340 C1128 1348 1130 1356 1130.5 1366 C1131 1372 1126 1376 1124 1384" fill="none" stroke="#000" stroke-width="1.68" stroke-linecap="round" stroke-linejoin="round" />
<path d="M1132 1345 L1136 1348 L1142 1344" fill="none" stroke="#000" stroke-width="2.40" stroke-linecap="round" stroke-linejoin="round" />
<path d="M1109 1279 L1116 1282 L1115 1292 M1097 1268 L1104 1285" fill="none" stroke="#000" stroke-width="2.40" stroke-linecap="round" stroke-linejoin="round" />
<path d="M1104.1 1422.4 L1098 1432 L1086.9 1439.7 M1098 1432 L1098 1441" fill="none" stroke="#000" stroke-width="2.40" stroke-linecap="round" stroke-linejoin="round" />
<path d="M1073.1 1441.4 L1081 1431 L1107.6 1415.5" fill="none" stroke="#000" stroke-width="2.40" stroke-linecap="round" stroke-linejoin="round" />
<path d="M1176 1303.5 L1164 1306 C1161 1307 1160.5 1313 1163.5 1314.5 L1177 1312.5 Z" fill="#fff" stroke="#000" stroke-width="2.64" stroke-linecap="round" stroke-linejoin="round" />
<path d="M1166.1 1304.8 L1166.7 1305.1 L1167.2 1305.8 L1167.5 1306.9 L1167.6 1308.1 L1167.5 1309.5 L1167.2 1310.8 L1166.7 1312.0 L1166.2 1312.9 L1165.5 1313.4 L1164.9 1313.6" fill="none" stroke="#000" stroke-width="2.04" stroke-linecap="round" stroke-linejoin="round"/>
<path d="M1169.6 1304.8 L1170.2 1305.1 L1170.7 1305.8 L1171.0 1306.9 L1171.1 1308.1 L1171.0 1309.5 L1170.7 1310.8 L1170.2 1312.0 L1169.7 1312.9 L1169.0 1313.4 L1168.4 1313.6" fill="none" stroke="#000" stroke-width="2.04" stroke-linecap="round" stroke-linejoin="round"/>
<path d="M1173.1 1304.8 L1173.7 1305.1 L1174.2 1305.8 L1174.5 1306.9 L1174.6 1308.1 L1174.5 1309.5 L1174.2 1310.8 L1173.7 1312.0 L1173.2 1312.9 L1172.5 1313.4 L1171.9 1313.6" fill="none" stroke="#000" stroke-width="2.04" stroke-linecap="round" stroke-linejoin="round"/>
<path d="M1176.6 1304.8 L1177.2 1305.1 L1177.7 1305.8 L1178.0 1306.9 L1178.1 1308.1 L1178.0 1309.5 L1177.7 1310.8 L1177.2 1312.0 L1176.7 1312.9 L1176.0 1313.4 L1175.4 1313.6" fill="none" stroke="#000" stroke-width="2.04" stroke-linecap="round" stroke-linejoin="round"/>
<ellipse cx="1191.5" cy="1307.5" rx="8.5" ry="12.2" fill="#fff" stroke="#000" stroke-width="3.12" transform="rotate(8.0 1191.5 1307.5)"/>
<path d="M1190.0 1298.0 L1198.5 1297.0" fill="none" stroke="#000" stroke-width="1.20" stroke-linecap="butt" stroke-linejoin="round"/>
<path d="M1190.0 1301.2 L1198.5 1300.2" fill="none" stroke="#000" stroke-width="1.20" stroke-linecap="butt" stroke-linejoin="round"/>
<path d="M1190.0 1304.4 L1198.5 1303.4" fill="none" stroke="#000" stroke-width="1.20" stroke-linecap="butt" stroke-linejoin="round"/>
<path d="M1190.0 1307.6 L1198.5 1306.6" fill="none" stroke="#000" stroke-width="1.20" stroke-linecap="butt" stroke-linejoin="round"/>
<path d="M1190.0 1310.8 L1198.5 1309.8" fill="none" stroke="#000" stroke-width="1.20" stroke-linecap="butt" stroke-linejoin="round"/>
<path d="M1190.0 1314.0 L1198.5 1313.0" fill="none" stroke="#000" stroke-width="1.20" stroke-linecap="butt" stroke-linejoin="round"/>
<path d="M1190.0 1317.2 L1198.5 1316.2" fill="none" stroke="#000" stroke-width="1.20" stroke-linecap="butt" stroke-linejoin="round"/>
<ellipse cx="1185.0" cy="1308.3" rx="8.6" ry="12.6" fill="#fff" stroke="#000" stroke-width="3.36" transform="rotate(8.0 1185.0 1308.3)"/>
<ellipse cx="1181.5" cy="1308.8" rx="4.6" ry="6.2" fill="#fff" stroke="#000" stroke-width="2.64" transform="rotate(8.0 1181.5 1308.8)"/>
<ellipse cx="1180.8" cy="1309.0" rx="2.0" ry="3.0" fill="none" stroke="#000" stroke-width="1.92" transform="rotate(8.0 1180.8 1309.0)"/>
<ellipse cx="166.7" cy="1590.8" rx="20.4" ry="15.5" fill="#fff" stroke="#000" stroke-width="3.36" transform="rotate(-117.9 166.7 1590.8)"/>
<path d="M150 1577 L160 1572 L172 1573.5 L180 1584 L181 1600 L172 1609 L160 1609.5 L150 1604" fill="#fff" stroke="#000" stroke-width="2.88" stroke-linecap="round" stroke-linejoin="round" />
<path d="M165 1574 L167.5 1608 M172 1586 L180.5 1590 M172 1586 L171 1574" fill="none" stroke="#000" stroke-width="2.16" stroke-linecap="round" stroke-linejoin="round" />
<ellipse cx="156.0" cy="1593.0" rx="17.0" ry="12.7" fill="#fff" stroke="#000" stroke-width="3.36" transform="rotate(-120.9 156.0 1593.0)"/>
<ellipse cx="156.0" cy="1593.0" rx="11.6" ry="8.7" fill="none" stroke="#000" stroke-width="2.88" transform="rotate(-120.9 156.0 1593.0)"/>
<path d="M158.8 1601.1 L158.3 1601.2 L157.8 1601.1 L157.4 1601.1 L156.9 1601.0 L156.4 1600.9 L155.9 1600.7 L155.4 1600.5 L155.0 1600.3 L154.5 1600.0 L154.0 1599.7 L153.6 1599.4 L153.1 1599.0 L152.7 1598.6 L152.3 1598.2 L151.9 1597.8 L151.6 1597.3 L151.2 1596.8 L150.9 1596.3 L150.6 1595.8 L150.4 1595.3 L150.1 1594.8 L149.9 1594.2 L149.8 1593.7 L149.6 1593.1 L149.5 1592.6 L149.4 1592.0 L149.4 1591.5 L149.4 1590.9 L149.4 1590.4 L149.4 1589.9 L149.5 1589.4 L149.6 1588.9 L149.8 1588.4 L150.0 1588.0 L150.2 1587.5 L150.4 1587.1" fill="none" stroke="#000" stroke-width="3.60" stroke-linecap="round" stroke-linejoin="round"/>
<path d="M156.4 1584.3 L156.8 1584.4 L157.2 1584.5 L157.7 1584.6 L158.1 1584.8 L158.6 1585.0 L159.0 1585.2 L159.4 1585.4 L159.9 1585.7 L160.3 1585.9 L160.7 1586.3 L161.1 1586.6 L161.5 1586.9 L161.8 1587.3 L162.2 1587.7 L162.5 1588.1 L162.9 1588.5 L163.2 1589.0 L163.4 1589.4 L163.7 1589.9 L164.0 1590.4 L164.2 1590.9 L164.4 1591.4 L164.6 1591.9 L164.7 1592.4 L164.8 1592.9 L165.0 1593.4 L165.0 1593.9 L165.1 1594.4 L165.1 1594.9 L165.1 1595.4 L165.1 1595.9 L165.0 1596.3 L165.0 1596.8 L164.9 1597.2 L164.7 1597.7 L164.6 1598.1" fill="none" stroke="#000" stroke-width="1.56" stroke-linecap="round" stroke-linejoin="round"/>
<path d="M247 1540 L266.2 1545.5 C274 1547 281 1556 281.7 1566.2 C282 1576 276 1585 266.2 1586.9 L255 1590 Z" fill="#fff" stroke="#000" stroke-width="3.12" stroke-linecap="round" stroke-linejoin="round" />
<path d="M256.7 1548.0 L257.3 1547.2 L258.0 1546.6 L258.7 1546.2 L259.5 1546.0 L260.3 1546.1 L261.2 1546.5 L262.1 1547.0 L263.1 1547.8 L264.0 1548.8 L265.0 1550.0 L265.9 1551.3 L266.8 1552.9 L267.7 1554.6 L268.5 1556.4 L269.3 1558.4 L270.0 1560.4 L270.7 1562.5 L271.3 1564.7 L271.8 1566.9 L272.2 1569.0 L272.5 1571.2 L272.7 1573.3 L272.8 1575.3 L272.9 1577.2 L272.8 1579.0 L272.6 1580.7 L272.3 1582.2 L272.0 1583.5 L271.5 1584.6 L271.0 1585.5 L270.3 1586.2 L269.6 1586.7 L268.9 1586.9 L268.0 1586.9 L267.2 1586.7 L266.3 1586.3" fill="none" stroke="#000" stroke-width="1.92" stroke-linecap="round" stroke-linejoin="round"/>
<path d="M216.2 1519.7 C217 1515 219 1512.5 223 1511.5 L231.7 1511.5 C238 1512.5 242 1515 243.5 1519 L247.2 1536.9 L250.7 1544 L258 1570 L262 1592 L267.9 1604.1 L269.7 1616.2 L259.3 1630 L250.7 1630.5 L235.2 1616.2 L233.4 1607.6 C230 1603 227 1600.5 223.1 1599 L195.5 1599 L188.6 1576.6 L205.9 1562.8 C210 1560 212 1558 212.8 1555.9 L214.5 1536.9 Z" fill="#fff" stroke="#000" stroke-width="3.36" stroke-linecap="round" stroke-linejoin="round" />
<path d="M236 1515 C239 1518 240 1522 241 1527 L244 1545 L253 1578 L257 1596 L262.5 1607 L264 1616 L256 1627" fill="none" stroke="#000" stroke-width="1.80" stroke-linecap="round" stroke-linejoin="round" />
<path d="M197 1597 L194 1580 L208 1568 M222 1597.5 L226 1602" fill="none" stroke="#000" stroke-width="1.68" stroke-linecap="round" stroke-linejoin="round" />
<ellipse cx="228.3" cy="1529.1" rx="8.6" ry="5.6" fill="#fff" stroke="#000" stroke-width="2.64" transform="rotate(-104.0 228.3 1529.1)"/>
<ellipse cx="228.3" cy="1529.1" rx="5.6" ry="3.4" fill="none" stroke="#000" stroke-width="2.16" transform="rotate(-104.0 228.3 1529.1)"/>
<path d="M227.6 1527.4 L227.9 1526.8 L228.5 1526.6 L229.0 1526.8 L229.6 1527.4 L230.0 1528.4 L230.3 1529.4 L230.3 1530.4 L230.0 1531.2 L229.6 1531.6 L229.1 1531.6" fill="none" stroke="#000" stroke-width="1.92" stroke-linecap="round" stroke-linejoin="round"/>
<ellipse cx="201.6" cy="1583.4" rx="8.6" ry="5.6" fill="#fff" stroke="#000" stroke-width="2.64" transform="rotate(-104.0 201.6 1583.4)"/>
<ellipse cx="201.6" cy="1583.4" rx="5.6" ry="3.4" fill="none" stroke="#000" stroke-width="2.16" transform="rotate(-104.0 201.6 1583.4)"/>
<path d="M200.9 1581.7 L201.2 1581.1 L201.8 1580.9 L202.3 1581.1 L202.9 1581.7 L203.3 1582.7 L203.6 1583.7 L203.6 1584.7 L203.3 1585.5 L202.9 1585.9 L202.4 1585.9" fill="none" stroke="#000" stroke-width="1.92" stroke-linecap="round" stroke-linejoin="round"/>
<ellipse cx="253.3" cy="1613.6" rx="8.6" ry="5.6" fill="#fff" stroke="#000" stroke-width="2.64" transform="rotate(-104.0 253.3 1613.6)"/>
<ellipse cx="253.3" cy="1613.6" rx="5.6" ry="3.4" fill="none" stroke="#000" stroke-width="2.16" transform="rotate(-104.0 253.3 1613.6)"/>
<path d="M252.6 1611.9 L252.9 1611.3 L253.5 1611.1 L254.0 1611.3 L254.6 1611.9 L255.0 1612.9 L255.3 1613.9 L255.3 1614.9 L255.0 1615.7 L254.6 1616.1 L254.1 1616.1" fill="none" stroke="#000" stroke-width="1.92" stroke-linecap="round" stroke-linejoin="round"/>
<ellipse cx="228.3" cy="1573.1" rx="22.0" ry="13.2" fill="#fff" stroke="#000" stroke-width="2.88" transform="rotate(-104.0 228.3 1573.1)"/>
<path d="M237.6 1597.7 L236.3 1598.3 L235.0 1598.7 L233.7 1599.0 L232.3 1599.2 L230.9 1599.1 L229.5 1599.0 L228.1 1598.6 L226.7 1598.1 L225.3 1597.5 L223.9 1596.7 L222.5 1595.8 L221.2 1594.7 L219.9 1593.6 L218.7 1592.2 L217.5 1590.8 L216.4 1589.3 L215.3 1587.6 L214.4 1585.9 L213.5 1584.1 L212.7 1582.3 L212.0 1580.3 L211.4 1578.4 L210.9 1576.4 L210.5 1574.4 L210.2 1572.3 L210.0 1570.3 L210.0 1568.3 L210.0 1566.4 L210.2 1564.4 L210.4 1562.5 L210.8 1560.7 L211.3 1559.0 L211.9 1557.3 L212.5 1555.8 L213.3 1554.3 L214.2 1553.0" fill="none" stroke="#000" stroke-width="1.80" stroke-linecap="round" stroke-linejoin="round"/>
<path d="M228.1 1547.5 L229.3 1547.8 L230.5 1548.3 L231.6 1548.8 L232.7 1549.5 L233.8 1550.2 L234.9 1551.0 L236.0 1552.0 L237.0 1553.0 L238.0 1554.0 L239.0 1555.2 L239.9 1556.4 L240.8 1557.7 L241.6 1559.1 L242.4 1560.5 L243.1 1562.0 L243.7 1563.5 L244.3 1565.0 L244.9 1566.6 L245.3 1568.2 L245.7 1569.8 L246.0 1571.5 L246.3 1573.1 L246.5 1574.7 L246.6 1576.4 L246.6 1578.0 L246.6 1579.6 L246.5 1581.2 L246.3 1582.7 L246.1 1584.2 L245.7 1585.7 L245.4 1587.1 L244.9 1588.5 L244.4 1589.8 L243.8 1591.0 L243.1 1592.1 L242.4 1593.2" fill="none" stroke="#000" stroke-width="1.80" stroke-linecap="round" stroke-linejoin="round"/>
<path d="M236 1553 C243 1560 246 1572 244.5 1584" fill="none" stroke="#000" stroke-width="2.40" stroke-linecap="round" stroke-linejoin="round" />
<path d="M239.5 1558 L243 1584 M242.5 1556 L247.5 1583" fill="none" stroke="#000" stroke-width="1.68" stroke-linecap="round" stroke-linejoin="round" />
<ellipse cx="311.5" cy="1553.1" rx="35.6" ry="23.0" fill="#fff" stroke="#000" stroke-width="2.88" transform="rotate(-105.1 311.5 1553.1)"/>
<ellipse cx="309.3" cy="1553.7" rx="35.6" ry="23.0" fill="#fff" stroke="#000" stroke-width="3.36" transform="rotate(-105.1 309.3 1553.7)"/>
<ellipse cx="307.6" cy="1558.5" rx="27.2" ry="16.5" fill="#fff" stroke="#000" stroke-width="3.12" transform="rotate(-103.7 307.6 1558.5)"/>
<path d="M294.5 1534.5 L295.4 1533.3 L296.3 1532.2 L297.3 1531.2 L298.4 1530.4 L299.5 1529.7 L300.7 1529.1 L301.9 1528.7 L303.2 1528.4 L304.4 1528.3 L305.8 1528.4 L307.1 1528.6 L308.4 1528.9 L309.8 1529.4 L311.1 1530.0 L312.4 1530.8 L313.7 1531.7 L315.0 1532.8 L316.3 1534.0 L317.5 1535.3 L318.7 1536.7 L319.8 1538.2 L320.8 1539.8 L321.8 1541.6 L322.8 1543.3 L323.6 1545.2 L324.4 1547.1 L325.1 1549.1 L325.7 1551.1 L326.3 1553.2 L326.7 1555.3 L327.0 1557.3 L327.3 1559.4 L327.5 1561.5 L327.5 1563.5 L327.5 1565.5 L327.3 1567.5" fill="none" stroke="#000" stroke-width="1.68" stroke-linecap="round" stroke-linejoin="round"/>
<path d="M321.8 1571.6 L321.3 1573.5 L320.6 1575.3 L319.8 1576.9 L318.9 1578.4 L317.9 1579.7 L316.7 1580.8 L315.5 1581.6 L314.2 1582.3 L312.9 1582.8 L311.4 1583.0 L310.0 1583.0 L308.5 1582.8 L307.0 1582.3 L305.5 1581.7 L304.0 1580.8 L302.5 1579.7 L301.1 1578.4 L299.8 1576.9 L298.5 1575.3 L297.2 1573.5 L296.1 1571.6 L295.1 1569.6 L294.2 1567.4 L293.4 1565.2 L292.8 1562.9 L292.2 1560.6 L291.9 1558.3 L291.6 1555.9 L291.5 1553.6 L291.6 1551.4 L291.8 1549.2 L292.1 1547.1 L292.6 1545.2 L293.2 1543.3 L294.0 1541.6 L294.8 1540.1" fill="none" stroke="#000" stroke-width="1.92" stroke-linecap="round" stroke-linejoin="round"/>
<ellipse cx="306.2" cy="1558.0" rx="18.7" ry="10.4" fill="#fff" stroke="#000" stroke-width="3.12" transform="rotate(-100.0 306.2 1558.0)"/>
<path d="M309.6 1544.7 L310.3 1545.2 L310.9 1545.8 L311.6 1546.5 L312.2 1547.3 L312.7 1548.1 L313.3 1549.0 L313.8 1549.9 L314.3 1550.9 L314.7 1552.0 L315.1 1553.1 L315.5 1554.2 L315.8 1555.3 L316.0 1556.5 L316.2 1557.7 L316.4 1558.8 L316.5 1560.0 L316.6 1561.2 L316.6 1562.3 L316.5 1563.5 L316.4 1564.6 L316.2 1565.6 L316.0 1566.6 L315.8 1567.6 L315.5 1568.5 L315.1 1569.4 L314.7 1570.2 L314.3 1570.9 L313.8 1571.6 L313.3 1572.1 L312.7 1572.6 L312.1 1573.0 L311.5 1573.3 L310.9 1573.6 L310.3 1573.7 L309.6 1573.8 L308.9 1573.7" fill="none" stroke="#000" stroke-width="2.16" stroke-linecap="round" stroke-linejoin="round"/>
<ellipse cx="358.2" cy="1541.0" rx="31.1" ry="22.2" fill="#fff" stroke="#000" stroke-width="2.88" transform="rotate(-104.8 358.2 1541.0)"/>
<ellipse cx="356.2" cy="1541.6" rx="31.1" ry="22.2" fill="#fff" stroke="#000" stroke-width="3.36" transform="rotate(-104.8 356.2 1541.6)"/>
<path d="M371.6 1563.0 L369.9 1565.0 L368.0 1566.7 L365.9 1568.0 L363.7 1568.9 L361.3 1569.5 L358.9 1569.6 L356.4 1569.4 L353.9 1568.7 L351.4 1567.7 L349.0 1566.2 L346.7 1564.5 L344.6 1562.4 L342.6 1559.9 L340.7 1557.3 L339.2 1554.4 L337.8 1551.3 L336.7 1548.1 L335.9 1544.8 L335.4 1541.5 L335.2 1538.2 L335.3 1534.9 L335.7 1531.7 L336.3 1528.7 L337.3 1525.9 L338.5 1523.3 L340.0 1521.0 L341.8 1519.0 L343.7 1517.4 L345.8 1516.1 L348.0 1515.2 L350.4 1514.7 L352.8 1514.6 L355.3 1514.9 L357.8 1515.6 L360.3 1516.6 L362.7 1518.1" fill="none" stroke="#000" stroke-width="1.92" stroke-linecap="round" stroke-linejoin="round"/>
<ellipse cx="355.0" cy="1542.0" rx="23.3" ry="14.5" fill="none" stroke="#000" stroke-width="2.88" transform="rotate(-102.2 355.0 1542.0)"/>
<ellipse cx="355.5" cy="1542.0" rx="18.3" ry="11.1" fill="#000" stroke="#000" stroke-width="2.40" transform="rotate(-102.6 355.5 1542.0)"/>
<ellipse cx="355.0" cy="1542.0" rx="10.0" ry="4.2" fill="#fff" stroke="#000" stroke-width="0.50" transform="rotate(-104.0 355.0 1542.0)"/>
<ellipse cx="355.5" cy="1542.0" rx="13.0" ry="6.0" fill="none" stroke="#000" stroke-width="1.20" transform="rotate(-104.0 355.5 1542.0)"/>
<path d="M356.9 1551.6 L356.5 1551.7 L356.1 1551.7 L355.7 1551.6 L355.3 1551.5 L354.9 1551.3 L354.5 1551.0 L354.0 1550.7 L353.6 1550.3 L353.2 1549.8 L352.8 1549.4 L352.4 1548.8 L352.0 1548.2 L351.7 1547.6 L351.3 1546.9 L351.0 1546.2 L350.7 1545.5 L350.4 1544.7 L350.2 1544.0 L350.0 1543.2 L349.8 1542.4 L349.6 1541.6 L349.5 1540.8 L349.4 1540.0 L349.4 1539.2 L349.4 1538.5 L349.4 1537.8 L349.4 1537.0 L349.5 1536.4 L349.7 1535.8 L349.8 1535.2 L350.0 1534.6 L350.2 1534.1 L350.5 1533.7 L350.7 1533.3 L351.0 1533.0 L351.4 1532.7" fill="none" stroke="#000" stroke-width="1.20" stroke-linecap="round" stroke-linejoin="round"/>
<path d="M357.8 1555.1 L357.2 1555.2 L356.7 1555.2 L356.2 1555.1 L355.6 1554.9 L355.0 1554.6 L354.4 1554.3 L353.9 1553.8 L353.3 1553.3 L352.7 1552.7 L352.2 1552.0 L351.6 1551.3 L351.1 1550.5 L350.6 1549.6 L350.2 1548.7 L349.7 1547.8 L349.3 1546.8 L349.0 1545.7 L348.6 1544.7 L348.3 1543.6 L348.1 1542.5 L347.9 1541.4 L347.7 1540.4 L347.6 1539.3 L347.5 1538.2 L347.5 1537.2 L347.5 1536.2 L347.6 1535.2 L347.7 1534.3 L347.9 1533.5 L348.1 1532.7 L348.4 1531.9 L348.7 1531.3 L349.0 1530.7 L349.4 1530.2 L349.8 1529.7 L350.2 1529.4" fill="none" stroke="#000" stroke-width="1.20" stroke-linecap="round" stroke-linejoin="round"/>
<ellipse cx="403.8" cy="1528.6" rx="30.8" ry="19.6" fill="#fff" stroke="#000" stroke-width="2.64" transform="rotate(-103.3 403.8 1528.6)"/>
<ellipse cx="402.1" cy="1529.1" rx="30.8" ry="19.6" fill="#fff" stroke="#000" stroke-width="3.12" transform="rotate(-103.3 402.1 1529.1)"/>
<ellipse cx="400.7" cy="1529.1" rx="13.6" ry="8.0" fill="none" stroke="#000" stroke-width="3.12" transform="rotate(-104.6 400.7 1529.1)"/>
<path d="M400.3 1518.5 L400.8 1518.5 L401.3 1518.6 L401.8 1518.8 L402.4 1519.0 L402.9 1519.3 L403.4 1519.7 L403.9 1520.1 L404.4 1520.6 L404.9 1521.1 L405.4 1521.7 L405.8 1522.3 L406.2 1522.9 L406.6 1523.6 L407.0 1524.3 L407.3 1525.1 L407.6 1525.9 L407.9 1526.7 L408.1 1527.5 L408.3 1528.3 L408.5 1529.1 L408.6 1529.9 L408.7 1530.8 L408.7 1531.6 L408.7 1532.4 L408.6 1533.1 L408.6 1533.9 L408.4 1534.6 L408.3 1535.3 L408.1 1536.0 L407.8 1536.6 L407.5 1537.1 L407.2 1537.6 L406.9 1538.1 L406.5 1538.5 L406.1 1538.9 L405.7 1539.2" fill="none" stroke="#000" stroke-width="1.68" stroke-linecap="round" stroke-linejoin="round"/>
<path d="M429.1 1491.0 L444.2 1488.9 L445.2 1488.2 L446.2 1487.7 L447.2 1487.3 L448.4 1487.2 L449.5 1487.4 L450.7 1487.7 L451.9 1488.2 L453.1 1489.0 L454.3 1489.9 L455.5 1491.1 L456.6 1492.4 L457.8 1493.9 L458.9 1495.6 L459.9 1497.4 L460.9 1499.4 L461.8 1501.4 L462.7 1503.6 L463.5 1505.9 L464.2 1508.2 L464.8 1510.6 L465.3 1513.0 L465.7 1515.4 L466.0 1517.9 L466.2 1520.2 L466.3 1522.6 L466.3 1524.9 L466.1 1527.1 L465.9 1529.1 L465.6 1531.1 L465.2 1532.9 L464.6 1534.6 L464.0 1536.2 L463.3 1537.5 L462.5 1538.7 L461.6 1539.6 L460.7 1540.4 L459.7 1541.0 L458.6 1541.3 L457.5 1541.5 L456.3 1541.4 L442.1 1547.4" fill="#000" stroke="#000" stroke-width="3.12" stroke-linecap="round" stroke-linejoin="round"/>
<ellipse cx="447.0" cy="1489.1" rx="3.0" ry="4.6" fill="#fff" stroke="none" transform="rotate(-34.4 447.0 1489.1)"/>
<ellipse cx="452.5" cy="1494.3" rx="3.0" ry="4.6" fill="#fff" stroke="none" transform="rotate(-27.5 452.5 1494.3)"/>
<ellipse cx="457.2" cy="1502.9" rx="3.0" ry="4.6" fill="#fff" stroke="none" transform="rotate(-20.6 457.2 1502.9)"/>
<ellipse cx="460.4" cy="1513.6" rx="3.0" ry="4.6" fill="#fff" stroke="none" transform="rotate(-13.7 460.4 1513.6)"/>
<ellipse cx="461.6" cy="1524.6" rx="3.0" ry="4.6" fill="#fff" stroke="none" transform="rotate(-6.8 461.6 1524.6)"/>
<ellipse cx="460.6" cy="1534.2" rx="3.0" ry="4.6" fill="#fff" stroke="none" transform="rotate(0.1 460.6 1534.2)"/>
<ellipse cx="438.4" cy="1518.3" rx="31.2" ry="14.9" fill="#fff" stroke="#000" stroke-width="3.12" transform="rotate(-101.9 438.4 1518.3)"/>
<ellipse cx="438.4" cy="1518.3" rx="26.7" ry="12.0" fill="none" stroke="#000" stroke-width="1.92" transform="rotate(-101.9 438.4 1518.3)"/>
<ellipse cx="438.3" cy="1519.8" rx="14.6" ry="8.2" fill="#fff" stroke="#000" stroke-width="2.88" transform="rotate(-100.5 438.3 1519.8)"/>
<path d="M440.0 1510.2 L440.5 1510.5 L441.1 1510.8 L441.6 1511.2 L442.1 1511.7 L442.6 1512.2 L443.0 1512.8 L443.5 1513.5 L443.9 1514.2 L444.3 1515.0 L444.6 1515.8 L444.9 1516.6 L445.2 1517.4 L445.4 1518.3 L445.6 1519.2 L445.8 1520.1 L445.9 1521.0 L445.9 1521.9 L445.9 1522.8 L445.9 1523.7 L445.8 1524.5 L445.7 1525.3 L445.5 1526.1 L445.3 1526.8 L445.0 1527.5 L444.7 1528.1 L444.4 1528.7 L444.0 1529.2 L443.6 1529.6 L443.2 1530.0 L442.7 1530.3 L442.2 1530.5 L441.7 1530.6 L441.2 1530.7 L440.7 1530.6 L440.1 1530.5 L439.6 1530.4" fill="none" stroke="#000" stroke-width="1.92" stroke-linecap="round" stroke-linejoin="round"/>
<path d="M480.7 1472.6 L498.9 1472.2 L500.5 1471.3 L502.1 1470.8 L503.9 1470.5 L505.7 1470.6 L507.5 1471.1 L509.4 1471.8 L511.3 1472.9 L513.1 1474.3 L514.9 1476.0 L516.6 1477.9 L518.3 1480.1 L519.8 1482.6 L521.3 1485.2 L522.6 1488.0 L523.7 1491.0 L524.7 1494.0 L525.5 1497.1 L526.2 1500.3 L526.6 1503.5 L526.9 1506.6 L526.9 1509.6 L526.8 1512.6 L526.5 1515.4 L525.9 1518.1 L525.2 1520.5 L524.3 1522.8 L523.3 1524.7 L522.0 1526.5 L520.7 1527.9 L519.2 1529.0 L503.3 1535.7" fill="#fff" stroke="#000" stroke-width="3.12" stroke-linecap="round" stroke-linejoin="round"/>
<ellipse cx="492.3" cy="1504.0" rx="33.9" ry="18.4" fill="#fff" stroke="#000" stroke-width="3.36" transform="rotate(-103.7 492.3 1504.0)"/>
<path d="M503.5 1534.1 L502.0 1534.9 L500.4 1535.3 L498.7 1535.5 L496.9 1535.4 L495.2 1535.0 L493.4 1534.3 L491.5 1533.4 L489.8 1532.1 L488.0 1530.6 L486.3 1528.8 L484.6 1526.8 L483.1 1524.6 L481.6 1522.2 L480.2 1519.6 L479.0 1516.9 L477.9 1514.0 L476.9 1511.1 L476.1 1508.1 L475.4 1505.0 L475.0 1502.0 L474.6 1498.9 L474.5 1495.9 L474.5 1493.0 L474.7 1490.2 L475.1 1487.5 L475.6 1485.0 L476.3 1482.6 L477.2 1480.5 L478.2 1478.5 L479.4 1476.8 L480.7 1475.4 L482.1 1474.2 L483.6 1473.3 L485.2 1472.7 L486.8 1472.4 L488.6 1472.4" fill="none" stroke="#000" stroke-width="1.56" stroke-linecap="round" stroke-linejoin="round"/>
<ellipse cx="501.5" cy="1504.7" rx="25.3" ry="10.0" fill="none" stroke="#000" stroke-width="2.64" transform="rotate(-96.9 501.5 1504.7)"/>
<path d="M502.3 1481.6 L503.1 1481.6 L503.9 1481.8 L504.7 1482.1 L505.5 1482.6 L506.3 1483.3 L507.1 1484.1 L507.9 1485.1 L508.7 1486.2 L509.4 1487.5 L510.1 1488.9 L510.8 1490.4 L511.4 1492.0 L512.0 1493.7 L512.5 1495.5 L513.0 1497.3 L513.4 1499.2 L513.7 1501.2 L514.0 1503.1 L514.2 1505.1 L514.3 1507.1 L514.4 1509.0 L514.4 1510.9 L514.3 1512.8 L514.1 1514.6 L513.9 1516.3 L513.6 1517.9 L513.3 1519.4 L512.9 1520.8 L512.4 1522.1 L511.9 1523.2 L511.3 1524.2 L510.7 1525.0 L510.0 1525.7 L509.3 1526.2 L508.5 1526.6 L507.8 1526.8" fill="none" stroke="#000" stroke-width="2.16" stroke-linecap="round" stroke-linejoin="round"/>
<path d="M535.8 1473.3 L547.8 1470.1 L549.0 1469.6 L550.3 1469.2 L551.7 1469.0 L553.1 1469.1 L554.5 1469.3 L555.9 1469.8 L557.4 1470.6 L558.7 1471.5 L560.1 1472.6 L561.4 1473.9 L562.6 1475.3 L563.7 1476.9 L564.7 1478.7 L565.6 1480.5 L566.4 1482.5 L567.1 1484.5 L567.6 1486.5 L567.9 1488.6 L568.1 1490.6 L568.2 1492.7 L568.1 1494.6 L567.9 1496.5 L567.5 1498.3 L566.9 1500.0 L566.2 1501.6 L565.4 1503.0 L564.5 1504.2 L563.4 1505.3 L562.3 1506.1 L561.0 1506.8 L549.0 1510.0" fill="#fff" stroke="#000" stroke-width="3.12" stroke-linecap="round" stroke-linejoin="round"/>
<ellipse cx="542.9" cy="1491.4" rx="19.6" ry="12.7" fill="#fff" stroke="#000" stroke-width="3.36" transform="rotate(-105.1 542.9 1491.4)"/>
<ellipse cx="542.9" cy="1491.4" rx="15.7" ry="10.2" fill="none" stroke="#000" stroke-width="2.16" transform="rotate(-105.1 542.9 1491.4)"/>
<ellipse cx="546.0" cy="1490.0" rx="15.0" ry="4.0" fill="#000" stroke="#000" stroke-width="1.68" transform="rotate(-104.0 546.0 1490.0)"/>
<path d="M545.0 1470.9 L546.0 1471.0 L547.1 1471.1 L548.1 1471.4 L549.1 1471.8 L550.1 1472.3 L551.2 1473.0 L552.1 1473.7 L553.1 1474.5 L554.0 1475.4 L554.9 1476.4 L555.8 1477.5 L556.6 1478.7 L557.3 1479.9 L558.0 1481.2 L558.7 1482.5 L559.3 1483.9 L559.8 1485.3 L560.2 1486.8 L560.5 1488.3 L560.8 1489.8 L561.0 1491.2 L561.2 1492.7 L561.2 1494.2 L561.2 1495.6 L561.1 1497.0 L560.9 1498.4 L560.6 1499.7 L560.2 1501.0 L559.8 1502.2 L559.3 1503.3 L558.8 1504.3 L558.1 1505.3 L557.4 1506.2 L556.7 1506.9 L555.9 1507.6 L555.0 1508.2" fill="none" stroke="#000" stroke-width="1.92" stroke-linecap="round" stroke-linejoin="round"/>
<path d="M548.5 1470.0 L549.5 1470.1 L550.6 1470.2 L551.6 1470.5 L552.6 1470.9 L553.6 1471.4 L554.7 1472.1 L555.6 1472.8 L556.6 1473.6 L557.5 1474.5 L558.4 1475.5 L559.3 1476.6 L560.1 1477.8 L560.8 1479.0 L561.5 1480.3 L562.2 1481.6 L562.8 1483.0 L563.3 1484.4 L563.7 1485.9 L564.0 1487.4 L564.3 1488.9 L564.5 1490.3 L564.7 1491.8 L564.7 1493.3 L564.7 1494.7 L564.6 1496.1 L564.4 1497.5 L564.1 1498.8 L563.7 1500.1 L563.3 1501.3 L562.8 1502.4 L562.3 1503.4 L561.6 1504.4 L560.9 1505.3 L560.2 1506.0 L559.4 1506.7 L558.5 1507.3" fill="none" stroke="#000" stroke-width="1.92" stroke-linecap="round" stroke-linejoin="round"/>
<path d="M928.3 1532.6 L917.4 1533.0 L914.1 1532.8 L911.0 1532.0 L908.1 1530.8 L905.4 1529.1 L903.0 1526.9 L900.9 1524.4 L899.1 1521.4 L897.7 1518.1 L896.7 1514.6 L896.1 1510.7 L895.9 1506.7 L896.1 1502.5 L896.8 1498.3 L897.8 1494.0 L899.2 1489.7 L900.9 1485.6 L903.0 1481.5 L905.4 1477.7 L908.1 1474.1 L911.1 1470.8 L914.2 1467.9 L917.5 1465.3 L920.9 1463.2 L924.4 1461.5 L927.9 1460.3 L931.4 1459.5 L934.9 1459.3 L938.2 1459.5 L941.3 1460.3 L944.2 1461.5 L954.0 1463.8" fill="#fff" stroke="#000" stroke-width="3.12" stroke-linecap="round" stroke-linejoin="round"/>
<ellipse cx="936.7" cy="1497.2" rx="37.6" ry="26.3" fill="#fff" stroke="#000" stroke-width="3.12" transform="rotate(-62.4 936.7 1497.2)"/>
<path d="M921.5 1529.7 L919.7 1528.9 L918.0 1527.9 L916.4 1526.7 L914.9 1525.3 L913.5 1523.7 L912.3 1522.0 L911.3 1520.1 L910.4 1518.0 L909.7 1515.8 L909.1 1513.5 L908.7 1511.1 L908.5 1508.6 L908.5 1506.1 L908.6 1503.5 L908.9 1500.8 L909.4 1498.1 L910.1 1495.4 L910.9 1492.7 L911.9 1490.1 L913.0 1487.5 L914.3 1484.9 L915.7 1482.5 L917.3 1480.1 L919.0 1477.8 L920.7 1475.7 L922.6 1473.7 L924.6 1471.8 L926.6 1470.1 L928.7 1468.6 L930.9 1467.3 L933.1 1466.1 L935.3 1465.2 L937.5 1464.4 L939.7 1463.9 L941.9 1463.6 L944.0 1463.5" fill="none" stroke="#000" stroke-width="1.56" stroke-linecap="round" stroke-linejoin="round"/>
<ellipse cx="936.1" cy="1497.1" rx="28.6" ry="20.1" fill="none" stroke="#000" stroke-width="3.12" transform="rotate(-59.0 936.1 1497.1)"/>
<path d="M956.2 1475.5 L957.1 1476.5 L957.9 1477.5 L958.6 1478.7 L959.2 1479.9 L959.7 1481.1 L960.2 1482.5 L960.5 1483.9 L960.8 1485.4 L960.9 1486.9 L961.0 1488.4 L961.0 1490.0 L960.8 1491.7 L960.6 1493.3 L960.3 1495.0 L959.9 1496.6 L959.4 1498.3 L958.8 1499.9 L958.1 1501.5 L957.4 1503.2 L956.5 1504.7 L955.6 1506.3 L954.6 1507.7 L953.6 1509.2 L952.5 1510.6 L951.3 1511.9 L950.1 1513.1 L948.8 1514.2 L947.5 1515.3 L946.2 1516.3 L944.8 1517.2 L943.4 1518.0 L942.0 1518.7 L940.6 1519.3 L939.2 1519.7 L937.8 1520.1 L936.4 1520.4" fill="none" stroke="#000" stroke-width="2.40" stroke-linecap="round" stroke-linejoin="round"/>
<path d="M943.7 1516.3 L942.7 1517.0 L941.7 1517.7 L940.7 1518.3 L939.6 1518.8 L938.6 1519.3 L937.6 1519.8 L936.5 1520.1 L935.5 1520.4 L934.5 1520.7 L933.4 1520.8 L932.4 1520.9 L931.4 1521.0 L930.4 1521.0 L929.5 1520.9 L928.5 1520.7 L927.6 1520.5 L926.7 1520.2 L925.8 1519.9 L925.0 1519.5 L924.2 1519.0 L923.5 1518.5 L922.7 1517.9 L922.1 1517.3 L921.4 1516.6 L920.8 1515.8 L920.3 1515.0 L919.8 1514.2 L919.4 1513.3 L919.0 1512.3 L918.6 1511.4 L918.3 1510.4 L918.1 1509.3 L917.9 1508.2 L917.8 1507.1 L917.7 1506.0 L917.7 1504.8" fill="none" stroke="#000" stroke-width="1.68" stroke-linecap="round" stroke-linejoin="round"/>
<ellipse cx="986.5" cy="1530.7" rx="37.7" ry="28.9" fill="#fff" stroke="#000" stroke-width="2.88" transform="rotate(-66.2 986.5 1530.7)"/>
<ellipse cx="988.3" cy="1529.7" rx="37.7" ry="28.9" fill="#fff" stroke="#000" stroke-width="2.64" transform="rotate(-66.2 988.3 1529.7)"/>
<ellipse cx="989.9" cy="1530.2" rx="27.6" ry="18.1" fill="none" stroke="#000" stroke-width="3.12" transform="rotate(-64.7 989.9 1530.2)"/>
<path d="M995.5 1506.6 L996.9 1506.6 L998.3 1506.8 L999.6 1507.1 L1000.9 1507.5 L1002.1 1508.1 L1003.2 1508.9 L1004.2 1509.8 L1005.2 1510.9 L1006.0 1512.0 L1006.7 1513.3 L1007.4 1514.7 L1007.9 1516.3 L1008.3 1517.9 L1008.5 1519.6 L1008.7 1521.3 L1008.7 1523.2 L1008.6 1525.0 L1008.4 1526.9 L1008.0 1528.9 L1007.6 1530.8 L1007.0 1532.7 L1006.3 1534.7 L1005.5 1536.5 L1004.6 1538.4 L1003.6 1540.2 L1002.6 1541.9 L1001.4 1543.5 L1000.2 1545.1 L998.9 1546.5 L997.5 1547.9 L996.1 1549.1 L994.7 1550.2 L993.2 1551.1 L991.7 1551.9 L990.2 1552.6 L988.7 1553.1" fill="none" stroke="#000" stroke-width="2.40" stroke-linecap="round" stroke-linejoin="round"/>
<ellipse cx="1049.0" cy="1565.1" rx="48.4" ry="36.1" fill="none" stroke="#000" stroke-width="2.88" transform="rotate(-58.1 1049.0 1565.1)"/>
<ellipse cx="1049.0" cy="1565.1" rx="43.8" ry="31.5" fill="none" stroke="#000" stroke-width="2.88" transform="rotate(-58.1 1049.0 1565.1)"/>
<ellipse cx="1132.4" cy="1622.3" rx="55.8" ry="42.4" fill="#fff" stroke="none" transform="rotate(-62.8 1132.4 1622.3)"/>
<path d="M1143 1557.5 C1132 1556.5 1124 1557 1116.9 1559 C1107 1563 1100 1568 1094.5 1574.5 C1087 1584 1082.5 1594 1080.7 1605.5 L1079 1617.6 C1079 1630 1080.5 1641 1084.1 1650.3 C1089 1660 1097 1667 1106.6 1671 L1113 1676" fill="none" stroke="#000" stroke-width="3.60" stroke-linecap="round" stroke-linejoin="round" />
<path d="M1088 1600 C1086 1612 1086 1626 1088.5 1638 M1086.5 1618 L1085.5 1632" fill="none" stroke="#000" stroke-width="1.80" stroke-linecap="round" stroke-linejoin="round" />
<ellipse cx="1120.3" cy="1579.7" rx="11.8" ry="9.6" fill="#fff" stroke="#000" stroke-width="3.36" transform="rotate(-62.0 1120.3 1579.7)"/>
<ellipse cx="1151.4" cy="1566.7" rx="11.8" ry="9.6" fill="#fff" stroke="#000" stroke-width="3.36" transform="rotate(-62.0 1151.4 1566.7)"/>
<ellipse cx="1174.7" cy="1585.7" rx="11.8" ry="9.6" fill="#fff" stroke="#000" stroke-width="3.36" transform="rotate(-62.0 1174.7 1585.7)"/>
<ellipse cx="1172.9" cy="1623.6" rx="11.8" ry="9.6" fill="#fff" stroke="#000" stroke-width="3.36" transform="rotate(-62.0 1172.9 1623.6)"/>
<ellipse cx="1153.1" cy="1652.9" rx="11.8" ry="9.6" fill="#fff" stroke="#000" stroke-width="3.36" transform="rotate(-62.0 1153.1 1652.9)"/>
<ellipse cx="1119.5" cy="1666.7" rx="11.8" ry="9.6" fill="#fff" stroke="#000" stroke-width="3.36" transform="rotate(-62.0 1119.5 1666.7)"/>
<ellipse cx="1097.1" cy="1647.8" rx="11.8" ry="9.6" fill="#fff" stroke="#000" stroke-width="3.36" transform="rotate(-62.0 1097.1 1647.8)"/>
<ellipse cx="1097.9" cy="1606.4" rx="11.8" ry="9.6" fill="#fff" stroke="#000" stroke-width="3.36" transform="rotate(-62.0 1097.9 1606.4)"/>
<ellipse cx="1137.4" cy="1619.3" rx="47.3" ry="36.9" fill="#fff" stroke="#000" stroke-width="2.64" transform="rotate(-62.8 1137.4 1619.3)"/>
<ellipse cx="1120.3" cy="1579.7" rx="7.0" ry="5.4" fill="#fff" stroke="#000" stroke-width="2.64" transform="rotate(-62.0 1120.3 1579.7)"/>
<ellipse cx="1120.3" cy="1579.7" rx="4.2" ry="3.2" fill="#000" stroke="#000" stroke-width="1.92" transform="rotate(-62.0 1120.3 1579.7)"/>
<ellipse cx="1121.3" cy="1579.2" rx="2.6" ry="1.9" fill="#fff" stroke="none" transform="rotate(-62.0 1121.3 1579.2)"/>
<ellipse cx="1151.4" cy="1566.7" rx="7.0" ry="5.4" fill="#fff" stroke="#000" stroke-width="2.64" transform="rotate(-62.0 1151.4 1566.7)"/>
<ellipse cx="1151.4" cy="1566.7" rx="4.2" ry="3.2" fill="#000" stroke="#000" stroke-width="1.92" transform="rotate(-62.0 1151.4 1566.7)"/>
<ellipse cx="1152.4" cy="1566.2" rx="2.6" ry="1.9" fill="#fff" stroke="none" transform="rotate(-62.0 1152.4 1566.2)"/>
<ellipse cx="1174.7" cy="1585.7" rx="7.0" ry="5.4" fill="#fff" stroke="#000" stroke-width="2.64" transform="rotate(-62.0 1174.7 1585.7)"/>
<ellipse cx="1174.7" cy="1585.7" rx="4.2" ry="3.2" fill="#000" stroke="#000" stroke-width="1.92" transform="rotate(-62.0 1174.7 1585.7)"/>
<ellipse cx="1175.7" cy="1585.2" rx="2.6" ry="1.9" fill="#fff" stroke="none" transform="rotate(-62.0 1175.7 1585.2)"/>
<ellipse cx="1172.9" cy="1623.6" rx="7.0" ry="5.4" fill="#fff" stroke="#000" stroke-width="2.64" transform="rotate(-62.0 1172.9 1623.6)"/>
<ellipse cx="1172.9" cy="1623.6" rx="4.2" ry="3.2" fill="#000" stroke="#000" stroke-width="1.92" transform="rotate(-62.0 1172.9 1623.6)"/>
<ellipse cx="1173.9" cy="1623.1" rx="2.6" ry="1.9" fill="#fff" stroke="none" transform="rotate(-62.0 1173.9 1623.1)"/>
<ellipse cx="1153.1" cy="1652.9" rx="7.0" ry="5.4" fill="#fff" stroke="#000" stroke-width="2.64" transform="rotate(-62.0 1153.1 1652.9)"/>
<ellipse cx="1153.1" cy="1652.9" rx="4.2" ry="3.2" fill="#000" stroke="#000" stroke-width="1.92" transform="rotate(-62.0 1153.1 1652.9)"/>
<ellipse cx="1154.1" cy="1652.4" rx="2.6" ry="1.9" fill="#fff" stroke="none" transform="rotate(-62.0 1154.1 1652.4)"/>
<ellipse cx="1119.5" cy="1666.7" rx="7.0" ry="5.4" fill="#fff" stroke="#000" stroke-width="2.64" transform="rotate(-62.0 1119.5 1666.7)"/>
<ellipse cx="1119.5" cy="1666.7" rx="4.2" ry="3.2" fill="#000" stroke="#000" stroke-width="1.92" transform="rotate(-62.0 1119.5 1666.7)"/>
<ellipse cx="1120.5" cy="1666.2" rx="2.6" ry="1.9" fill="#fff" stroke="none" transform="rotate(-62.0 1120.5 1666.2)"/>
<ellipse cx="1097.1" cy="1647.8" rx="7.0" ry="5.4" fill="#fff" stroke="#000" stroke-width="2.64" transform="rotate(-62.0 1097.1 1647.8)"/>
<ellipse cx="1097.1" cy="1647.8" rx="4.2" ry="3.2" fill="#000" stroke="#000" stroke-width="1.92" transform="rotate(-62.0 1097.1 1647.8)"/>
<ellipse cx="1098.1" cy="1647.3" rx="2.6" ry="1.9" fill="#fff" stroke="none" transform="rotate(-62.0 1098.1 1647.3)"/>
<ellipse cx="1097.9" cy="1606.4" rx="7.0" ry="5.4" fill="#fff" stroke="#000" stroke-width="2.64" transform="rotate(-62.0 1097.9 1606.4)"/>
<ellipse cx="1097.9" cy="1606.4" rx="4.2" ry="3.2" fill="#000" stroke="#000" stroke-width="1.92" transform="rotate(-62.0 1097.9 1606.4)"/>
<ellipse cx="1098.9" cy="1605.9" rx="2.6" ry="1.9" fill="#fff" stroke="none" transform="rotate(-62.0 1098.9 1605.9)"/>
<path d="M1104 1590 l4 5 l3 -4 M1092 1628 l7 -2 l0 7 M1094 1636 l6 -1" fill="none" stroke="#000" stroke-width="1.92" stroke-linecap="round" stroke-linejoin="round" />
<circle cx="1164.5" cy="1574.5" r="2.8" fill="#000" stroke="none" stroke-width="0"/>
<ellipse cx="1138.4" cy="1619.3" rx="42.6" ry="32.2" fill="#fff" stroke="#000" stroke-width="1.92" transform="rotate(-62.8 1138.4 1619.3)"/>
<ellipse cx="1138.4" cy="1619.3" rx="39.8" ry="29.4" fill="#fff" stroke="#000" stroke-width="3.36" transform="rotate(-62.8 1138.4 1619.3)"/>
<ellipse cx="1132.5" cy="1614.8" rx="34.3" ry="21.4" fill="#fff" stroke="#000" stroke-width="3.84" transform="rotate(-61.2 1132.5 1614.8)"/>
<path d="M1154.6 1585.2 L1155.7 1586.2 L1156.8 1587.3 L1157.8 1588.6 L1158.7 1590.0 L1159.4 1591.5 L1160.1 1593.1 L1160.6 1594.8 L1161.0 1596.6 L1161.3 1598.5 L1161.5 1600.5 L1161.5 1602.5 L1161.4 1604.6 L1161.2 1606.7 L1160.9 1608.9 L1160.4 1611.1 L1159.9 1613.4 L1159.2 1615.6 L1158.4 1617.8 L1157.5 1620.0 L1156.5 1622.2 L1155.4 1624.4 L1154.2 1626.4 L1152.9 1628.5 L1151.6 1630.4 L1150.1 1632.3 L1148.6 1634.1 L1147.0 1635.8 L1145.4 1637.4 L1143.8 1638.8 L1142.1 1640.2 L1140.3 1641.4 L1138.6 1642.5 L1136.8 1643.5 L1135.1 1644.3 L1133.3 1644.9 L1131.6 1645.4" fill="none" stroke="#000" stroke-width="2.40" stroke-linecap="round" stroke-linejoin="round"/>
<path d="M1158.1 1584.7 L1159.2 1585.7 L1160.3 1586.8 L1161.3 1588.1 L1162.2 1589.5 L1162.9 1591.0 L1163.6 1592.6 L1164.1 1594.3 L1164.5 1596.1 L1164.8 1598.0 L1165.0 1600.0 L1165.0 1602.0 L1164.9 1604.1 L1164.7 1606.2 L1164.4 1608.4 L1163.9 1610.6 L1163.4 1612.9 L1162.7 1615.1 L1161.9 1617.3 L1161.0 1619.5 L1160.0 1621.7 L1158.9 1623.9 L1157.7 1625.9 L1156.4 1628.0 L1155.1 1629.9 L1153.6 1631.8 L1152.1 1633.6 L1150.5 1635.3 L1148.9 1636.9 L1147.3 1638.3 L1145.6 1639.7 L1143.8 1640.9 L1142.1 1642.0 L1140.3 1643.0 L1138.6 1643.8 L1136.8 1644.4 L1135.1 1644.9" fill="none" stroke="#000" stroke-width="1.80" stroke-linecap="round" stroke-linejoin="round"/>
<path d="M1161.1 1584.2 L1162.2 1585.2 L1163.3 1586.3 L1164.3 1587.6 L1165.2 1589.0 L1165.9 1590.5 L1166.6 1592.1 L1167.1 1593.8 L1167.5 1595.6 L1167.8 1597.5 L1168.0 1599.5 L1168.0 1601.5 L1167.9 1603.6 L1167.7 1605.7 L1167.4 1607.9 L1166.9 1610.1 L1166.4 1612.4 L1165.7 1614.6 L1164.9 1616.8 L1164.0 1619.0 L1163.0 1621.2 L1161.9 1623.4 L1160.7 1625.4 L1159.4 1627.5 L1158.1 1629.4 L1156.6 1631.3 L1155.1 1633.1 L1153.5 1634.8 L1151.9 1636.4 L1150.3 1637.8 L1148.6 1639.2 L1146.8 1640.4 L1145.1 1641.5 L1143.3 1642.5 L1141.6 1643.3 L1139.8 1643.9 L1138.1 1644.4" fill="none" stroke="#000" stroke-width="2.16" stroke-linecap="round" stroke-linejoin="round"/>
<path d="M1163.4 1583.9 L1164.5 1584.9 L1165.6 1586.0 L1166.6 1587.3 L1167.5 1588.7 L1168.2 1590.2 L1168.9 1591.8 L1169.4 1593.5 L1169.8 1595.3 L1170.1 1597.2 L1170.3 1599.2 L1170.3 1601.2 L1170.2 1603.3 L1170.0 1605.4 L1169.7 1607.6 L1169.2 1609.8 L1168.7 1612.1 L1168.0 1614.3 L1167.2 1616.5 L1166.3 1618.7 L1165.3 1620.9 L1164.2 1623.1 L1163.0 1625.1 L1161.7 1627.2 L1160.4 1629.1 L1158.9 1631.0 L1157.4 1632.8 L1155.8 1634.5 L1154.2 1636.1 L1152.6 1637.5 L1150.9 1638.9 L1149.1 1640.1 L1147.4 1641.2 L1145.6 1642.2 L1143.9 1643.0 L1142.1 1643.6 L1140.4 1644.1" fill="none" stroke="#000" stroke-width="1.68" stroke-linecap="round" stroke-linejoin="round"/>
<path d="M1145.2 1634.8 L1144.3 1635.8 L1143.3 1636.8 L1142.4 1637.7 L1141.5 1638.5 L1140.5 1639.3 L1139.5 1640.1 L1138.5 1640.9 L1137.5 1641.6 L1136.5 1642.2 L1135.5 1642.8 L1134.5 1643.3 L1133.5 1643.8 L1132.5 1644.2 L1131.4 1644.6 L1130.4 1645.0 L1129.4 1645.2 L1128.5 1645.5 L1127.5 1645.6 L1126.5 1645.7 L1125.6 1645.8 L1124.6 1645.8 L1123.7 1645.7 L1122.8 1645.6 L1121.9 1645.4 L1121.1 1645.2 L1120.2 1644.9 L1119.4 1644.6 L1118.7 1644.2 L1117.9 1643.7 L1117.2 1643.2 L1116.5 1642.7 L1115.9 1642.1 L1115.2 1641.4 L1114.7 1640.7 L1114.1 1640.0 L1113.6 1639.2" fill="none" stroke="#000" stroke-width="1.92" stroke-linecap="round" stroke-linejoin="round"/>
<path d="M1167.9 1692.4 L1154.9 1684.9 L1150.7 1692.2 L1163.7 1699.7 Z" fill="#fff" stroke="#000" stroke-width="2.40" stroke-linecap="round" stroke-linejoin="round"/>
<path d="M1163.6 1689.9 L1160.7 1697.9" fill="none" stroke="#000" stroke-width="1.92" stroke-linecap="butt" stroke-linejoin="round"/>
<path d="M1161.0 1688.4 L1158.1 1696.4" fill="none" stroke="#000" stroke-width="1.92" stroke-linecap="butt" stroke-linejoin="round"/>
<path d="M1158.4 1686.9 L1155.5 1694.9" fill="none" stroke="#000" stroke-width="1.92" stroke-linecap="butt" stroke-linejoin="round"/>
<path d="M1155.8 1685.4 L1152.9 1693.4" fill="none" stroke="#000" stroke-width="1.92" stroke-linecap="butt" stroke-linejoin="round"/>
<ellipse cx="1167.7" cy="1697.1" rx="8.6" ry="5.3" fill="#fff" stroke="#000" stroke-width="2.64" transform="rotate(-60.0 1167.7 1697.1)"/>
<ellipse cx="1172.2" cy="1699.7" rx="7.1" ry="4.7" fill="#fff" stroke="#000" stroke-width="2.64" transform="rotate(-60.0 1172.2 1699.7)"/>
<path d="M1174.6 1697.1 L1174.9 1697.3 L1175.1 1697.5 L1175.2 1697.7 L1175.4 1698.0 L1175.5 1698.3 L1175.5 1698.7 L1175.6 1699.0 L1175.5 1699.4 L1175.5 1699.8 L1175.4 1700.1 L1175.3 1700.5 L1175.1 1700.9 L1174.9 1701.3 L1174.7 1701.6 L1174.4 1702.0 L1174.2 1702.3 L1173.9 1702.5 L1173.6 1702.8 L1173.3 1703.0 L1172.9 1703.1 L1172.6 1703.2 L1172.3 1703.3 L1172.0 1703.3 L1171.7 1703.3 L1171.4 1703.2 L1171.2 1703.1 L1170.9 1702.9 L1170.7 1702.7 L1170.6 1702.5 L1170.4 1702.2 L1170.3 1701.9 L1170.3 1701.5 L1170.3 1701.2 L1170.3 1700.8 L1170.3 1700.4 L1170.4 1700.0" fill="none" stroke="#000" stroke-width="1.68" stroke-linecap="round" stroke-linejoin="round"/>
<ellipse cx="1209.3" cy="1661.0" rx="33.7" ry="28.6" fill="#fff" stroke="#000" stroke-width="3.36" transform="rotate(-63.4 1209.3 1661.0)"/>
<ellipse cx="1211.3" cy="1659.8" rx="33.7" ry="28.6" fill="#fff" stroke="#000" stroke-width="3.12" transform="rotate(-63.4 1211.3 1659.8)"/>
<ellipse cx="1210.7" cy="1660.2" rx="31.2" ry="26.5" fill="none" stroke="#000" stroke-width="1.80" transform="rotate(-63.4 1210.7 1660.2)"/>
<ellipse cx="1212.6" cy="1663.2" rx="22.3" ry="17.2" fill="none" stroke="#000" stroke-width="4.08" transform="rotate(-66.5 1212.6 1663.2)"/>
<path d="M1216.5 1680.9 L1215.0 1681.8 L1213.3 1682.6 L1211.7 1683.2 L1210.0 1683.5 L1208.4 1683.7 L1206.8 1683.7 L1205.2 1683.5 L1203.6 1683.0 L1202.2 1682.4 L1200.8 1681.6 L1199.6 1680.6 L1198.4 1679.5 L1197.4 1678.2 L1196.5 1676.7 L1195.8 1675.2 L1195.2 1673.5 L1194.8 1671.7 L1194.6 1669.8 L1194.5 1667.9 L1194.6 1665.9 L1194.9 1664.0 L1195.3 1662.0 L1195.9 1660.1 L1196.6 1658.2 L1197.5 1656.3 L1198.5 1654.6 L1199.7 1652.9 L1200.9 1651.4 L1202.3 1650.0 L1203.8 1648.7 L1205.3 1647.6 L1206.9 1646.7 L1208.5 1646.0 L1210.1 1645.4 L1211.8 1645.1 L1213.5 1644.9" fill="none" stroke="#000" stroke-width="3.84" stroke-linecap="round" stroke-linejoin="round"/>
<path d="M1211.6 1681.3 L1210.3 1681.5 L1209.1 1681.6 L1207.9 1681.6 L1206.7 1681.5 L1205.6 1681.2 L1204.5 1680.9 L1203.4 1680.4 L1202.4 1679.8 L1201.5 1679.1 L1200.6 1678.3 L1199.8 1677.4 L1199.1 1676.4 L1198.4 1675.3 L1197.9 1674.2 L1197.4 1673.0 L1197.1 1671.7 L1196.8 1670.4 L1196.6 1669.0 L1196.6 1667.6 L1196.6 1666.1 L1196.7 1664.7 L1197.0 1663.2 L1197.3 1661.8 L1197.7 1660.3 L1198.2 1658.9 L1198.8 1657.5 L1199.5 1656.2 L1200.3 1654.9 L1201.1 1653.7 L1202.1 1652.6 L1203.0 1651.5 L1204.1 1650.5 L1205.2 1649.6 L1206.3 1648.8 L1207.5 1648.1 L1208.7 1647.5" fill="none" stroke="#000" stroke-width="2.16" stroke-linecap="round" stroke-linejoin="round"/>
<ellipse cx="1212.2" cy="1661.5" rx="14.0" ry="10.4" fill="none" stroke="#000" stroke-width="3.36" transform="rotate(-72.7 1212.2 1661.5)"/>
<path d="M1215.3 1649.8 L1216.0 1649.9 L1216.7 1650.1 L1217.4 1650.4 L1218.0 1650.7 L1218.6 1651.1 L1219.2 1651.6 L1219.7 1652.2 L1220.2 1652.8 L1220.6 1653.5 L1221.0 1654.2 L1221.3 1655.0 L1221.6 1655.8 L1221.8 1656.7 L1221.9 1657.6 L1221.9 1658.5 L1221.9 1659.5 L1221.9 1660.4 L1221.7 1661.4 L1221.5 1662.4 L1221.3 1663.3 L1220.9 1664.2 L1220.6 1665.1 L1220.1 1666.0 L1219.6 1666.8 L1219.1 1667.6 L1218.5 1668.3 L1217.9 1669.0 L1217.3 1669.6 L1216.6 1670.2 L1215.9 1670.6 L1215.2 1671.0 L1214.4 1671.3 L1213.7 1671.6 L1212.9 1671.7 L1212.2 1671.8 L1211.4 1671.8" fill="none" stroke="#000" stroke-width="2.16" stroke-linecap="round" stroke-linejoin="round"/>
<path d="M1215.7 1646.0 L1216.7 1646.2 L1217.6 1646.4 L1218.6 1646.7 L1219.5 1647.2 L1220.3 1647.7 L1221.1 1648.4 L1221.8 1649.1 L1222.5 1650.0 L1223.1 1650.9 L1223.6 1651.9 L1224.1 1653.0 L1224.5 1654.1 L1224.7 1655.3 L1224.9 1656.5 L1225.1 1657.8 L1225.1 1659.1 L1225.0 1660.4 L1224.9 1661.7 L1224.7 1663.0 L1224.4 1664.3 L1224.0 1665.6 L1223.5 1666.8 L1222.9 1668.1 L1222.3 1669.2 L1221.6 1670.4 L1220.9 1671.4 L1220.1 1672.4 L1219.2 1673.3 L1218.3 1674.1 L1217.4 1674.8 L1216.4 1675.5 L1215.4 1676.0 L1214.4 1676.4 L1213.3 1676.8 L1212.3 1677.0 L1211.3 1677.1" fill="none" stroke="#000" stroke-width="1.80" stroke-linecap="round" stroke-linejoin="round"/>
<ellipse cx="1263.7" cy="1694.8" rx="42.5" ry="31.6" fill="#000" stroke="#000" stroke-width="3.36" transform="rotate(-60.6 1263.7 1694.8)"/>
<ellipse cx="1266.9" cy="1693.0" rx="42.5" ry="31.6" fill="#fff" stroke="#000" stroke-width="2.88" transform="rotate(-60.6 1266.9 1693.0)"/>
<path d="M1249.7 1732.9 L1247.4 1732.1 L1245.2 1731.1 L1243.1 1729.8 L1241.1 1728.4 L1239.3 1726.7 L1237.6 1724.8 L1236.1 1722.7 L1234.8 1720.5 L1233.7 1718.1 L1232.7 1715.6 L1232.0 1712.9 L1231.4 1710.1 L1231.1 1707.2 L1231.0 1704.2 L1231.0 1701.2 L1231.3 1698.1 L1231.8 1695.0 L1232.5 1691.9 L1233.4 1688.8 L1234.5 1685.7 L1235.7 1682.7 L1237.2 1679.8 L1238.8 1676.9 L1240.6 1674.1 L1242.5 1671.5 L1244.6 1669.0 L1246.8 1666.6 L1249.1 1664.4 L1251.5 1662.4 L1253.9 1660.5 L1256.5 1658.9 L1259.1 1657.5 L1261.8 1656.3 L1264.4 1655.3 L1267.1 1654.5 L1269.8 1654.0" fill="none" stroke="#000" stroke-width="1.20" stroke-linecap="round" stroke-linejoin="round"/>
<path d="M1262.2 1731.1 L1259.0 1731.4 L1256.0 1731.4 L1253.0 1730.9 L1250.2 1730.2 L1247.5 1729.0 L1245.0 1727.6 L1242.7 1725.8 L1240.6 1723.7 L1238.7 1721.3 L1237.1 1718.7 L1235.8 1715.8 L1234.8 1712.8 L1234.0 1709.5 L1233.6 1706.1 L1233.5 1702.5 L1233.7 1698.9 L1234.2 1695.2 L1234.9 1691.5 L1236.0 1687.9 L1237.4 1684.2 L1239.0 1680.7 L1240.9 1677.3 L1243.1 1674.0 L1245.4 1670.9 L1248.0 1668.1 L1250.7 1665.4 L1253.5 1663.0 L1256.5 1661.0 L1259.6 1659.2 L1262.7 1657.7 L1265.9 1656.6 L1269.1 1655.8 L1272.2 1655.4 L1275.3 1655.3 L1278.3 1655.6 L1281.2 1656.2" fill="none" stroke="#000" stroke-width="1.68" stroke-linecap="round" stroke-linejoin="round"/>
<ellipse cx="1267.8" cy="1693.4" rx="30.4" ry="21.9" fill="none" stroke="#000" stroke-width="3.36" transform="rotate(-68.1 1267.8 1693.4)"/>
<path d="M1271.6 1661.7 L1273.9 1661.6 L1276.2 1661.9 L1278.4 1662.4 L1280.5 1663.1 L1282.5 1664.1 L1284.3 1665.4 L1286.1 1666.9 L1287.7 1668.6 L1289.1 1670.6 L1290.3 1672.7 L1291.4 1675.0 L1292.2 1677.5 L1292.8 1680.1 L1293.3 1682.8 L1293.5 1685.6 L1293.4 1688.5 L1293.2 1691.4 L1292.8 1694.3 L1292.1 1697.3 L1291.2 1700.2 L1290.2 1703.0 L1288.9 1705.7 L1287.5 1708.4 L1285.9 1710.9 L1284.1 1713.3 L1282.2 1715.5 L1280.2 1717.5 L1278.1 1719.3 L1275.9 1720.9 L1273.6 1722.3 L1271.3 1723.4 L1268.9 1724.3 L1266.6 1724.9 L1264.2 1725.2 L1261.9 1725.3 L1259.6 1725.1" fill="none" stroke="#000" stroke-width="1.56" stroke-linecap="round" stroke-linejoin="round"/>
<path d="M1312.7 1698.3 L1311.5 1697.8 L1310.3 1697.1 L1309.3 1696.2 L1308.4 1695.1 L1307.6 1693.9 L1307.0 1692.6 L1306.6 1691.2 L1306.4 1689.7 L1306.3 1688.2 L1306.4 1686.6 L1306.7 1685.1 L1307.2 1683.5 L1307.8 1682.0 L1308.7 1680.6 L1309.6 1679.3 L1310.7 1678.1 L1311.9 1677.1 L1313.1 1676.2 L1314.5 1675.4 L1315.9 1674.9 L1317.3 1674.6 L1318.7 1674.4 L1320.1 1674.5 L1321.4 1674.8 L1322.7 1675.2 L1323.9 1675.9 L1325.0 1676.7 L1325.9 1677.7 L1326.7 1678.9 L1327.4 1680.1 L1327.9 1681.5 L1328.2 1683.0 L1328.3 1684.5 L1328.2 1686.1 L1328.0 1687.6 L1327.6 1689.2 L1327.0 1690.7 L1326.2 1692.1 L1325.3 1693.5 L1324.3 1694.7" fill="none" stroke="#000" stroke-width="4.80" stroke-linecap="round" stroke-linejoin="round"/>
<path d="M1312.9 1710.2 C1308 1709.5 1303 1713 1301.5 1720 C1300.5 1727 1301.5 1733 1305.5 1736 L1333.5 1751.6 L1362 1760 L1368 1735 L1352.8 1725 C1346 1722 1340 1722 1335 1719 Z" fill="#fff" stroke="#000" stroke-width="3.36" stroke-linecap="round" stroke-linejoin="round" />
<path d="M1309.0 1715.5 L1328.5 1724.0" fill="none" stroke="#000" stroke-width="1.80" stroke-linecap="butt" stroke-linejoin="round"/>
<path d="M1309.3 1719.7 L1328.5 1728.2" fill="none" stroke="#000" stroke-width="1.80" stroke-linecap="butt" stroke-linejoin="round"/>
<path d="M1309.6 1723.9 L1328.5 1732.4" fill="none" stroke="#000" stroke-width="1.80" stroke-linecap="butt" stroke-linejoin="round"/>
<path d="M1309.9 1728.1 L1328.5 1736.6" fill="none" stroke="#000" stroke-width="1.80" stroke-linecap="butt" stroke-linejoin="round"/>
<path d="M1310.2 1732.3 L1328.5 1740.8" fill="none" stroke="#000" stroke-width="1.80" stroke-linecap="butt" stroke-linejoin="round"/>
<path d="M1309 1712 l3 1 M1307 1716 l3 1" fill="none" stroke="#000" stroke-width="1.92" stroke-linecap="round" stroke-linejoin="round" />
<path d="M1330 1722 C1326 1730 1326 1740 1330 1748" fill="none" stroke="#000" stroke-width="2.16" stroke-linecap="round" stroke-linejoin="round" />
<path d="M1335 1719.5 C1331 1728 1331 1742 1336 1752.5" fill="none" stroke="#000" stroke-width="1.68" stroke-linecap="round" stroke-linejoin="round" />
<ellipse cx="1376.4" cy="1761.0" rx="56.2" ry="46.1" fill="#000" stroke="#000" stroke-width="3.60" transform="rotate(-63.0 1376.4 1761.0)"/>
<ellipse cx="1379.0" cy="1759.4" rx="56.2" ry="46.1" fill="#fff" stroke="#000" stroke-width="3.12" transform="rotate(-63.0 1379.0 1759.4)"/>
<ellipse cx="1381.6" cy="1759.8" rx="51.0" ry="38.8" fill="none" stroke="#000" stroke-width="2.16" transform="rotate(-68.9 1381.6 1759.8)"/>
<path d="M1412.4 1780.7 L1410.1 1784.7 L1407.4 1788.4 L1404.5 1791.9 L1401.4 1795.1 L1398.1 1797.9 L1394.6 1800.4 L1391.1 1802.5 L1387.4 1804.2 L1383.7 1805.5 L1379.9 1806.4 L1376.2 1806.8 L1372.5 1806.8 L1369.0 1806.3 L1365.5 1805.4 L1362.2 1804.1 L1359.0 1802.3 L1356.1 1800.2 L1353.4 1797.6 L1351.0 1794.8 L1348.9 1791.5 L1347.1 1788.0 L1345.6 1784.3 L1344.4 1780.2 L1343.6 1776.1 L1343.1 1771.7 L1343.0 1767.2 L1343.3 1762.7 L1343.9 1758.1 L1344.9 1753.6 L1346.2 1749.1 L1347.9 1744.7 L1349.9 1740.5 L1352.2 1736.4 L1354.7 1732.6 L1357.5 1729.0 L1360.5 1725.7" fill="none" stroke="#000" stroke-width="1.68" stroke-linecap="round" stroke-linejoin="round"/>
<path d="M1397.9 1723.5 L1409.8 1736.2 L1400.2 1747.9 L1401.1 1752.5 L1413.3 1753.3 L1408.2 1774.5 L1396.4 1771.9 L1393.4 1775.9 L1397.0 1789.5 L1380.0 1798.1 L1377.9 1783.7 L1374.0 1783.2 L1365.3 1796.0 L1353.4 1783.3 L1363.0 1771.6 L1362.1 1767.0 L1349.9 1766.2 L1355.0 1745.0 L1366.8 1747.6 L1369.8 1743.6 L1366.2 1730.0 L1383.2 1721.4 L1385.3 1735.8 L1389.2 1736.3 Z" fill="#fff" stroke="#000" stroke-width="3.36" stroke-linecap="round" stroke-linejoin="round"/>
<path d="M1373.0 1776.9 L1371.5 1776.2 L1370.2 1775.2 L1368.9 1774.1 L1367.8 1772.8 L1366.9 1771.3 L1366.2 1769.6 L1365.6 1767.8 L1365.2 1765.9 L1365.0 1763.9 L1365.0 1761.9 L1365.2 1759.8 L1365.6 1757.8 L1366.2 1755.7 L1367.0 1753.7 L1367.9 1751.8 L1369.0 1750.0 L1370.3 1748.3 L1371.6 1746.8 L1373.1 1745.5 L1374.7 1744.3 L1376.3 1743.4 L1378.0 1742.7 L1379.7 1742.2 L1381.4 1741.9 L1383.0 1741.9 L1384.7 1742.2 L1386.2 1742.6 L1387.7 1743.3 L1389.0 1744.3 L1390.3 1745.4 L1391.4 1746.7 L1392.3 1748.2 L1393.0 1749.9 L1393.6 1751.7 L1394.0 1753.6 L1394.2 1755.6" fill="none" stroke="#000" stroke-width="2.64" stroke-linecap="round" stroke-linejoin="round"/>
<path d="M1362 1748 C1366 1744 1372 1743 1377 1745 M1358 1760 C1360 1766 1364 1769 1369 1770 M1398 1738 L1396 1752 M1383 1780 L1401 1768 M1376 1786 L1392 1796" fill="none" stroke="#000" stroke-width="2.16" stroke-linecap="round" stroke-linejoin="round" />
<ellipse cx="1382.3" cy="1721.3" rx="5.4" ry="4.2" fill="#000" stroke="#000" stroke-width="1.20" transform="rotate(-60.0 1382.3 1721.3)"/>
<ellipse cx="1409.6" cy="1735.4" rx="5.4" ry="4.2" fill="#000" stroke="#000" stroke-width="1.20" transform="rotate(-60.0 1409.6 1735.4)"/>
<ellipse cx="1408.2" cy="1770.8" rx="5.4" ry="4.2" fill="#000" stroke="#000" stroke-width="1.20" transform="rotate(-60.0 1408.2 1770.8)"/>
<ellipse cx="1380.8" cy="1796.7" rx="5.4" ry="4.2" fill="#000" stroke="#000" stroke-width="1.20" transform="rotate(-60.0 1380.8 1796.7)"/>
<ellipse cx="1350.5" cy="1785.6" rx="5.4" ry="4.2" fill="#000" stroke="#000" stroke-width="1.20" transform="rotate(-60.0 1350.5 1785.6)"/>
<ellipse cx="1352.8" cy="1747.2" rx="5.4" ry="4.2" fill="#000" stroke="#000" stroke-width="1.20" transform="rotate(-60.0 1352.8 1747.2)"/>
</svg>
</body></html>
